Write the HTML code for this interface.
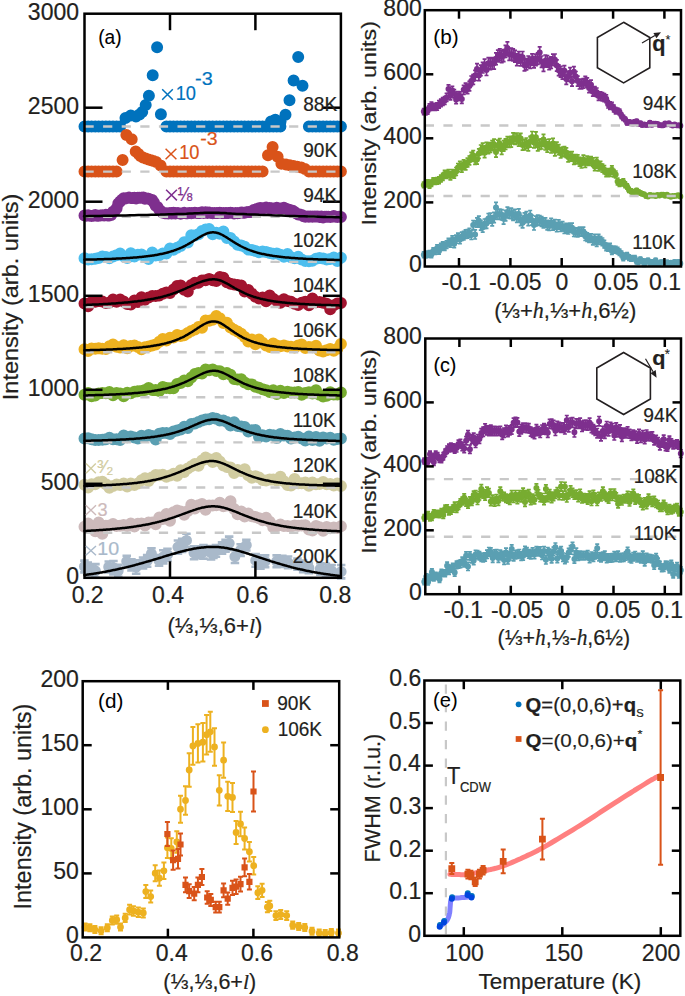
<!DOCTYPE html>
<html><head><meta charset="utf-8"><style>
html,body{margin:0;padding:0;background:#fff;}
svg{display:block;font-family:"Liberation Sans", sans-serif;}
</style></head><body>
<svg width="685" height="996" viewBox="0 0 685 996">
<rect width="685" height="996" fill="#fff"/>
<path d="M78.5 126.5a6 6 0 1 0 12 0a6 6 0 1 0 -12 0M82.1 126.5a6 6 0 1 0 12 0a6 6 0 1 0 -12 0M85.6 126.5a6 6 0 1 0 12 0a6 6 0 1 0 -12 0M89.2 126.5a6 6 0 1 0 12 0a6 6 0 1 0 -12 0M92.7 126.5a6 6 0 1 0 12 0a6 6 0 1 0 -12 0M96.3 126.5a6 6 0 1 0 12 0a6 6 0 1 0 -12 0M99.9 126.5a6 6 0 1 0 12 0a6 6 0 1 0 -12 0M103.4 126.5a6 6 0 1 0 12 0a6 6 0 1 0 -12 0M107 126.5a6 6 0 1 0 12 0a6 6 0 1 0 -12 0M110.6 126.5a6 6 0 1 0 12 0a6 6 0 1 0 -12 0M114.1 126.5a6 6 0 1 0 12 0a6 6 0 1 0 -12 0M160.4 126.5a6 6 0 1 0 12 0a6 6 0 1 0 -12 0M164 126.5a6 6 0 1 0 12 0a6 6 0 1 0 -12 0M167.5 126.5a6 6 0 1 0 12 0a6 6 0 1 0 -12 0M171.1 126.5a6 6 0 1 0 12 0a6 6 0 1 0 -12 0M174.7 126.5a6 6 0 1 0 12 0a6 6 0 1 0 -12 0M178.2 126.5a6 6 0 1 0 12 0a6 6 0 1 0 -12 0M181.8 126.5a6 6 0 1 0 12 0a6 6 0 1 0 -12 0M185.3 126.5a6 6 0 1 0 12 0a6 6 0 1 0 -12 0M188.9 126.5a6 6 0 1 0 12 0a6 6 0 1 0 -12 0M192.5 126.5a6 6 0 1 0 12 0a6 6 0 1 0 -12 0M196 126.5a6 6 0 1 0 12 0a6 6 0 1 0 -12 0M199.6 126.5a6 6 0 1 0 12 0a6 6 0 1 0 -12 0M203.1 126.5a6 6 0 1 0 12 0a6 6 0 1 0 -12 0M206.7 126.5a6 6 0 1 0 12 0a6 6 0 1 0 -12 0M210.3 126.5a6 6 0 1 0 12 0a6 6 0 1 0 -12 0M213.8 126.5a6 6 0 1 0 12 0a6 6 0 1 0 -12 0M217.4 126.5a6 6 0 1 0 12 0a6 6 0 1 0 -12 0M220.9 126.5a6 6 0 1 0 12 0a6 6 0 1 0 -12 0M224.5 126.5a6 6 0 1 0 12 0a6 6 0 1 0 -12 0M228.1 126.5a6 6 0 1 0 12 0a6 6 0 1 0 -12 0M231.6 126.5a6 6 0 1 0 12 0a6 6 0 1 0 -12 0M235.2 126.5a6 6 0 1 0 12 0a6 6 0 1 0 -12 0M238.7 126.5a6 6 0 1 0 12 0a6 6 0 1 0 -12 0M242.3 126.5a6 6 0 1 0 12 0a6 6 0 1 0 -12 0M245.9 126.5a6 6 0 1 0 12 0a6 6 0 1 0 -12 0M249.4 126.5a6 6 0 1 0 12 0a6 6 0 1 0 -12 0M253 126.5a6 6 0 1 0 12 0a6 6 0 1 0 -12 0M256.6 126.5a6 6 0 1 0 12 0a6 6 0 1 0 -12 0M260.1 126.5a6 6 0 1 0 12 0a6 6 0 1 0 -12 0M263.7 126.5a6 6 0 1 0 12 0a6 6 0 1 0 -12 0M267.2 126.5a6 6 0 1 0 12 0a6 6 0 1 0 -12 0M270.8 126.5a6 6 0 1 0 12 0a6 6 0 1 0 -12 0M274.4 126.5a6 6 0 1 0 12 0a6 6 0 1 0 -12 0M302.9 126.5a6 6 0 1 0 12 0a6 6 0 1 0 -12 0M306.4 126.5a6 6 0 1 0 12 0a6 6 0 1 0 -12 0M310 126.5a6 6 0 1 0 12 0a6 6 0 1 0 -12 0M313.5 126.5a6 6 0 1 0 12 0a6 6 0 1 0 -12 0M317.1 126.5a6 6 0 1 0 12 0a6 6 0 1 0 -12 0M320.7 126.5a6 6 0 1 0 12 0a6 6 0 1 0 -12 0M324.2 126.5a6 6 0 1 0 12 0a6 6 0 1 0 -12 0M327.8 126.5a6 6 0 1 0 12 0a6 6 0 1 0 -12 0M331.3 126.5a6 6 0 1 0 12 0a6 6 0 1 0 -12 0M334.9 126.5a6 6 0 1 0 12 0a6 6 0 1 0 -12 0M119.5 118.1a6 6 0 1 0 12 0a6 6 0 1 0 -12 0M124.8 115.5a6 6 0 1 0 12 0a6 6 0 1 0 -12 0M130 116.4a6 6 0 1 0 12 0a6 6 0 1 0 -12 0M133.5 114.5a6 6 0 1 0 12 0a6 6 0 1 0 -12 0M136.2 112a6 6 0 1 0 12 0a6 6 0 1 0 -12 0M139.7 105a6 6 0 1 0 12 0a6 6 0 1 0 -12 0M142.9 95.7a6 6 0 1 0 12 0a6 6 0 1 0 -12 0M146.7 75.2a6 6 0 1 0 12 0a6 6 0 1 0 -12 0M151.1 47.2a6 6 0 1 0 12 0a6 6 0 1 0 -12 0M154.9 114.3a6 6 0 1 0 12 0a6 6 0 1 0 -12 0M265 121.5a6 6 0 1 0 12 0a6 6 0 1 0 -12 0M269.3 119.7a6 6 0 1 0 12 0a6 6 0 1 0 -12 0M274.6 121.2a6 6 0 1 0 12 0a6 6 0 1 0 -12 0M279.5 114.8a6 6 0 1 0 12 0a6 6 0 1 0 -12 0M283.5 100.2a6 6 0 1 0 12 0a6 6 0 1 0 -12 0M287.6 80.6a6 6 0 1 0 12 0a6 6 0 1 0 -12 0M292.2 56.9a6 6 0 1 0 12 0a6 6 0 1 0 -12 0M296.5 85.7a6 6 0 1 0 12 0a6 6 0 1 0 -12 0" fill="#0072BD"/>
<path d="M78.5 171.6a6 6 0 1 0 12 0a6 6 0 1 0 -12 0M82.1 171.6a6 6 0 1 0 12 0a6 6 0 1 0 -12 0M85.6 171.6a6 6 0 1 0 12 0a6 6 0 1 0 -12 0M89.2 171.6a6 6 0 1 0 12 0a6 6 0 1 0 -12 0M92.7 171.6a6 6 0 1 0 12 0a6 6 0 1 0 -12 0M96.3 171.6a6 6 0 1 0 12 0a6 6 0 1 0 -12 0M99.9 171.6a6 6 0 1 0 12 0a6 6 0 1 0 -12 0M103.4 171.6a6 6 0 1 0 12 0a6 6 0 1 0 -12 0M107 171.6a6 6 0 1 0 12 0a6 6 0 1 0 -12 0M110.6 171.6a6 6 0 1 0 12 0a6 6 0 1 0 -12 0M160.4 171.6a6 6 0 1 0 12 0a6 6 0 1 0 -12 0M164 171.6a6 6 0 1 0 12 0a6 6 0 1 0 -12 0M167.5 171.6a6 6 0 1 0 12 0a6 6 0 1 0 -12 0M171.1 171.6a6 6 0 1 0 12 0a6 6 0 1 0 -12 0M174.7 171.6a6 6 0 1 0 12 0a6 6 0 1 0 -12 0M178.2 171.6a6 6 0 1 0 12 0a6 6 0 1 0 -12 0M181.8 171.6a6 6 0 1 0 12 0a6 6 0 1 0 -12 0M185.3 171.6a6 6 0 1 0 12 0a6 6 0 1 0 -12 0M188.9 171.6a6 6 0 1 0 12 0a6 6 0 1 0 -12 0M192.5 171.6a6 6 0 1 0 12 0a6 6 0 1 0 -12 0M196 171.6a6 6 0 1 0 12 0a6 6 0 1 0 -12 0M199.6 171.6a6 6 0 1 0 12 0a6 6 0 1 0 -12 0M203.1 171.6a6 6 0 1 0 12 0a6 6 0 1 0 -12 0M206.7 171.6a6 6 0 1 0 12 0a6 6 0 1 0 -12 0M210.3 171.6a6 6 0 1 0 12 0a6 6 0 1 0 -12 0M213.8 171.6a6 6 0 1 0 12 0a6 6 0 1 0 -12 0M217.4 171.6a6 6 0 1 0 12 0a6 6 0 1 0 -12 0M220.9 171.6a6 6 0 1 0 12 0a6 6 0 1 0 -12 0M224.5 171.6a6 6 0 1 0 12 0a6 6 0 1 0 -12 0M228.1 171.6a6 6 0 1 0 12 0a6 6 0 1 0 -12 0M231.6 171.6a6 6 0 1 0 12 0a6 6 0 1 0 -12 0M235.2 171.6a6 6 0 1 0 12 0a6 6 0 1 0 -12 0M238.7 171.6a6 6 0 1 0 12 0a6 6 0 1 0 -12 0M242.3 171.6a6 6 0 1 0 12 0a6 6 0 1 0 -12 0M245.9 171.6a6 6 0 1 0 12 0a6 6 0 1 0 -12 0M249.4 171.6a6 6 0 1 0 12 0a6 6 0 1 0 -12 0M253 171.6a6 6 0 1 0 12 0a6 6 0 1 0 -12 0M256.6 171.6a6 6 0 1 0 12 0a6 6 0 1 0 -12 0M302.9 171.6a6 6 0 1 0 12 0a6 6 0 1 0 -12 0M306.4 171.6a6 6 0 1 0 12 0a6 6 0 1 0 -12 0M310 171.6a6 6 0 1 0 12 0a6 6 0 1 0 -12 0M313.5 171.6a6 6 0 1 0 12 0a6 6 0 1 0 -12 0M317.1 171.6a6 6 0 1 0 12 0a6 6 0 1 0 -12 0M320.7 171.6a6 6 0 1 0 12 0a6 6 0 1 0 -12 0M324.2 171.6a6 6 0 1 0 12 0a6 6 0 1 0 -12 0M327.8 171.6a6 6 0 1 0 12 0a6 6 0 1 0 -12 0M331.3 171.6a6 6 0 1 0 12 0a6 6 0 1 0 -12 0M334.9 171.6a6 6 0 1 0 12 0a6 6 0 1 0 -12 0M116.6 160a6 6 0 1 0 12 0a6 6 0 1 0 -12 0M120.4 134.9a6 6 0 1 0 12 0a6 6 0 1 0 -12 0M125.7 139.3a6 6 0 1 0 12 0a6 6 0 1 0 -12 0M129.7 151.5a6 6 0 1 0 12 0a6 6 0 1 0 -12 0M132.5 154a6 6 0 1 0 12 0a6 6 0 1 0 -12 0M134.4 155.9a6 6 0 1 0 12 0a6 6 0 1 0 -12 0M137 157.5a6 6 0 1 0 12 0a6 6 0 1 0 -12 0M139.7 158.5a6 6 0 1 0 12 0a6 6 0 1 0 -12 0M142.5 159.5a6 6 0 1 0 12 0a6 6 0 1 0 -12 0M145 160.3a6 6 0 1 0 12 0a6 6 0 1 0 -12 0M147.5 161a6 6 0 1 0 12 0a6 6 0 1 0 -12 0M150.2 162a6 6 0 1 0 12 0a6 6 0 1 0 -12 0M154.6 165.5a6 6 0 1 0 12 0a6 6 0 1 0 -12 0M262 155.3a6 6 0 1 0 12 0a6 6 0 1 0 -12 0M266.6 146.9a6 6 0 1 0 12 0a6 6 0 1 0 -12 0M271.6 156.8a6 6 0 1 0 12 0a6 6 0 1 0 -12 0M275.4 163.7a6 6 0 1 0 12 0a6 6 0 1 0 -12 0M280 164.5a6 6 0 1 0 12 0a6 6 0 1 0 -12 0M283.8 165.2a6 6 0 1 0 12 0a6 6 0 1 0 -12 0M287.6 166a6 6 0 1 0 12 0a6 6 0 1 0 -12 0M291.4 166.8a6 6 0 1 0 12 0a6 6 0 1 0 -12 0M295.3 167.6a6 6 0 1 0 12 0a6 6 0 1 0 -12 0M299 169a6 6 0 1 0 12 0a6 6 0 1 0 -12 0" fill="#D95319"/>
<path d="M78.5 215.5a6 6 0 1 0 12 0a6 6 0 1 0 -12 0M82.1 215.2a6 6 0 1 0 12 0a6 6 0 1 0 -12 0M85.6 216a6 6 0 1 0 12 0a6 6 0 1 0 -12 0M89.2 215a6 6 0 1 0 12 0a6 6 0 1 0 -12 0M92.7 215.7a6 6 0 1 0 12 0a6 6 0 1 0 -12 0M96.3 215.3a6 6 0 1 0 12 0a6 6 0 1 0 -12 0M99.9 214.8a6 6 0 1 0 12 0a6 6 0 1 0 -12 0M103.4 215.5a6 6 0 1 0 12 0a6 6 0 1 0 -12 0M107 211.8a6 6 0 1 0 12 0a6 6 0 1 0 -12 0M110.6 208.3a6 6 0 1 0 12 0a6 6 0 1 0 -12 0M114.1 201.6a6 6 0 1 0 12 0a6 6 0 1 0 -12 0M117.7 198.3a6 6 0 1 0 12 0a6 6 0 1 0 -12 0M121.2 197.9a6 6 0 1 0 12 0a6 6 0 1 0 -12 0M124.8 198.1a6 6 0 1 0 12 0a6 6 0 1 0 -12 0M128.4 197.7a6 6 0 1 0 12 0a6 6 0 1 0 -12 0M131.9 197.8a6 6 0 1 0 12 0a6 6 0 1 0 -12 0M135.5 197.7a6 6 0 1 0 12 0a6 6 0 1 0 -12 0M139 198.7a6 6 0 1 0 12 0a6 6 0 1 0 -12 0M142.6 198.7a6 6 0 1 0 12 0a6 6 0 1 0 -12 0M146.2 199.9a6 6 0 1 0 12 0a6 6 0 1 0 -12 0M149.7 205.7a6 6 0 1 0 12 0a6 6 0 1 0 -12 0M153.3 209.8a6 6 0 1 0 12 0a6 6 0 1 0 -12 0M156.8 212.7a6 6 0 1 0 12 0a6 6 0 1 0 -12 0M160.4 213.2a6 6 0 1 0 12 0a6 6 0 1 0 -12 0M164 212.9a6 6 0 1 0 12 0a6 6 0 1 0 -12 0M167.5 212.8a6 6 0 1 0 12 0a6 6 0 1 0 -12 0M171.1 213.1a6 6 0 1 0 12 0a6 6 0 1 0 -12 0M174.7 213.8a6 6 0 1 0 12 0a6 6 0 1 0 -12 0M178.2 212.7a6 6 0 1 0 12 0a6 6 0 1 0 -12 0M181.8 213.3a6 6 0 1 0 12 0a6 6 0 1 0 -12 0M185.3 213.3a6 6 0 1 0 12 0a6 6 0 1 0 -12 0M188.9 212.8a6 6 0 1 0 12 0a6 6 0 1 0 -12 0M192.5 213.1a6 6 0 1 0 12 0a6 6 0 1 0 -12 0M196 212.3a6 6 0 1 0 12 0a6 6 0 1 0 -12 0M199.6 212.3a6 6 0 1 0 12 0a6 6 0 1 0 -12 0M203.1 212.5a6 6 0 1 0 12 0a6 6 0 1 0 -12 0M206.7 213.3a6 6 0 1 0 12 0a6 6 0 1 0 -12 0M210.3 212.9a6 6 0 1 0 12 0a6 6 0 1 0 -12 0M213.8 212.7a6 6 0 1 0 12 0a6 6 0 1 0 -12 0M217.4 213.1a6 6 0 1 0 12 0a6 6 0 1 0 -12 0M220.9 212.9a6 6 0 1 0 12 0a6 6 0 1 0 -12 0M224.5 212.7a6 6 0 1 0 12 0a6 6 0 1 0 -12 0M228.1 213.5a6 6 0 1 0 12 0a6 6 0 1 0 -12 0M231.6 213.3a6 6 0 1 0 12 0a6 6 0 1 0 -12 0M235.2 212.6a6 6 0 1 0 12 0a6 6 0 1 0 -12 0M238.7 212.7a6 6 0 1 0 12 0a6 6 0 1 0 -12 0M242.3 212.1a6 6 0 1 0 12 0a6 6 0 1 0 -12 0M245.9 211.9a6 6 0 1 0 12 0a6 6 0 1 0 -12 0M249.4 209.4a6 6 0 1 0 12 0a6 6 0 1 0 -12 0M253 208.2a6 6 0 1 0 12 0a6 6 0 1 0 -12 0M256.6 208.8a6 6 0 1 0 12 0a6 6 0 1 0 -12 0M260.1 207.4a6 6 0 1 0 12 0a6 6 0 1 0 -12 0M263.7 208a6 6 0 1 0 12 0a6 6 0 1 0 -12 0M267.2 208.7a6 6 0 1 0 12 0a6 6 0 1 0 -12 0M270.8 207.8a6 6 0 1 0 12 0a6 6 0 1 0 -12 0M274.4 208.4a6 6 0 1 0 12 0a6 6 0 1 0 -12 0M277.9 207.8a6 6 0 1 0 12 0a6 6 0 1 0 -12 0M281.5 209.3a6 6 0 1 0 12 0a6 6 0 1 0 -12 0M285 210.8a6 6 0 1 0 12 0a6 6 0 1 0 -12 0M288.6 212a6 6 0 1 0 12 0a6 6 0 1 0 -12 0M292.2 214.6a6 6 0 1 0 12 0a6 6 0 1 0 -12 0M295.7 215.1a6 6 0 1 0 12 0a6 6 0 1 0 -12 0M299.3 216.8a6 6 0 1 0 12 0a6 6 0 1 0 -12 0M302.9 216.7a6 6 0 1 0 12 0a6 6 0 1 0 -12 0M306.4 216.7a6 6 0 1 0 12 0a6 6 0 1 0 -12 0M310 216.5a6 6 0 1 0 12 0a6 6 0 1 0 -12 0M313.5 217.1a6 6 0 1 0 12 0a6 6 0 1 0 -12 0M317.1 217.4a6 6 0 1 0 12 0a6 6 0 1 0 -12 0M320.7 216.7a6 6 0 1 0 12 0a6 6 0 1 0 -12 0M324.2 217a6 6 0 1 0 12 0a6 6 0 1 0 -12 0M327.8 216.1a6 6 0 1 0 12 0a6 6 0 1 0 -12 0M331.3 217.1a6 6 0 1 0 12 0a6 6 0 1 0 -12 0M334.9 217a6 6 0 1 0 12 0a6 6 0 1 0 -12 0M80.3 215.8a6 6 0 1 0 12 0a6 6 0 1 0 -12 0M83.8 215.8a6 6 0 1 0 12 0a6 6 0 1 0 -12 0M87.4 215.7a6 6 0 1 0 12 0a6 6 0 1 0 -12 0M91 215.7a6 6 0 1 0 12 0a6 6 0 1 0 -12 0M94.5 215.6a6 6 0 1 0 12 0a6 6 0 1 0 -12 0M98.1 215.5a6 6 0 1 0 12 0a6 6 0 1 0 -12 0M101.6 215.5a6 6 0 1 0 12 0a6 6 0 1 0 -12 0M105.2 214.9a6 6 0 1 0 12 0a6 6 0 1 0 -12 0M108.8 211a6 6 0 1 0 12 0a6 6 0 1 0 -12 0M112.3 203.5a6 6 0 1 0 12 0a6 6 0 1 0 -12 0M115.9 199.7a6 6 0 1 0 12 0a6 6 0 1 0 -12 0M119.5 198.6a6 6 0 1 0 12 0a6 6 0 1 0 -12 0M123 197.6a6 6 0 1 0 12 0a6 6 0 1 0 -12 0M126.6 197.9a6 6 0 1 0 12 0a6 6 0 1 0 -12 0M130.1 198.5a6 6 0 1 0 12 0a6 6 0 1 0 -12 0M133.7 197.8a6 6 0 1 0 12 0a6 6 0 1 0 -12 0M137.3 197.6a6 6 0 1 0 12 0a6 6 0 1 0 -12 0M140.8 198.4a6 6 0 1 0 12 0a6 6 0 1 0 -12 0M144.4 199.5a6 6 0 1 0 12 0a6 6 0 1 0 -12 0M147.9 202.4a6 6 0 1 0 12 0a6 6 0 1 0 -12 0M151.5 206.9a6 6 0 1 0 12 0a6 6 0 1 0 -12 0M155.1 211.2a6 6 0 1 0 12 0a6 6 0 1 0 -12 0M158.6 213.2a6 6 0 1 0 12 0a6 6 0 1 0 -12 0M162.2 213.5a6 6 0 1 0 12 0a6 6 0 1 0 -12 0M165.7 213.5a6 6 0 1 0 12 0a6 6 0 1 0 -12 0M169.3 213.4a6 6 0 1 0 12 0a6 6 0 1 0 -12 0M172.9 213.3a6 6 0 1 0 12 0a6 6 0 1 0 -12 0M176.4 213.3a6 6 0 1 0 12 0a6 6 0 1 0 -12 0M180 213.2a6 6 0 1 0 12 0a6 6 0 1 0 -12 0M183.6 213.1a6 6 0 1 0 12 0a6 6 0 1 0 -12 0M187.1 213a6 6 0 1 0 12 0a6 6 0 1 0 -12 0M190.7 213a6 6 0 1 0 12 0a6 6 0 1 0 -12 0M194.2 213a6 6 0 1 0 12 0a6 6 0 1 0 -12 0M197.8 213a6 6 0 1 0 12 0a6 6 0 1 0 -12 0M201.4 213a6 6 0 1 0 12 0a6 6 0 1 0 -12 0M204.9 213a6 6 0 1 0 12 0a6 6 0 1 0 -12 0M208.5 213a6 6 0 1 0 12 0a6 6 0 1 0 -12 0M212 213a6 6 0 1 0 12 0a6 6 0 1 0 -12 0M215.6 213a6 6 0 1 0 12 0a6 6 0 1 0 -12 0M219.2 213a6 6 0 1 0 12 0a6 6 0 1 0 -12 0M222.7 213a6 6 0 1 0 12 0a6 6 0 1 0 -12 0M226.3 213a6 6 0 1 0 12 0a6 6 0 1 0 -12 0M229.8 213a6 6 0 1 0 12 0a6 6 0 1 0 -12 0M233.4 213a6 6 0 1 0 12 0a6 6 0 1 0 -12 0M237 212.8a6 6 0 1 0 12 0a6 6 0 1 0 -12 0M240.5 212.3a6 6 0 1 0 12 0a6 6 0 1 0 -12 0M244.1 212a6 6 0 1 0 12 0a6 6 0 1 0 -12 0M247.7 210a6 6 0 1 0 12 0a6 6 0 1 0 -12 0M251.2 208.9a6 6 0 1 0 12 0a6 6 0 1 0 -12 0M254.8 208.1a6 6 0 1 0 12 0a6 6 0 1 0 -12 0M258.3 208a6 6 0 1 0 12 0a6 6 0 1 0 -12 0M261.9 208.1a6 6 0 1 0 12 0a6 6 0 1 0 -12 0M265.5 208.2a6 6 0 1 0 12 0a6 6 0 1 0 -12 0M269 208.3a6 6 0 1 0 12 0a6 6 0 1 0 -12 0M272.6 208.4a6 6 0 1 0 12 0a6 6 0 1 0 -12 0M276.1 208.5a6 6 0 1 0 12 0a6 6 0 1 0 -12 0M279.7 208.5a6 6 0 1 0 12 0a6 6 0 1 0 -12 0M283.3 209.8a6 6 0 1 0 12 0a6 6 0 1 0 -12 0M286.8 210.7a6 6 0 1 0 12 0a6 6 0 1 0 -12 0M290.4 213.4a6 6 0 1 0 12 0a6 6 0 1 0 -12 0M293.9 214.4a6 6 0 1 0 12 0a6 6 0 1 0 -12 0M297.5 216.2a6 6 0 1 0 12 0a6 6 0 1 0 -12 0M301.1 216.5a6 6 0 1 0 12 0a6 6 0 1 0 -12 0M304.6 216.5a6 6 0 1 0 12 0a6 6 0 1 0 -12 0M308.2 216.5a6 6 0 1 0 12 0a6 6 0 1 0 -12 0M311.8 216.6a6 6 0 1 0 12 0a6 6 0 1 0 -12 0M315.3 216.6a6 6 0 1 0 12 0a6 6 0 1 0 -12 0M318.9 216.7a6 6 0 1 0 12 0a6 6 0 1 0 -12 0M322.4 216.7a6 6 0 1 0 12 0a6 6 0 1 0 -12 0M326 216.8a6 6 0 1 0 12 0a6 6 0 1 0 -12 0M329.6 216.8a6 6 0 1 0 12 0a6 6 0 1 0 -12 0M333.1 216.8a6 6 0 1 0 12 0a6 6 0 1 0 -12 0" fill="#7E2F8E"/>
<path d="M78.5 258.3a6 6 0 1 0 12 0a6 6 0 1 0 -12 0M82.1 259.4a6 6 0 1 0 12 0a6 6 0 1 0 -12 0M85.6 259.3a6 6 0 1 0 12 0a6 6 0 1 0 -12 0M89.2 258.8a6 6 0 1 0 12 0a6 6 0 1 0 -12 0M92.7 258a6 6 0 1 0 12 0a6 6 0 1 0 -12 0M96.3 256.5a6 6 0 1 0 12 0a6 6 0 1 0 -12 0M99.9 256.9a6 6 0 1 0 12 0a6 6 0 1 0 -12 0M103.4 258.3a6 6 0 1 0 12 0a6 6 0 1 0 -12 0M107 256.6a6 6 0 1 0 12 0a6 6 0 1 0 -12 0M110.6 255.3a6 6 0 1 0 12 0a6 6 0 1 0 -12 0M114.1 253.4a6 6 0 1 0 12 0a6 6 0 1 0 -12 0M117.7 256.2a6 6 0 1 0 12 0a6 6 0 1 0 -12 0M121.2 258a6 6 0 1 0 12 0a6 6 0 1 0 -12 0M124.8 253.3a6 6 0 1 0 12 0a6 6 0 1 0 -12 0M128.4 256.6a6 6 0 1 0 12 0a6 6 0 1 0 -12 0M131.9 254.7a6 6 0 1 0 12 0a6 6 0 1 0 -12 0M135.5 254.4a6 6 0 1 0 12 0a6 6 0 1 0 -12 0M139 256.7a6 6 0 1 0 12 0a6 6 0 1 0 -12 0M142.6 259.1a6 6 0 1 0 12 0a6 6 0 1 0 -12 0M146.2 252.4a6 6 0 1 0 12 0a6 6 0 1 0 -12 0M149.7 255.6a6 6 0 1 0 12 0a6 6 0 1 0 -12 0M153.3 255.2a6 6 0 1 0 12 0a6 6 0 1 0 -12 0M156.8 253.5a6 6 0 1 0 12 0a6 6 0 1 0 -12 0M160.4 253.6a6 6 0 1 0 12 0a6 6 0 1 0 -12 0M164 248.6a6 6 0 1 0 12 0a6 6 0 1 0 -12 0M167.5 249.7a6 6 0 1 0 12 0a6 6 0 1 0 -12 0M171.1 247.7a6 6 0 1 0 12 0a6 6 0 1 0 -12 0M174.7 246a6 6 0 1 0 12 0a6 6 0 1 0 -12 0M178.2 242.3a6 6 0 1 0 12 0a6 6 0 1 0 -12 0M181.8 242.5a6 6 0 1 0 12 0a6 6 0 1 0 -12 0M185.3 235.3a6 6 0 1 0 12 0a6 6 0 1 0 -12 0M188.9 235.4a6 6 0 1 0 12 0a6 6 0 1 0 -12 0M192.5 234.2a6 6 0 1 0 12 0a6 6 0 1 0 -12 0M196 231.1a6 6 0 1 0 12 0a6 6 0 1 0 -12 0M199.6 229.6a6 6 0 1 0 12 0a6 6 0 1 0 -12 0M203.1 229a6 6 0 1 0 12 0a6 6 0 1 0 -12 0M206.7 234.3a6 6 0 1 0 12 0a6 6 0 1 0 -12 0M210.3 232.7a6 6 0 1 0 12 0a6 6 0 1 0 -12 0M213.8 233.7a6 6 0 1 0 12 0a6 6 0 1 0 -12 0M217.4 231.4a6 6 0 1 0 12 0a6 6 0 1 0 -12 0M220.9 238a6 6 0 1 0 12 0a6 6 0 1 0 -12 0M224.5 238.1a6 6 0 1 0 12 0a6 6 0 1 0 -12 0M228.1 241.5a6 6 0 1 0 12 0a6 6 0 1 0 -12 0M231.6 244.7a6 6 0 1 0 12 0a6 6 0 1 0 -12 0M235.2 245.5a6 6 0 1 0 12 0a6 6 0 1 0 -12 0M238.7 246.8a6 6 0 1 0 12 0a6 6 0 1 0 -12 0M242.3 249.6a6 6 0 1 0 12 0a6 6 0 1 0 -12 0M245.9 249.9a6 6 0 1 0 12 0a6 6 0 1 0 -12 0M249.4 251a6 6 0 1 0 12 0a6 6 0 1 0 -12 0M253 252.2a6 6 0 1 0 12 0a6 6 0 1 0 -12 0M256.6 251.4a6 6 0 1 0 12 0a6 6 0 1 0 -12 0M260.1 251.9a6 6 0 1 0 12 0a6 6 0 1 0 -12 0M263.7 253a6 6 0 1 0 12 0a6 6 0 1 0 -12 0M267.2 253.7a6 6 0 1 0 12 0a6 6 0 1 0 -12 0M270.8 253.4a6 6 0 1 0 12 0a6 6 0 1 0 -12 0M274.4 254.7a6 6 0 1 0 12 0a6 6 0 1 0 -12 0M277.9 256.8a6 6 0 1 0 12 0a6 6 0 1 0 -12 0M281.5 254a6 6 0 1 0 12 0a6 6 0 1 0 -12 0M285 257.3a6 6 0 1 0 12 0a6 6 0 1 0 -12 0M288.6 258.2a6 6 0 1 0 12 0a6 6 0 1 0 -12 0M292.2 256.7a6 6 0 1 0 12 0a6 6 0 1 0 -12 0M295.7 259.6a6 6 0 1 0 12 0a6 6 0 1 0 -12 0M299.3 261a6 6 0 1 0 12 0a6 6 0 1 0 -12 0M302.9 261.2a6 6 0 1 0 12 0a6 6 0 1 0 -12 0M306.4 260.8a6 6 0 1 0 12 0a6 6 0 1 0 -12 0M310 258.7a6 6 0 1 0 12 0a6 6 0 1 0 -12 0M313.5 257.9a6 6 0 1 0 12 0a6 6 0 1 0 -12 0M317.1 258.6a6 6 0 1 0 12 0a6 6 0 1 0 -12 0M320.7 259.6a6 6 0 1 0 12 0a6 6 0 1 0 -12 0M324.2 259a6 6 0 1 0 12 0a6 6 0 1 0 -12 0M327.8 257.5a6 6 0 1 0 12 0a6 6 0 1 0 -12 0M331.3 261a6 6 0 1 0 12 0a6 6 0 1 0 -12 0M334.9 257.7a6 6 0 1 0 12 0a6 6 0 1 0 -12 0" fill="#4DBEEE"/>
<path d="M78.5 303.4a6 6 0 1 0 12 0a6 6 0 1 0 -12 0M82.1 306.2a6 6 0 1 0 12 0a6 6 0 1 0 -12 0M85.6 301.9a6 6 0 1 0 12 0a6 6 0 1 0 -12 0M89.2 301.8a6 6 0 1 0 12 0a6 6 0 1 0 -12 0M92.7 300.9a6 6 0 1 0 12 0a6 6 0 1 0 -12 0M96.3 301.6a6 6 0 1 0 12 0a6 6 0 1 0 -12 0M99.9 303.1a6 6 0 1 0 12 0a6 6 0 1 0 -12 0M103.4 302.4a6 6 0 1 0 12 0a6 6 0 1 0 -12 0M107 299.6a6 6 0 1 0 12 0a6 6 0 1 0 -12 0M110.6 301.8a6 6 0 1 0 12 0a6 6 0 1 0 -12 0M114.1 299.6a6 6 0 1 0 12 0a6 6 0 1 0 -12 0M117.7 301.6a6 6 0 1 0 12 0a6 6 0 1 0 -12 0M121.2 304.1a6 6 0 1 0 12 0a6 6 0 1 0 -12 0M124.8 304.4a6 6 0 1 0 12 0a6 6 0 1 0 -12 0M128.4 300.5a6 6 0 1 0 12 0a6 6 0 1 0 -12 0M131.9 301.9a6 6 0 1 0 12 0a6 6 0 1 0 -12 0M135.5 297.3a6 6 0 1 0 12 0a6 6 0 1 0 -12 0M139 299.7a6 6 0 1 0 12 0a6 6 0 1 0 -12 0M142.6 297.6a6 6 0 1 0 12 0a6 6 0 1 0 -12 0M146.2 296a6 6 0 1 0 12 0a6 6 0 1 0 -12 0M149.7 296.1a6 6 0 1 0 12 0a6 6 0 1 0 -12 0M153.3 295.4a6 6 0 1 0 12 0a6 6 0 1 0 -12 0M156.8 293.8a6 6 0 1 0 12 0a6 6 0 1 0 -12 0M160.4 292.4a6 6 0 1 0 12 0a6 6 0 1 0 -12 0M164 293.1a6 6 0 1 0 12 0a6 6 0 1 0 -12 0M167.5 289.4a6 6 0 1 0 12 0a6 6 0 1 0 -12 0M171.1 286.1a6 6 0 1 0 12 0a6 6 0 1 0 -12 0M174.7 285.4a6 6 0 1 0 12 0a6 6 0 1 0 -12 0M178.2 289.7a6 6 0 1 0 12 0a6 6 0 1 0 -12 0M181.8 291.4a6 6 0 1 0 12 0a6 6 0 1 0 -12 0M185.3 285a6 6 0 1 0 12 0a6 6 0 1 0 -12 0M188.9 282.8a6 6 0 1 0 12 0a6 6 0 1 0 -12 0M192.5 282.8a6 6 0 1 0 12 0a6 6 0 1 0 -12 0M196 280.4a6 6 0 1 0 12 0a6 6 0 1 0 -12 0M199.6 280.2a6 6 0 1 0 12 0a6 6 0 1 0 -12 0M203.1 278.9a6 6 0 1 0 12 0a6 6 0 1 0 -12 0M206.7 280.3a6 6 0 1 0 12 0a6 6 0 1 0 -12 0M210.3 280.9a6 6 0 1 0 12 0a6 6 0 1 0 -12 0M213.8 276.9a6 6 0 1 0 12 0a6 6 0 1 0 -12 0M217.4 277.7a6 6 0 1 0 12 0a6 6 0 1 0 -12 0M220.9 282.2a6 6 0 1 0 12 0a6 6 0 1 0 -12 0M224.5 283.7a6 6 0 1 0 12 0a6 6 0 1 0 -12 0M228.1 284.6a6 6 0 1 0 12 0a6 6 0 1 0 -12 0M231.6 285a6 6 0 1 0 12 0a6 6 0 1 0 -12 0M235.2 285.6a6 6 0 1 0 12 0a6 6 0 1 0 -12 0M238.7 291.5a6 6 0 1 0 12 0a6 6 0 1 0 -12 0M242.3 290a6 6 0 1 0 12 0a6 6 0 1 0 -12 0M245.9 293.7a6 6 0 1 0 12 0a6 6 0 1 0 -12 0M249.4 296.8a6 6 0 1 0 12 0a6 6 0 1 0 -12 0M253 298.5a6 6 0 1 0 12 0a6 6 0 1 0 -12 0M256.6 297.6a6 6 0 1 0 12 0a6 6 0 1 0 -12 0M260.1 301.3a6 6 0 1 0 12 0a6 6 0 1 0 -12 0M263.7 295.5a6 6 0 1 0 12 0a6 6 0 1 0 -12 0M267.2 298.7a6 6 0 1 0 12 0a6 6 0 1 0 -12 0M270.8 301.1a6 6 0 1 0 12 0a6 6 0 1 0 -12 0M274.4 302.7a6 6 0 1 0 12 0a6 6 0 1 0 -12 0M277.9 299.2a6 6 0 1 0 12 0a6 6 0 1 0 -12 0M281.5 300.9a6 6 0 1 0 12 0a6 6 0 1 0 -12 0M285 301.7a6 6 0 1 0 12 0a6 6 0 1 0 -12 0M288.6 303.7a6 6 0 1 0 12 0a6 6 0 1 0 -12 0M292.2 305.1a6 6 0 1 0 12 0a6 6 0 1 0 -12 0M295.7 302.7a6 6 0 1 0 12 0a6 6 0 1 0 -12 0M299.3 301.7a6 6 0 1 0 12 0a6 6 0 1 0 -12 0M302.9 305.2a6 6 0 1 0 12 0a6 6 0 1 0 -12 0M306.4 298.5a6 6 0 1 0 12 0a6 6 0 1 0 -12 0M310 302.2a6 6 0 1 0 12 0a6 6 0 1 0 -12 0M313.5 301.9a6 6 0 1 0 12 0a6 6 0 1 0 -12 0M317.1 302.7a6 6 0 1 0 12 0a6 6 0 1 0 -12 0M320.7 303.7a6 6 0 1 0 12 0a6 6 0 1 0 -12 0M324.2 309.2a6 6 0 1 0 12 0a6 6 0 1 0 -12 0M327.8 305.2a6 6 0 1 0 12 0a6 6 0 1 0 -12 0M331.3 303.6a6 6 0 1 0 12 0a6 6 0 1 0 -12 0M334.9 303a6 6 0 1 0 12 0a6 6 0 1 0 -12 0" fill="#A2142F"/>
<path d="M78.5 349.3a6 6 0 1 0 12 0a6 6 0 1 0 -12 0M82.1 350.9a6 6 0 1 0 12 0a6 6 0 1 0 -12 0M85.6 348.6a6 6 0 1 0 12 0a6 6 0 1 0 -12 0M89.2 348.8a6 6 0 1 0 12 0a6 6 0 1 0 -12 0M92.7 348.3a6 6 0 1 0 12 0a6 6 0 1 0 -12 0M96.3 348.8a6 6 0 1 0 12 0a6 6 0 1 0 -12 0M99.9 349a6 6 0 1 0 12 0a6 6 0 1 0 -12 0M103.4 346.3a6 6 0 1 0 12 0a6 6 0 1 0 -12 0M107 344.5a6 6 0 1 0 12 0a6 6 0 1 0 -12 0M110.6 346.8a6 6 0 1 0 12 0a6 6 0 1 0 -12 0M114.1 347.5a6 6 0 1 0 12 0a6 6 0 1 0 -12 0M117.7 345.3a6 6 0 1 0 12 0a6 6 0 1 0 -12 0M121.2 348.2a6 6 0 1 0 12 0a6 6 0 1 0 -12 0M124.8 346a6 6 0 1 0 12 0a6 6 0 1 0 -12 0M128.4 345.4a6 6 0 1 0 12 0a6 6 0 1 0 -12 0M131.9 347.1a6 6 0 1 0 12 0a6 6 0 1 0 -12 0M135.5 349.2a6 6 0 1 0 12 0a6 6 0 1 0 -12 0M139 347.3a6 6 0 1 0 12 0a6 6 0 1 0 -12 0M142.6 346.4a6 6 0 1 0 12 0a6 6 0 1 0 -12 0M146.2 345.5a6 6 0 1 0 12 0a6 6 0 1 0 -12 0M149.7 344.4a6 6 0 1 0 12 0a6 6 0 1 0 -12 0M153.3 341.8a6 6 0 1 0 12 0a6 6 0 1 0 -12 0M156.8 338.9a6 6 0 1 0 12 0a6 6 0 1 0 -12 0M160.4 340.6a6 6 0 1 0 12 0a6 6 0 1 0 -12 0M164 337.7a6 6 0 1 0 12 0a6 6 0 1 0 -12 0M167.5 337.5a6 6 0 1 0 12 0a6 6 0 1 0 -12 0M171.1 335a6 6 0 1 0 12 0a6 6 0 1 0 -12 0M174.7 335.9a6 6 0 1 0 12 0a6 6 0 1 0 -12 0M178.2 335.2a6 6 0 1 0 12 0a6 6 0 1 0 -12 0M181.8 333a6 6 0 1 0 12 0a6 6 0 1 0 -12 0M185.3 330.9a6 6 0 1 0 12 0a6 6 0 1 0 -12 0M188.9 329.5a6 6 0 1 0 12 0a6 6 0 1 0 -12 0M192.5 327.1a6 6 0 1 0 12 0a6 6 0 1 0 -12 0M196 327.8a6 6 0 1 0 12 0a6 6 0 1 0 -12 0M199.6 320.6a6 6 0 1 0 12 0a6 6 0 1 0 -12 0M203.1 320.7a6 6 0 1 0 12 0a6 6 0 1 0 -12 0M206.7 319.8a6 6 0 1 0 12 0a6 6 0 1 0 -12 0M210.3 315.9a6 6 0 1 0 12 0a6 6 0 1 0 -12 0M213.8 318.2a6 6 0 1 0 12 0a6 6 0 1 0 -12 0M217.4 322.9a6 6 0 1 0 12 0a6 6 0 1 0 -12 0M220.9 322.7a6 6 0 1 0 12 0a6 6 0 1 0 -12 0M224.5 327.4a6 6 0 1 0 12 0a6 6 0 1 0 -12 0M228.1 329.7a6 6 0 1 0 12 0a6 6 0 1 0 -12 0M231.6 331.4a6 6 0 1 0 12 0a6 6 0 1 0 -12 0M235.2 333.7a6 6 0 1 0 12 0a6 6 0 1 0 -12 0M238.7 337.1a6 6 0 1 0 12 0a6 6 0 1 0 -12 0M242.3 341.5a6 6 0 1 0 12 0a6 6 0 1 0 -12 0M245.9 339.6a6 6 0 1 0 12 0a6 6 0 1 0 -12 0M249.4 344.3a6 6 0 1 0 12 0a6 6 0 1 0 -12 0M253 339.6a6 6 0 1 0 12 0a6 6 0 1 0 -12 0M256.6 342.8a6 6 0 1 0 12 0a6 6 0 1 0 -12 0M260.1 345.6a6 6 0 1 0 12 0a6 6 0 1 0 -12 0M263.7 346.9a6 6 0 1 0 12 0a6 6 0 1 0 -12 0M267.2 343.5a6 6 0 1 0 12 0a6 6 0 1 0 -12 0M270.8 345.6a6 6 0 1 0 12 0a6 6 0 1 0 -12 0M274.4 346.2a6 6 0 1 0 12 0a6 6 0 1 0 -12 0M277.9 345.4a6 6 0 1 0 12 0a6 6 0 1 0 -12 0M281.5 346.6a6 6 0 1 0 12 0a6 6 0 1 0 -12 0M285 346.7a6 6 0 1 0 12 0a6 6 0 1 0 -12 0M288.6 347.4a6 6 0 1 0 12 0a6 6 0 1 0 -12 0M292.2 345.6a6 6 0 1 0 12 0a6 6 0 1 0 -12 0M295.7 344.6a6 6 0 1 0 12 0a6 6 0 1 0 -12 0M299.3 348a6 6 0 1 0 12 0a6 6 0 1 0 -12 0M302.9 346.9a6 6 0 1 0 12 0a6 6 0 1 0 -12 0M306.4 347.2a6 6 0 1 0 12 0a6 6 0 1 0 -12 0M310 345.7a6 6 0 1 0 12 0a6 6 0 1 0 -12 0M313.5 350.5a6 6 0 1 0 12 0a6 6 0 1 0 -12 0M317.1 351.4a6 6 0 1 0 12 0a6 6 0 1 0 -12 0M320.7 350.2a6 6 0 1 0 12 0a6 6 0 1 0 -12 0M324.2 349a6 6 0 1 0 12 0a6 6 0 1 0 -12 0M327.8 350.8a6 6 0 1 0 12 0a6 6 0 1 0 -12 0M331.3 348.7a6 6 0 1 0 12 0a6 6 0 1 0 -12 0M334.9 344.1a6 6 0 1 0 12 0a6 6 0 1 0 -12 0" fill="#EDB120"/>
<path d="M78.5 394.7a6 6 0 1 0 12 0a6 6 0 1 0 -12 0M82.1 393.1a6 6 0 1 0 12 0a6 6 0 1 0 -12 0M85.6 396.2a6 6 0 1 0 12 0a6 6 0 1 0 -12 0M89.2 395.6a6 6 0 1 0 12 0a6 6 0 1 0 -12 0M92.7 393.6a6 6 0 1 0 12 0a6 6 0 1 0 -12 0M96.3 392.9a6 6 0 1 0 12 0a6 6 0 1 0 -12 0M99.9 393.2a6 6 0 1 0 12 0a6 6 0 1 0 -12 0M103.4 392.1a6 6 0 1 0 12 0a6 6 0 1 0 -12 0M107 395.3a6 6 0 1 0 12 0a6 6 0 1 0 -12 0M110.6 392.9a6 6 0 1 0 12 0a6 6 0 1 0 -12 0M114.1 393.4a6 6 0 1 0 12 0a6 6 0 1 0 -12 0M117.7 396.2a6 6 0 1 0 12 0a6 6 0 1 0 -12 0M121.2 392.8a6 6 0 1 0 12 0a6 6 0 1 0 -12 0M124.8 393.3a6 6 0 1 0 12 0a6 6 0 1 0 -12 0M128.4 391.8a6 6 0 1 0 12 0a6 6 0 1 0 -12 0M131.9 391.2a6 6 0 1 0 12 0a6 6 0 1 0 -12 0M135.5 390.9a6 6 0 1 0 12 0a6 6 0 1 0 -12 0M139 390.1a6 6 0 1 0 12 0a6 6 0 1 0 -12 0M142.6 388.1a6 6 0 1 0 12 0a6 6 0 1 0 -12 0M146.2 390.1a6 6 0 1 0 12 0a6 6 0 1 0 -12 0M149.7 390a6 6 0 1 0 12 0a6 6 0 1 0 -12 0M153.3 391.1a6 6 0 1 0 12 0a6 6 0 1 0 -12 0M156.8 386.9a6 6 0 1 0 12 0a6 6 0 1 0 -12 0M160.4 388a6 6 0 1 0 12 0a6 6 0 1 0 -12 0M164 388.3a6 6 0 1 0 12 0a6 6 0 1 0 -12 0M167.5 388.2a6 6 0 1 0 12 0a6 6 0 1 0 -12 0M171.1 384a6 6 0 1 0 12 0a6 6 0 1 0 -12 0M174.7 383a6 6 0 1 0 12 0a6 6 0 1 0 -12 0M178.2 380.5a6 6 0 1 0 12 0a6 6 0 1 0 -12 0M181.8 381.3a6 6 0 1 0 12 0a6 6 0 1 0 -12 0M185.3 377.6a6 6 0 1 0 12 0a6 6 0 1 0 -12 0M188.9 374.1a6 6 0 1 0 12 0a6 6 0 1 0 -12 0M192.5 373.1a6 6 0 1 0 12 0a6 6 0 1 0 -12 0M196 373.5a6 6 0 1 0 12 0a6 6 0 1 0 -12 0M199.6 369.6a6 6 0 1 0 12 0a6 6 0 1 0 -12 0M203.1 370.3a6 6 0 1 0 12 0a6 6 0 1 0 -12 0M206.7 369.5a6 6 0 1 0 12 0a6 6 0 1 0 -12 0M210.3 371.1a6 6 0 1 0 12 0a6 6 0 1 0 -12 0M213.8 371.3a6 6 0 1 0 12 0a6 6 0 1 0 -12 0M217.4 374.2a6 6 0 1 0 12 0a6 6 0 1 0 -12 0M220.9 373.1a6 6 0 1 0 12 0a6 6 0 1 0 -12 0M224.5 374.8a6 6 0 1 0 12 0a6 6 0 1 0 -12 0M228.1 378.9a6 6 0 1 0 12 0a6 6 0 1 0 -12 0M231.6 379.6a6 6 0 1 0 12 0a6 6 0 1 0 -12 0M235.2 379.3a6 6 0 1 0 12 0a6 6 0 1 0 -12 0M238.7 382.6a6 6 0 1 0 12 0a6 6 0 1 0 -12 0M242.3 384.2a6 6 0 1 0 12 0a6 6 0 1 0 -12 0M245.9 384.4a6 6 0 1 0 12 0a6 6 0 1 0 -12 0M249.4 386.7a6 6 0 1 0 12 0a6 6 0 1 0 -12 0M253 387.7a6 6 0 1 0 12 0a6 6 0 1 0 -12 0M256.6 389.2a6 6 0 1 0 12 0a6 6 0 1 0 -12 0M260.1 390.3a6 6 0 1 0 12 0a6 6 0 1 0 -12 0M263.7 392a6 6 0 1 0 12 0a6 6 0 1 0 -12 0M267.2 390.2a6 6 0 1 0 12 0a6 6 0 1 0 -12 0M270.8 393.9a6 6 0 1 0 12 0a6 6 0 1 0 -12 0M274.4 390.8a6 6 0 1 0 12 0a6 6 0 1 0 -12 0M277.9 393a6 6 0 1 0 12 0a6 6 0 1 0 -12 0M281.5 391.8a6 6 0 1 0 12 0a6 6 0 1 0 -12 0M285 392.5a6 6 0 1 0 12 0a6 6 0 1 0 -12 0M288.6 392.6a6 6 0 1 0 12 0a6 6 0 1 0 -12 0M292.2 391.9a6 6 0 1 0 12 0a6 6 0 1 0 -12 0M295.7 394.8a6 6 0 1 0 12 0a6 6 0 1 0 -12 0M299.3 393a6 6 0 1 0 12 0a6 6 0 1 0 -12 0M302.9 392.3a6 6 0 1 0 12 0a6 6 0 1 0 -12 0M306.4 393.4a6 6 0 1 0 12 0a6 6 0 1 0 -12 0M310 390.3a6 6 0 1 0 12 0a6 6 0 1 0 -12 0M313.5 394.7a6 6 0 1 0 12 0a6 6 0 1 0 -12 0M317.1 396.4a6 6 0 1 0 12 0a6 6 0 1 0 -12 0M320.7 395.8a6 6 0 1 0 12 0a6 6 0 1 0 -12 0M324.2 392.2a6 6 0 1 0 12 0a6 6 0 1 0 -12 0M327.8 394.6a6 6 0 1 0 12 0a6 6 0 1 0 -12 0M331.3 394.6a6 6 0 1 0 12 0a6 6 0 1 0 -12 0M334.9 392.5a6 6 0 1 0 12 0a6 6 0 1 0 -12 0" fill="#77AC30"/>
<path d="M78.5 438.4a6 6 0 1 0 12 0a6 6 0 1 0 -12 0M82.1 438.3a6 6 0 1 0 12 0a6 6 0 1 0 -12 0M85.6 439.2a6 6 0 1 0 12 0a6 6 0 1 0 -12 0M89.2 440a6 6 0 1 0 12 0a6 6 0 1 0 -12 0M92.7 439.9a6 6 0 1 0 12 0a6 6 0 1 0 -12 0M96.3 439.8a6 6 0 1 0 12 0a6 6 0 1 0 -12 0M99.9 439.2a6 6 0 1 0 12 0a6 6 0 1 0 -12 0M103.4 437.8a6 6 0 1 0 12 0a6 6 0 1 0 -12 0M107 439.2a6 6 0 1 0 12 0a6 6 0 1 0 -12 0M110.6 439.2a6 6 0 1 0 12 0a6 6 0 1 0 -12 0M114.1 440.1a6 6 0 1 0 12 0a6 6 0 1 0 -12 0M117.7 435.4a6 6 0 1 0 12 0a6 6 0 1 0 -12 0M121.2 437.2a6 6 0 1 0 12 0a6 6 0 1 0 -12 0M124.8 436.4a6 6 0 1 0 12 0a6 6 0 1 0 -12 0M128.4 437.4a6 6 0 1 0 12 0a6 6 0 1 0 -12 0M131.9 438.4a6 6 0 1 0 12 0a6 6 0 1 0 -12 0M135.5 435.8a6 6 0 1 0 12 0a6 6 0 1 0 -12 0M139 436.7a6 6 0 1 0 12 0a6 6 0 1 0 -12 0M142.6 434.9a6 6 0 1 0 12 0a6 6 0 1 0 -12 0M146.2 436.1a6 6 0 1 0 12 0a6 6 0 1 0 -12 0M149.7 439.5a6 6 0 1 0 12 0a6 6 0 1 0 -12 0M153.3 433.8a6 6 0 1 0 12 0a6 6 0 1 0 -12 0M156.8 433a6 6 0 1 0 12 0a6 6 0 1 0 -12 0M160.4 433.1a6 6 0 1 0 12 0a6 6 0 1 0 -12 0M164 434a6 6 0 1 0 12 0a6 6 0 1 0 -12 0M167.5 431.4a6 6 0 1 0 12 0a6 6 0 1 0 -12 0M171.1 430.6a6 6 0 1 0 12 0a6 6 0 1 0 -12 0M174.7 429.5a6 6 0 1 0 12 0a6 6 0 1 0 -12 0M178.2 426.8a6 6 0 1 0 12 0a6 6 0 1 0 -12 0M181.8 427.9a6 6 0 1 0 12 0a6 6 0 1 0 -12 0M185.3 424.1a6 6 0 1 0 12 0a6 6 0 1 0 -12 0M188.9 423.6a6 6 0 1 0 12 0a6 6 0 1 0 -12 0M192.5 421.9a6 6 0 1 0 12 0a6 6 0 1 0 -12 0M196 420.6a6 6 0 1 0 12 0a6 6 0 1 0 -12 0M199.6 419.4a6 6 0 1 0 12 0a6 6 0 1 0 -12 0M203.1 419.3a6 6 0 1 0 12 0a6 6 0 1 0 -12 0M206.7 417.9a6 6 0 1 0 12 0a6 6 0 1 0 -12 0M210.3 418.7a6 6 0 1 0 12 0a6 6 0 1 0 -12 0M213.8 420.5a6 6 0 1 0 12 0a6 6 0 1 0 -12 0M217.4 420.5a6 6 0 1 0 12 0a6 6 0 1 0 -12 0M220.9 421.9a6 6 0 1 0 12 0a6 6 0 1 0 -12 0M224.5 425.4a6 6 0 1 0 12 0a6 6 0 1 0 -12 0M228.1 422.3a6 6 0 1 0 12 0a6 6 0 1 0 -12 0M231.6 426a6 6 0 1 0 12 0a6 6 0 1 0 -12 0M235.2 426.5a6 6 0 1 0 12 0a6 6 0 1 0 -12 0M238.7 427.1a6 6 0 1 0 12 0a6 6 0 1 0 -12 0M242.3 431.5a6 6 0 1 0 12 0a6 6 0 1 0 -12 0M245.9 430.2a6 6 0 1 0 12 0a6 6 0 1 0 -12 0M249.4 430.1a6 6 0 1 0 12 0a6 6 0 1 0 -12 0M253 437.1a6 6 0 1 0 12 0a6 6 0 1 0 -12 0M256.6 435.3a6 6 0 1 0 12 0a6 6 0 1 0 -12 0M260.1 436.5a6 6 0 1 0 12 0a6 6 0 1 0 -12 0M263.7 434.8a6 6 0 1 0 12 0a6 6 0 1 0 -12 0M267.2 435.3a6 6 0 1 0 12 0a6 6 0 1 0 -12 0M270.8 438a6 6 0 1 0 12 0a6 6 0 1 0 -12 0M274.4 433.9a6 6 0 1 0 12 0a6 6 0 1 0 -12 0M277.9 435.4a6 6 0 1 0 12 0a6 6 0 1 0 -12 0M281.5 435.8a6 6 0 1 0 12 0a6 6 0 1 0 -12 0M285 438.4a6 6 0 1 0 12 0a6 6 0 1 0 -12 0M288.6 437.6a6 6 0 1 0 12 0a6 6 0 1 0 -12 0M292.2 436.8a6 6 0 1 0 12 0a6 6 0 1 0 -12 0M295.7 438.6a6 6 0 1 0 12 0a6 6 0 1 0 -12 0M299.3 440.4a6 6 0 1 0 12 0a6 6 0 1 0 -12 0M302.9 436.5a6 6 0 1 0 12 0a6 6 0 1 0 -12 0M306.4 440a6 6 0 1 0 12 0a6 6 0 1 0 -12 0M310 437.1a6 6 0 1 0 12 0a6 6 0 1 0 -12 0M313.5 440.8a6 6 0 1 0 12 0a6 6 0 1 0 -12 0M317.1 437.4a6 6 0 1 0 12 0a6 6 0 1 0 -12 0M320.7 438.4a6 6 0 1 0 12 0a6 6 0 1 0 -12 0M324.2 437.7a6 6 0 1 0 12 0a6 6 0 1 0 -12 0M327.8 439.7a6 6 0 1 0 12 0a6 6 0 1 0 -12 0M331.3 439.1a6 6 0 1 0 12 0a6 6 0 1 0 -12 0M334.9 438.6a6 6 0 1 0 12 0a6 6 0 1 0 -12 0" fill="#5A9FB2"/>
<path d="M78.5 484.7a6 6 0 1 0 12 0a6 6 0 1 0 -12 0M82.1 487.6a6 6 0 1 0 12 0a6 6 0 1 0 -12 0M85.6 484.2a6 6 0 1 0 12 0a6 6 0 1 0 -12 0M89.2 484.3a6 6 0 1 0 12 0a6 6 0 1 0 -12 0M92.7 482.2a6 6 0 1 0 12 0a6 6 0 1 0 -12 0M96.3 481.8a6 6 0 1 0 12 0a6 6 0 1 0 -12 0M99.9 484.2a6 6 0 1 0 12 0a6 6 0 1 0 -12 0M103.4 487.8a6 6 0 1 0 12 0a6 6 0 1 0 -12 0M107 486a6 6 0 1 0 12 0a6 6 0 1 0 -12 0M110.6 484.5a6 6 0 1 0 12 0a6 6 0 1 0 -12 0M114.1 485a6 6 0 1 0 12 0a6 6 0 1 0 -12 0M117.7 483.4a6 6 0 1 0 12 0a6 6 0 1 0 -12 0M121.2 486.4a6 6 0 1 0 12 0a6 6 0 1 0 -12 0M124.8 483.5a6 6 0 1 0 12 0a6 6 0 1 0 -12 0M128.4 485.1a6 6 0 1 0 12 0a6 6 0 1 0 -12 0M131.9 483.6a6 6 0 1 0 12 0a6 6 0 1 0 -12 0M135.5 480.3a6 6 0 1 0 12 0a6 6 0 1 0 -12 0M139 478.3a6 6 0 1 0 12 0a6 6 0 1 0 -12 0M142.6 480.9a6 6 0 1 0 12 0a6 6 0 1 0 -12 0M146.2 477.3a6 6 0 1 0 12 0a6 6 0 1 0 -12 0M149.7 474.9a6 6 0 1 0 12 0a6 6 0 1 0 -12 0M153.3 475.2a6 6 0 1 0 12 0a6 6 0 1 0 -12 0M156.8 474.7a6 6 0 1 0 12 0a6 6 0 1 0 -12 0M160.4 476.8a6 6 0 1 0 12 0a6 6 0 1 0 -12 0M164 475.4a6 6 0 1 0 12 0a6 6 0 1 0 -12 0M167.5 473.7a6 6 0 1 0 12 0a6 6 0 1 0 -12 0M171.1 475.8a6 6 0 1 0 12 0a6 6 0 1 0 -12 0M174.7 470.2a6 6 0 1 0 12 0a6 6 0 1 0 -12 0M178.2 471.9a6 6 0 1 0 12 0a6 6 0 1 0 -12 0M181.8 468.5a6 6 0 1 0 12 0a6 6 0 1 0 -12 0M185.3 466.2a6 6 0 1 0 12 0a6 6 0 1 0 -12 0M188.9 464.1a6 6 0 1 0 12 0a6 6 0 1 0 -12 0M192.5 465.8a6 6 0 1 0 12 0a6 6 0 1 0 -12 0M196 460.4a6 6 0 1 0 12 0a6 6 0 1 0 -12 0M199.6 457.6a6 6 0 1 0 12 0a6 6 0 1 0 -12 0M203.1 459.2a6 6 0 1 0 12 0a6 6 0 1 0 -12 0M206.7 462a6 6 0 1 0 12 0a6 6 0 1 0 -12 0M210.3 457.9a6 6 0 1 0 12 0a6 6 0 1 0 -12 0M213.8 461.5a6 6 0 1 0 12 0a6 6 0 1 0 -12 0M217.4 465.5a6 6 0 1 0 12 0a6 6 0 1 0 -12 0M220.9 466.9a6 6 0 1 0 12 0a6 6 0 1 0 -12 0M224.5 467.6a6 6 0 1 0 12 0a6 6 0 1 0 -12 0M228.1 473a6 6 0 1 0 12 0a6 6 0 1 0 -12 0M231.6 469.9a6 6 0 1 0 12 0a6 6 0 1 0 -12 0M235.2 471.1a6 6 0 1 0 12 0a6 6 0 1 0 -12 0M238.7 469.3a6 6 0 1 0 12 0a6 6 0 1 0 -12 0M242.3 475.3a6 6 0 1 0 12 0a6 6 0 1 0 -12 0M245.9 477.7a6 6 0 1 0 12 0a6 6 0 1 0 -12 0M249.4 476.3a6 6 0 1 0 12 0a6 6 0 1 0 -12 0M253 477.5a6 6 0 1 0 12 0a6 6 0 1 0 -12 0M256.6 479.9a6 6 0 1 0 12 0a6 6 0 1 0 -12 0M260.1 480.6a6 6 0 1 0 12 0a6 6 0 1 0 -12 0M263.7 479.5a6 6 0 1 0 12 0a6 6 0 1 0 -12 0M267.2 479.6a6 6 0 1 0 12 0a6 6 0 1 0 -12 0M270.8 480.6a6 6 0 1 0 12 0a6 6 0 1 0 -12 0M274.4 476.7a6 6 0 1 0 12 0a6 6 0 1 0 -12 0M277.9 481.3a6 6 0 1 0 12 0a6 6 0 1 0 -12 0M281.5 485a6 6 0 1 0 12 0a6 6 0 1 0 -12 0M285 485.6a6 6 0 1 0 12 0a6 6 0 1 0 -12 0M288.6 479a6 6 0 1 0 12 0a6 6 0 1 0 -12 0M292.2 483.2a6 6 0 1 0 12 0a6 6 0 1 0 -12 0M295.7 483.2a6 6 0 1 0 12 0a6 6 0 1 0 -12 0M299.3 482.4a6 6 0 1 0 12 0a6 6 0 1 0 -12 0M302.9 485.7a6 6 0 1 0 12 0a6 6 0 1 0 -12 0M306.4 482.6a6 6 0 1 0 12 0a6 6 0 1 0 -12 0M310 484.2a6 6 0 1 0 12 0a6 6 0 1 0 -12 0M313.5 484.1a6 6 0 1 0 12 0a6 6 0 1 0 -12 0M317.1 481.9a6 6 0 1 0 12 0a6 6 0 1 0 -12 0M320.7 484.2a6 6 0 1 0 12 0a6 6 0 1 0 -12 0M324.2 483.9a6 6 0 1 0 12 0a6 6 0 1 0 -12 0M327.8 485.4a6 6 0 1 0 12 0a6 6 0 1 0 -12 0M331.3 483.5a6 6 0 1 0 12 0a6 6 0 1 0 -12 0M334.9 486.1a6 6 0 1 0 12 0a6 6 0 1 0 -12 0" fill="#D1CCA0"/>
<path d="M78.5 526.7a6 6 0 1 0 12 0a6 6 0 1 0 -12 0M82.1 523.6a6 6 0 1 0 12 0a6 6 0 1 0 -12 0M85.6 528.4a6 6 0 1 0 12 0a6 6 0 1 0 -12 0M89.2 531.3a6 6 0 1 0 12 0a6 6 0 1 0 -12 0M92.7 522.4a6 6 0 1 0 12 0a6 6 0 1 0 -12 0M96.3 533.7a6 6 0 1 0 12 0a6 6 0 1 0 -12 0M99.9 525.7a6 6 0 1 0 12 0a6 6 0 1 0 -12 0M103.4 525.4a6 6 0 1 0 12 0a6 6 0 1 0 -12 0M107 524.1a6 6 0 1 0 12 0a6 6 0 1 0 -12 0M110.6 525.9a6 6 0 1 0 12 0a6 6 0 1 0 -12 0M114.1 525.8a6 6 0 1 0 12 0a6 6 0 1 0 -12 0M117.7 525.1a6 6 0 1 0 12 0a6 6 0 1 0 -12 0M121.2 525.9a6 6 0 1 0 12 0a6 6 0 1 0 -12 0M124.8 523.4a6 6 0 1 0 12 0a6 6 0 1 0 -12 0M128.4 526.5a6 6 0 1 0 12 0a6 6 0 1 0 -12 0M131.9 523.7a6 6 0 1 0 12 0a6 6 0 1 0 -12 0M135.5 523.4a6 6 0 1 0 12 0a6 6 0 1 0 -12 0M139 525.5a6 6 0 1 0 12 0a6 6 0 1 0 -12 0M142.6 522.5a6 6 0 1 0 12 0a6 6 0 1 0 -12 0M146.2 522.6a6 6 0 1 0 12 0a6 6 0 1 0 -12 0M149.7 524.2a6 6 0 1 0 12 0a6 6 0 1 0 -12 0M153.3 517.4a6 6 0 1 0 12 0a6 6 0 1 0 -12 0M156.8 519.1a6 6 0 1 0 12 0a6 6 0 1 0 -12 0M160.4 514.1a6 6 0 1 0 12 0a6 6 0 1 0 -12 0M164 520.8a6 6 0 1 0 12 0a6 6 0 1 0 -12 0M167.5 512.3a6 6 0 1 0 12 0a6 6 0 1 0 -12 0M171.1 510.4a6 6 0 1 0 12 0a6 6 0 1 0 -12 0M174.7 511.4a6 6 0 1 0 12 0a6 6 0 1 0 -12 0M178.2 514.7a6 6 0 1 0 12 0a6 6 0 1 0 -12 0M181.8 510.9a6 6 0 1 0 12 0a6 6 0 1 0 -12 0M185.3 504.8a6 6 0 1 0 12 0a6 6 0 1 0 -12 0M188.9 508.5a6 6 0 1 0 12 0a6 6 0 1 0 -12 0M192.5 505.2a6 6 0 1 0 12 0a6 6 0 1 0 -12 0M196 504a6 6 0 1 0 12 0a6 6 0 1 0 -12 0M199.6 509.7a6 6 0 1 0 12 0a6 6 0 1 0 -12 0M203.1 505.6a6 6 0 1 0 12 0a6 6 0 1 0 -12 0M206.7 505.4a6 6 0 1 0 12 0a6 6 0 1 0 -12 0M210.3 505.3a6 6 0 1 0 12 0a6 6 0 1 0 -12 0M213.8 502.7a6 6 0 1 0 12 0a6 6 0 1 0 -12 0M217.4 506.2a6 6 0 1 0 12 0a6 6 0 1 0 -12 0M220.9 505.4a6 6 0 1 0 12 0a6 6 0 1 0 -12 0M224.5 501.2a6 6 0 1 0 12 0a6 6 0 1 0 -12 0M228.1 509a6 6 0 1 0 12 0a6 6 0 1 0 -12 0M231.6 514.3a6 6 0 1 0 12 0a6 6 0 1 0 -12 0M235.2 511.5a6 6 0 1 0 12 0a6 6 0 1 0 -12 0M238.7 516.4a6 6 0 1 0 12 0a6 6 0 1 0 -12 0M242.3 513.5a6 6 0 1 0 12 0a6 6 0 1 0 -12 0M245.9 516.2a6 6 0 1 0 12 0a6 6 0 1 0 -12 0M249.4 516.9a6 6 0 1 0 12 0a6 6 0 1 0 -12 0M253 518.2a6 6 0 1 0 12 0a6 6 0 1 0 -12 0M256.6 520.2a6 6 0 1 0 12 0a6 6 0 1 0 -12 0M260.1 517.8a6 6 0 1 0 12 0a6 6 0 1 0 -12 0M263.7 521.8a6 6 0 1 0 12 0a6 6 0 1 0 -12 0M267.2 527.3a6 6 0 1 0 12 0a6 6 0 1 0 -12 0M270.8 526.2a6 6 0 1 0 12 0a6 6 0 1 0 -12 0M274.4 524.5a6 6 0 1 0 12 0a6 6 0 1 0 -12 0M277.9 526a6 6 0 1 0 12 0a6 6 0 1 0 -12 0M281.5 526.1a6 6 0 1 0 12 0a6 6 0 1 0 -12 0M285 526.5a6 6 0 1 0 12 0a6 6 0 1 0 -12 0M288.6 525.6a6 6 0 1 0 12 0a6 6 0 1 0 -12 0M292.2 525.8a6 6 0 1 0 12 0a6 6 0 1 0 -12 0M295.7 525.6a6 6 0 1 0 12 0a6 6 0 1 0 -12 0M299.3 525.2a6 6 0 1 0 12 0a6 6 0 1 0 -12 0M302.9 529.4a6 6 0 1 0 12 0a6 6 0 1 0 -12 0M306.4 530.5a6 6 0 1 0 12 0a6 6 0 1 0 -12 0M310 526.1a6 6 0 1 0 12 0a6 6 0 1 0 -12 0M313.5 527.2a6 6 0 1 0 12 0a6 6 0 1 0 -12 0M317.1 530.7a6 6 0 1 0 12 0a6 6 0 1 0 -12 0M320.7 526.9a6 6 0 1 0 12 0a6 6 0 1 0 -12 0M324.2 528.2a6 6 0 1 0 12 0a6 6 0 1 0 -12 0M327.8 527.4a6 6 0 1 0 12 0a6 6 0 1 0 -12 0M331.3 528a6 6 0 1 0 12 0a6 6 0 1 0 -12 0M334.9 526.2a6 6 0 1 0 12 0a6 6 0 1 0 -12 0" fill="#CDBABB"/>
<path d="M84.5 560.6V572.4M80.2 560.6h8.5M80.2 572.4h8.5M87.8 562.6V575.2M83.5 562.6h8.5M83.5 575.2h8.5M95.4 564.1V577.5M91.2 564.1h8.5M91.2 577.5h8.5M108.7 561.5V572.5M104.5 561.5h8.5M104.5 572.5h8.5M118.2 564.9V576.7M114 564.9h8.5M114 576.7h8.5M126.7 555.7V566.9M122.5 555.7h8.5M122.5 566.9h8.5M136.2 560.2V573.8M131.9 560.2h8.5M131.9 573.8h8.5M143 557.5V568.5M138.8 557.5h8.5M138.8 568.5h8.5M151.4 548.3V559.1M147.2 548.3h8.5M147.2 559.1h8.5M159 555V565.8M154.8 555h8.5M154.8 565.8h8.5M167.5 548.8V560.6M163.2 548.8h8.5M163.2 560.6h8.5M177.9 540.5V553.7M173.7 540.5h8.5M173.7 553.7h8.5M186.5 533.8V547M182.2 533.8h8.5M182.2 547h8.5M194 546.4V559.2M189.8 546.4h8.5M189.8 559.2h8.5M203.5 545V558.6M199.2 545h8.5M199.2 558.6h8.5M211.1 546.1V559.5M206.8 546.1h8.5M206.8 559.5h8.5M215.9 545.1V556.7M211.7 545.1h8.5M211.7 556.7h8.5M222 542.4V553.6M217.8 542.4h8.5M217.8 553.6h8.5M229.2 536.6V550M224.9 536.6h8.5M224.9 550h8.5M234.9 550.2V563M230.7 550.2h8.5M230.7 563h8.5M246.3 539.9V550.5M242.1 539.9h8.5M242.1 550.5h8.5M255.7 554.1V566.7M251.4 554.1h8.5M251.4 566.7h8.5M265.2 555.4V567.2M260.9 555.4h8.5M260.9 567.2h8.5M276.6 555.4V567.2M272.4 555.4h8.5M272.4 567.2h8.5M288 556.5V568.1M283.8 556.5h8.5M283.8 568.1h8.5M297.5 558.6V569.8M293.2 558.6h8.5M293.2 569.8h8.5M308.9 562.7V573.3M304.6 562.7h8.5M304.6 573.3h8.5M320.3 563.2V574.6M316.1 563.2h8.5M316.1 574.6h8.5M331.6 565V576.6M327.4 565h8.5M327.4 576.6h8.5M341.1 565V578.4M336.9 565h8.5M336.9 578.4h8.5M91.6 564.3V575.3M87.3 564.3h8.5M87.3 575.3h8.5M113.5 561V574.5M109.2 561h8.5M109.2 574.5h8.5M131.4 559.3V570.5M127.2 559.3h8.5M127.2 570.5h8.5M147.2 555.1V566.7M142.9 555.1h8.5M142.9 566.7h8.5M163.2 550.3V563.4M159 550.3h8.5M159 563.4h8.5M182.2 538.9V552M177.9 538.9h8.5M177.9 552h8.5M198.8 546.4V558.3M194.5 546.4h8.5M194.5 558.3h8.5M213.5 547.2V557.9M209.2 547.2h8.5M209.2 557.9h8.5M225.6 539.7V551.7M221.3 539.7h8.5M221.3 551.7h8.5M240.6 544.2V555.9M236.4 544.2h8.5M236.4 555.9h8.5M260.4 555.3V568.6M256.2 555.3h8.5M256.2 568.6h8.5M282.3 555.9V567M278.1 555.9h8.5M278.1 567h8.5M303.2 560.5V572.2M298.9 560.5h8.5M298.9 572.2h8.5M326 563.9V577.2M321.7 563.9h8.5M321.7 577.2h8.5" stroke="#A9B9CA" stroke-width="2.6" fill="none"/>
<path d="M79 566.5a5.5 5.5 0 1 0 11.0 0a5.5 5.5 0 1 0 -11.0 0M82.3 568.9a5.5 5.5 0 1 0 11.0 0a5.5 5.5 0 1 0 -11.0 0M89.9 570.8a5.5 5.5 0 1 0 11.0 0a5.5 5.5 0 1 0 -11.0 0M103.2 567a5.5 5.5 0 1 0 11.0 0a5.5 5.5 0 1 0 -11.0 0M112.7 570.8a5.5 5.5 0 1 0 11.0 0a5.5 5.5 0 1 0 -11.0 0M121.2 561.3a5.5 5.5 0 1 0 11.0 0a5.5 5.5 0 1 0 -11.0 0M130.7 567a5.5 5.5 0 1 0 11.0 0a5.5 5.5 0 1 0 -11.0 0M137.5 563a5.5 5.5 0 1 0 11.0 0a5.5 5.5 0 1 0 -11.0 0M145.9 553.7a5.5 5.5 0 1 0 11.0 0a5.5 5.5 0 1 0 -11.0 0M153.5 560.4a5.5 5.5 0 1 0 11.0 0a5.5 5.5 0 1 0 -11.0 0M162 554.7a5.5 5.5 0 1 0 11.0 0a5.5 5.5 0 1 0 -11.0 0M172.4 547.1a5.5 5.5 0 1 0 11.0 0a5.5 5.5 0 1 0 -11.0 0M181 540.4a5.5 5.5 0 1 0 11.0 0a5.5 5.5 0 1 0 -11.0 0M188.5 552.8a5.5 5.5 0 1 0 11.0 0a5.5 5.5 0 1 0 -11.0 0M198 551.8a5.5 5.5 0 1 0 11.0 0a5.5 5.5 0 1 0 -11.0 0M205.6 552.8a5.5 5.5 0 1 0 11.0 0a5.5 5.5 0 1 0 -11.0 0M210.4 550.9a5.5 5.5 0 1 0 11.0 0a5.5 5.5 0 1 0 -11.0 0M216.5 548a5.5 5.5 0 1 0 11.0 0a5.5 5.5 0 1 0 -11.0 0M223.7 543.3a5.5 5.5 0 1 0 11.0 0a5.5 5.5 0 1 0 -11.0 0M229.4 556.6a5.5 5.5 0 1 0 11.0 0a5.5 5.5 0 1 0 -11.0 0M240.8 545.2a5.5 5.5 0 1 0 11.0 0a5.5 5.5 0 1 0 -11.0 0M250.2 560.4a5.5 5.5 0 1 0 11.0 0a5.5 5.5 0 1 0 -11.0 0M259.7 561.3a5.5 5.5 0 1 0 11.0 0a5.5 5.5 0 1 0 -11.0 0M271.1 561.3a5.5 5.5 0 1 0 11.0 0a5.5 5.5 0 1 0 -11.0 0M282.5 562.3a5.5 5.5 0 1 0 11.0 0a5.5 5.5 0 1 0 -11.0 0M292 564.2a5.5 5.5 0 1 0 11.0 0a5.5 5.5 0 1 0 -11.0 0M303.4 568a5.5 5.5 0 1 0 11.0 0a5.5 5.5 0 1 0 -11.0 0M314.8 568.9a5.5 5.5 0 1 0 11.0 0a5.5 5.5 0 1 0 -11.0 0M326.1 570.8a5.5 5.5 0 1 0 11.0 0a5.5 5.5 0 1 0 -11.0 0M335.6 571.7a5.5 5.5 0 1 0 11.0 0a5.5 5.5 0 1 0 -11.0 0M86.1 569.8a5.5 5.5 0 1 0 11.0 0a5.5 5.5 0 1 0 -11.0 0M108 567.7a5.5 5.5 0 1 0 11.0 0a5.5 5.5 0 1 0 -11.0 0M125.9 564.9a5.5 5.5 0 1 0 11.0 0a5.5 5.5 0 1 0 -11.0 0M141.7 560.9a5.5 5.5 0 1 0 11.0 0a5.5 5.5 0 1 0 -11.0 0M157.8 556.8a5.5 5.5 0 1 0 11.0 0a5.5 5.5 0 1 0 -11.0 0M176.7 545.5a5.5 5.5 0 1 0 11.0 0a5.5 5.5 0 1 0 -11.0 0M193.2 552.4a5.5 5.5 0 1 0 11.0 0a5.5 5.5 0 1 0 -11.0 0M208 552.6a5.5 5.5 0 1 0 11.0 0a5.5 5.5 0 1 0 -11.0 0M220.1 545.7a5.5 5.5 0 1 0 11.0 0a5.5 5.5 0 1 0 -11.0 0M235.1 550.1a5.5 5.5 0 1 0 11.0 0a5.5 5.5 0 1 0 -11.0 0M254.9 562a5.5 5.5 0 1 0 11.0 0a5.5 5.5 0 1 0 -11.0 0M276.8 561.5a5.5 5.5 0 1 0 11.0 0a5.5 5.5 0 1 0 -11.0 0M297.7 566.4a5.5 5.5 0 1 0 11.0 0a5.5 5.5 0 1 0 -11.0 0M320.5 570.5a5.5 5.5 0 1 0 11.0 0a5.5 5.5 0 1 0 -11.0 0" fill="#A9B9CA"/>
<line x1="84.5" y1="126.5" x2="340.9" y2="126.5" stroke="#c8c8c8" stroke-width="2.4" stroke-dasharray="9.2 9.4"/>
<line x1="84.5" y1="171.6" x2="340.9" y2="171.6" stroke="#c8c8c8" stroke-width="2.4" stroke-dasharray="9.2 9.4"/>
<line x1="84.5" y1="216.8" x2="340.9" y2="216.8" stroke="#c8c8c8" stroke-width="2.4" stroke-dasharray="9.2 9.4"/>
<line x1="84.5" y1="261.9" x2="340.9" y2="261.9" stroke="#c8c8c8" stroke-width="2.4" stroke-dasharray="9.2 9.4"/>
<line x1="84.5" y1="307" x2="340.9" y2="307" stroke="#c8c8c8" stroke-width="2.4" stroke-dasharray="9.2 9.4"/>
<line x1="84.5" y1="352.2" x2="340.9" y2="352.2" stroke="#c8c8c8" stroke-width="2.4" stroke-dasharray="9.2 9.4"/>
<line x1="84.5" y1="397.3" x2="340.9" y2="397.3" stroke="#c8c8c8" stroke-width="2.4" stroke-dasharray="9.2 9.4"/>
<line x1="84.5" y1="442.4" x2="340.9" y2="442.4" stroke="#c8c8c8" stroke-width="2.4" stroke-dasharray="9.2 9.4"/>
<line x1="84.5" y1="487.5" x2="340.9" y2="487.5" stroke="#c8c8c8" stroke-width="2.4" stroke-dasharray="9.2 9.4"/>
<line x1="84.5" y1="532.7" x2="340.9" y2="532.7" stroke="#c8c8c8" stroke-width="2.4" stroke-dasharray="9.2 9.4"/>
<path d="M84 216.2L86.2 216.2L89 216.1L92.2 216L95.8 216L99.7 215.9L103.9 215.8L108.2 215.7L112.7 215.7L117.1 215.6L121.6 215.5L125.9 215.4L130 215.3L134.1 215.2L138.3 215.1L142.6 215L147 214.9L151.5 214.8L155.9 214.7L160.2 214.6L164.5 214.4L168.7 214.3L172.7 214.2L176.5 214.1L180 214L183.3 213.9L186.4 213.8L189.4 213.6L192.1 213.5L194.8 213.3L197.4 213.2L199.9 213.1L202.3 212.9L204.7 212.8L207.1 212.8L209.5 212.7L212 212.7L214.4 212.7L216.6 212.8L218.8 212.8L220.8 212.9L222.8 213L224.9 213.1L227 213.3L229.2 213.4L231.5 213.6L234.1 213.7L236.9 213.9L240 214L243.4 214.1L247 214.3L250.9 214.4L255 214.6L259.2 214.8L263.6 214.9L268 215.1L272.4 215.3L276.9 215.4L281.4 215.6L285.7 215.8L290 215.9L294.4 216L299 216.2L303.9 216.3L308.8 216.5L313.8 216.6L318.6 216.8L323.3 216.9L327.7 217L331.8 217.1L335.4 217.2L338.5 217.3L341 217.4" stroke="#000" stroke-width="2.5" fill="none" stroke-linejoin="round" stroke-linecap="round"/>
<path d="M84.5 259.7L85.5 259.6L86.5 259.6L87.5 259.6L88.5 259.6L89.5 259.6L90.5 259.5L91.5 259.5L92.5 259.5L93.5 259.5L94.5 259.4L95.5 259.4L96.5 259.4L97.5 259.3L98.5 259.3L99.5 259.3L100.5 259.3L101.5 259.2L102.5 259.2L103.5 259.2L104.5 259.1L105.5 259.1L106.5 259.1L107.5 259L108.5 259L109.5 258.9L110.5 258.9L111.5 258.9L112.5 258.8L113.5 258.8L114.5 258.7L115.5 258.7L116.5 258.6L117.5 258.6L118.5 258.5L119.5 258.5L120.5 258.4L121.5 258.4L122.5 258.3L123.5 258.3L124.5 258.2L125.5 258.2L126.5 258.1L127.5 258L128.5 258L129.5 257.9L130.5 257.8L131.5 257.8L132.5 257.7L133.5 257.6L134.5 257.5L135.5 257.4L136.5 257.4L137.5 257.3L138.5 257.2L139.5 257.1L140.5 257L141.5 256.9L142.5 256.8L143.5 256.7L144.5 256.6L145.5 256.5L146.5 256.3L147.5 256.2L148.5 256.1L149.5 256L150.5 255.8L151.5 255.7L152.5 255.5L153.5 255.4L154.5 255.2L155.5 255L156.5 254.9L157.5 254.7L158.5 254.5L159.5 254.3L160.5 254.1L161.5 253.9L162.5 253.7L163.5 253.5L164.5 253.2L165.5 253L166.5 252.8L167.5 252.5L168.5 252.2L169.5 251.9L170.5 251.6L171.5 251.3L172.5 251L173.5 250.7L174.5 250.3L175.5 250L176.5 249.6L177.5 249.2L178.5 248.8L179.5 248.4L180.5 248L181.5 247.5L182.5 247.1L183.5 246.6L184.5 246.1L185.5 245.6L186.5 245L187.5 244.5L188.5 243.9L189.5 243.4L190.5 242.8L191.5 242.2L192.5 241.6L193.5 241L194.5 240.3L195.5 239.7L196.5 239.1L197.5 238.5L198.5 237.8L199.5 237.2L200.5 236.6L201.5 236.1L202.5 235.5L203.5 235L204.5 234.5L205.5 234.1L206.5 233.6L207.5 233.3L208.5 233L209.5 232.7L210.5 232.5L211.5 232.4L212.5 232.3L213.5 232.3L214.5 232.4L215.5 232.5L216.5 232.7L217.5 233L218.5 233.3L219.5 233.6L220.5 234.1L221.5 234.5L222.5 235L223.5 235.6L224.5 236.2L225.5 236.8L226.5 237.4L227.5 238L228.5 238.7L229.5 239.3L230.5 240L231.5 240.6L232.5 241.3L233.5 241.9L234.5 242.5L235.5 243.1L236.5 243.7L237.5 244.3L238.5 244.9L239.5 245.4L240.5 246L241.5 246.5L242.5 247L243.5 247.5L244.5 248L245.5 248.4L246.5 248.8L247.5 249.3L248.5 249.7L249.5 250.1L250.5 250.4L251.5 250.8L252.5 251.1L253.5 251.5L254.5 251.8L255.5 252.1L256.5 252.4L257.5 252.7L258.5 252.9L259.5 253.2L260.5 253.4L261.5 253.7L262.5 253.9L263.5 254.1L264.5 254.3L265.5 254.5L266.5 254.7L267.5 254.9L268.5 255.1L269.5 255.3L270.5 255.5L271.5 255.6L272.5 255.8L273.5 255.9L274.5 256.1L275.5 256.2L276.5 256.3L277.5 256.5L278.5 256.6L279.5 256.7L280.5 256.8L281.5 257L282.5 257.1L283.5 257.2L284.5 257.3L285.5 257.4L286.5 257.5L287.5 257.6L288.5 257.6L289.5 257.7L290.5 257.8L291.5 257.9L292.5 258L293.5 258L294.5 258.1L295.5 258.2L296.5 258.3L297.5 258.3L298.5 258.4L299.5 258.5L300.5 258.5L301.5 258.6L302.5 258.6L303.5 258.7L304.5 258.7L305.5 258.8L306.5 258.9L307.5 258.9L308.5 259L309.5 259L310.5 259L311.5 259.1L312.5 259.1L313.5 259.2L314.5 259.2L315.5 259.3L316.5 259.3L317.5 259.3L318.5 259.4L319.5 259.4L320.5 259.5L321.5 259.5L322.5 259.5L323.5 259.6L324.5 259.6L325.5 259.6L326.5 259.6L327.5 259.7L328.5 259.7L329.5 259.7L330.5 259.8L331.5 259.8L332.5 259.8L333.5 259.8L334.5 259.9L335.5 259.9L336.5 259.9L337.5 259.9L338.5 260L339.5 260L340.5 260" stroke="#000" stroke-width="2.5" fill="none" stroke-linejoin="round" stroke-linecap="round"/>
<path d="M84.5 304.9L85.5 304.9L86.5 304.9L87.5 304.8L88.5 304.8L89.5 304.8L90.5 304.7L91.5 304.7L92.5 304.6L93.5 304.6L94.5 304.5L95.5 304.5L96.5 304.5L97.5 304.4L98.5 304.4L99.5 304.3L100.5 304.3L101.5 304.2L102.5 304.2L103.5 304.1L104.5 304L105.5 304L106.5 303.9L107.5 303.9L108.5 303.8L109.5 303.8L110.5 303.7L111.5 303.6L112.5 303.6L113.5 303.5L114.5 303.4L115.5 303.4L116.5 303.3L117.5 303.2L118.5 303.1L119.5 303.1L120.5 303L121.5 302.9L122.5 302.8L123.5 302.7L124.5 302.6L125.5 302.5L126.5 302.5L127.5 302.4L128.5 302.3L129.5 302.2L130.5 302.1L131.5 302L132.5 301.8L133.5 301.7L134.5 301.6L135.5 301.5L136.5 301.4L137.5 301.3L138.5 301.1L139.5 301L140.5 300.9L141.5 300.7L142.5 300.6L143.5 300.4L144.5 300.3L145.5 300.1L146.5 300L147.5 299.8L148.5 299.6L149.5 299.5L150.5 299.3L151.5 299.1L152.5 298.9L153.5 298.7L154.5 298.5L155.5 298.3L156.5 298.1L157.5 297.9L158.5 297.6L159.5 297.4L160.5 297.2L161.5 296.9L162.5 296.7L163.5 296.4L164.5 296.1L165.5 295.9L166.5 295.6L167.5 295.3L168.5 295L169.5 294.7L170.5 294.4L171.5 294L172.5 293.7L173.5 293.3L174.5 293L175.5 292.6L176.5 292.3L177.5 291.9L178.5 291.5L179.5 291.1L180.5 290.7L181.5 290.3L182.5 289.9L183.5 289.5L184.5 289L185.5 288.6L186.5 288.1L187.5 287.7L188.5 287.2L189.5 286.8L190.5 286.3L191.5 285.9L192.5 285.4L193.5 285L194.5 284.5L195.5 284.1L196.5 283.7L197.5 283.2L198.5 282.8L199.5 282.4L200.5 282.1L201.5 281.7L202.5 281.3L203.5 281L204.5 280.7L205.5 280.4L206.5 280.2L207.5 280L208.5 279.8L209.5 279.6L210.5 279.5L211.5 279.4L212.5 279.3L213.5 279.3L214.5 279.3L215.5 279.4L216.5 279.5L217.5 279.7L218.5 279.9L219.5 280.2L220.5 280.5L221.5 280.9L222.5 281.3L223.5 281.8L224.5 282.3L225.5 282.8L226.5 283.3L227.5 283.9L228.5 284.4L229.5 285L230.5 285.6L231.5 286.2L232.5 286.8L233.5 287.4L234.5 288L235.5 288.5L236.5 289.1L237.5 289.6L238.5 290.2L239.5 290.7L240.5 291.2L241.5 291.7L242.5 292.2L243.5 292.7L244.5 293.2L245.5 293.6L246.5 294L247.5 294.5L248.5 294.9L249.5 295.2L250.5 295.6L251.5 296L252.5 296.3L253.5 296.7L254.5 297L255.5 297.3L256.5 297.6L257.5 297.9L258.5 298.1L259.5 298.4L260.5 298.7L261.5 298.9L262.5 299.1L263.5 299.4L264.5 299.6L265.5 299.8L266.5 300L267.5 300.2L268.5 300.4L269.5 300.6L270.5 300.7L271.5 300.9L272.5 301.1L273.5 301.2L274.5 301.4L275.5 301.5L276.5 301.7L277.5 301.8L278.5 301.9L279.5 302L280.5 302.2L281.5 302.3L282.5 302.4L283.5 302.5L284.5 302.6L285.5 302.7L286.5 302.8L287.5 302.9L288.5 303L289.5 303.1L290.5 303.2L291.5 303.3L292.5 303.3L293.5 303.4L294.5 303.5L295.5 303.6L296.5 303.6L297.5 303.7L298.5 303.8L299.5 303.8L300.5 303.9L301.5 304L302.5 304L303.5 304.1L304.5 304.1L305.5 304.2L306.5 304.2L307.5 304.3L308.5 304.3L309.5 304.4L310.5 304.4L311.5 304.5L312.5 304.5L313.5 304.6L314.5 304.6L315.5 304.7L316.5 304.7L317.5 304.7L318.5 304.8L319.5 304.8L320.5 304.8L321.5 304.9L322.5 304.9L323.5 304.9L324.5 305L325.5 305L326.5 305L327.5 305.1L328.5 305.1L329.5 305.1L330.5 305.1L331.5 305.2L332.5 305.2L333.5 305.2L334.5 305.3L335.5 305.3L336.5 305.3L337.5 305.3L338.5 305.3L339.5 305.4L340.5 305.4" stroke="#000" stroke-width="2.5" fill="none" stroke-linejoin="round" stroke-linecap="round"/>
<path d="M84.5 350.3L85.5 350.3L86.5 350.2L87.5 350.2L88.5 350.2L89.5 350.2L90.5 350.1L91.5 350.1L92.5 350.1L93.5 350.1L94.5 350L95.5 350L96.5 350L97.5 349.9L98.5 349.9L99.5 349.9L100.5 349.8L101.5 349.8L102.5 349.8L103.5 349.7L104.5 349.7L105.5 349.7L106.5 349.6L107.5 349.6L108.5 349.5L109.5 349.5L110.5 349.5L111.5 349.4L112.5 349.4L113.5 349.3L114.5 349.3L115.5 349.2L116.5 349.2L117.5 349.1L118.5 349.1L119.5 349L120.5 349L121.5 348.9L122.5 348.9L123.5 348.8L124.5 348.7L125.5 348.7L126.5 348.6L127.5 348.5L128.5 348.5L129.5 348.4L130.5 348.3L131.5 348.3L132.5 348.2L133.5 348.1L134.5 348L135.5 347.9L136.5 347.8L137.5 347.8L138.5 347.7L139.5 347.6L140.5 347.5L141.5 347.4L142.5 347.3L143.5 347.1L144.5 347L145.5 346.9L146.5 346.8L147.5 346.7L148.5 346.5L149.5 346.4L150.5 346.3L151.5 346.1L152.5 346L153.5 345.8L154.5 345.6L155.5 345.5L156.5 345.3L157.5 345.1L158.5 344.9L159.5 344.7L160.5 344.5L161.5 344.3L162.5 344.1L163.5 343.9L164.5 343.6L165.5 343.4L166.5 343.1L167.5 342.8L168.5 342.6L169.5 342.3L170.5 342L171.5 341.7L172.5 341.3L173.5 341L174.5 340.6L175.5 340.3L176.5 339.9L177.5 339.5L178.5 339.1L179.5 338.7L180.5 338.2L181.5 337.7L182.5 337.3L183.5 336.8L184.5 336.3L185.5 335.7L186.5 335.2L187.5 334.6L188.5 334L189.5 333.4L190.5 332.8L191.5 332.2L192.5 331.6L193.5 330.9L194.5 330.3L195.5 329.6L196.5 329L197.5 328.3L198.5 327.6L199.5 327L200.5 326.3L201.5 325.7L202.5 325.1L203.5 324.5L204.5 324L205.5 323.5L206.5 323L207.5 322.6L208.5 322.3L209.5 322L210.5 321.7L211.5 321.6L212.5 321.4L213.5 321.4L214.5 321.4L215.5 321.6L216.5 321.7L217.5 322L218.5 322.3L219.5 322.7L220.5 323.2L221.5 323.7L222.5 324.3L223.5 324.9L224.5 325.5L225.5 326.2L226.5 326.9L227.5 327.6L228.5 328.3L229.5 329L230.5 329.7L231.5 330.4L232.5 331.1L233.5 331.8L234.5 332.5L235.5 333.1L236.5 333.8L237.5 334.4L238.5 335L239.5 335.6L240.5 336.2L241.5 336.7L242.5 337.3L243.5 337.8L244.5 338.3L245.5 338.7L246.5 339.2L247.5 339.6L248.5 340L249.5 340.4L250.5 340.8L251.5 341.2L252.5 341.5L253.5 341.9L254.5 342.2L255.5 342.5L256.5 342.8L257.5 343.1L258.5 343.4L259.5 343.6L260.5 343.9L261.5 344.1L262.5 344.3L263.5 344.6L264.5 344.8L265.5 345L266.5 345.2L267.5 345.4L268.5 345.5L269.5 345.7L270.5 345.9L271.5 346L272.5 346.2L273.5 346.3L274.5 346.5L275.5 346.6L276.5 346.7L277.5 346.9L278.5 347L279.5 347.1L280.5 347.2L281.5 347.3L282.5 347.4L283.5 347.5L284.5 347.6L285.5 347.7L286.5 347.8L287.5 347.9L288.5 348L289.5 348.1L290.5 348.1L291.5 348.2L292.5 348.3L293.5 348.4L294.5 348.4L295.5 348.5L296.5 348.6L297.5 348.6L298.5 348.7L299.5 348.8L300.5 348.8L301.5 348.9L302.5 348.9L303.5 349L304.5 349L305.5 349.1L306.5 349.1L307.5 349.2L308.5 349.2L309.5 349.3L310.5 349.3L311.5 349.3L312.5 349.4L313.5 349.4L314.5 349.5L315.5 349.5L316.5 349.5L317.5 349.6L318.5 349.6L319.5 349.6L320.5 349.7L321.5 349.7L322.5 349.7L323.5 349.8L324.5 349.8L325.5 349.8L326.5 349.8L327.5 349.9L328.5 349.9L329.5 349.9L330.5 349.9L331.5 350L332.5 350L333.5 350L334.5 350L335.5 350.1L336.5 350.1L337.5 350.1L338.5 350.1L339.5 350.1L340.5 350.2" stroke="#000" stroke-width="2.5" fill="none" stroke-linejoin="round" stroke-linecap="round"/>
<path d="M84.5 395.4L85.5 395.4L86.5 395.4L87.5 395.4L88.5 395.3L89.5 395.3L90.5 395.3L91.5 395.3L92.5 395.2L93.5 395.2L94.5 395.2L95.5 395.1L96.5 395.1L97.5 395.1L98.5 395.1L99.5 395L100.5 395L101.5 395L102.5 394.9L103.5 394.9L104.5 394.8L105.5 394.8L106.5 394.8L107.5 394.7L108.5 394.7L109.5 394.6L110.5 394.6L111.5 394.6L112.5 394.5L113.5 394.5L114.5 394.4L115.5 394.4L116.5 394.3L117.5 394.3L118.5 394.2L119.5 394.2L120.5 394.1L121.5 394.1L122.5 394L123.5 393.9L124.5 393.9L125.5 393.8L126.5 393.7L127.5 393.7L128.5 393.6L129.5 393.5L130.5 393.5L131.5 393.4L132.5 393.3L133.5 393.2L134.5 393.1L135.5 393.1L136.5 393L137.5 392.9L138.5 392.8L139.5 392.7L140.5 392.6L141.5 392.5L142.5 392.4L143.5 392.3L144.5 392.2L145.5 392L146.5 391.9L147.5 391.8L148.5 391.7L149.5 391.5L150.5 391.4L151.5 391.3L152.5 391.1L153.5 391L154.5 390.8L155.5 390.6L156.5 390.5L157.5 390.3L158.5 390.1L159.5 389.9L160.5 389.7L161.5 389.5L162.5 389.3L163.5 389.1L164.5 388.9L165.5 388.7L166.5 388.4L167.5 388.2L168.5 387.9L169.5 387.6L170.5 387.4L171.5 387.1L172.5 386.8L173.5 386.5L174.5 386.2L175.5 385.8L176.5 385.5L177.5 385.1L178.5 384.8L179.5 384.4L180.5 384L181.5 383.6L182.5 383.2L183.5 382.8L184.5 382.4L185.5 381.9L186.5 381.5L187.5 381L188.5 380.5L189.5 380L190.5 379.5L191.5 379L192.5 378.5L193.5 378L194.5 377.5L195.5 377L196.5 376.5L197.5 376L198.5 375.5L199.5 375L200.5 374.5L201.5 374L202.5 373.6L203.5 373.1L204.5 372.7L205.5 372.4L206.5 372L207.5 371.7L208.5 371.4L209.5 371.2L210.5 371L211.5 370.9L212.5 370.8L213.5 370.8L214.5 370.8L215.5 370.8L216.5 370.9L217.5 371.1L218.5 371.3L219.5 371.6L220.5 371.9L221.5 372.2L222.5 372.6L223.5 373L224.5 373.5L225.5 374L226.5 374.5L227.5 375L228.5 375.5L229.5 376.1L230.5 376.6L231.5 377.2L232.5 377.7L233.5 378.3L234.5 378.8L235.5 379.4L236.5 379.9L237.5 380.4L238.5 380.9L239.5 381.4L240.5 381.9L241.5 382.4L242.5 382.9L243.5 383.3L244.5 383.8L245.5 384.2L246.5 384.6L247.5 385L248.5 385.4L249.5 385.7L250.5 386.1L251.5 386.4L252.5 386.8L253.5 387.1L254.5 387.4L255.5 387.7L256.5 388L257.5 388.2L258.5 388.5L259.5 388.7L260.5 389L261.5 389.2L262.5 389.4L263.5 389.7L264.5 389.9L265.5 390.1L266.5 390.3L267.5 390.4L268.5 390.6L269.5 390.8L270.5 391L271.5 391.1L272.5 391.3L273.5 391.4L274.5 391.6L275.5 391.7L276.5 391.8L277.5 392L278.5 392.1L279.5 392.2L280.5 392.3L281.5 392.4L282.5 392.5L283.5 392.6L284.5 392.7L285.5 392.8L286.5 392.9L287.5 393L288.5 393.1L289.5 393.2L290.5 393.3L291.5 393.4L292.5 393.4L293.5 393.5L294.5 393.6L295.5 393.7L296.5 393.7L297.5 393.8L298.5 393.9L299.5 393.9L300.5 394L301.5 394L302.5 394.1L303.5 394.2L304.5 394.2L305.5 394.3L306.5 394.3L307.5 394.4L308.5 394.4L309.5 394.5L310.5 394.5L311.5 394.5L312.5 394.6L313.5 394.6L314.5 394.7L315.5 394.7L316.5 394.7L317.5 394.8L318.5 394.8L319.5 394.9L320.5 394.9L321.5 394.9L322.5 395L323.5 395L324.5 395L325.5 395.1L326.5 395.1L327.5 395.1L328.5 395.1L329.5 395.2L330.5 395.2L331.5 395.2L332.5 395.2L333.5 395.3L334.5 395.3L335.5 395.3L336.5 395.3L337.5 395.4L338.5 395.4L339.5 395.4L340.5 395.4" stroke="#000" stroke-width="2.5" fill="none" stroke-linejoin="round" stroke-linecap="round"/>
<path d="M84.5 440.8L85.5 440.8L86.5 440.8L87.5 440.7L88.5 440.7L89.5 440.7L90.5 440.7L91.5 440.6L92.5 440.6L93.5 440.6L94.5 440.6L95.5 440.5L96.5 440.5L97.5 440.5L98.5 440.5L99.5 440.4L100.5 440.4L101.5 440.4L102.5 440.3L103.5 440.3L104.5 440.3L105.5 440.2L106.5 440.2L107.5 440.2L108.5 440.1L109.5 440.1L110.5 440.1L111.5 440L112.5 440L113.5 440L114.5 439.9L115.5 439.9L116.5 439.8L117.5 439.8L118.5 439.7L119.5 439.7L120.5 439.6L121.5 439.6L122.5 439.5L123.5 439.5L124.5 439.4L125.5 439.4L126.5 439.3L127.5 439.3L128.5 439.2L129.5 439.1L130.5 439.1L131.5 439L132.5 438.9L133.5 438.9L134.5 438.8L135.5 438.7L136.5 438.6L137.5 438.6L138.5 438.5L139.5 438.4L140.5 438.3L141.5 438.2L142.5 438.1L143.5 438L144.5 437.9L145.5 437.8L146.5 437.7L147.5 437.6L148.5 437.5L149.5 437.4L150.5 437.3L151.5 437.1L152.5 437L153.5 436.9L154.5 436.7L155.5 436.6L156.5 436.4L157.5 436.3L158.5 436.1L159.5 436L160.5 435.8L161.5 435.6L162.5 435.4L163.5 435.3L164.5 435.1L165.5 434.9L166.5 434.6L167.5 434.4L168.5 434.2L169.5 434L170.5 433.7L171.5 433.5L172.5 433.2L173.5 432.9L174.5 432.7L175.5 432.4L176.5 432.1L177.5 431.8L178.5 431.5L179.5 431.1L180.5 430.8L181.5 430.5L182.5 430.1L183.5 429.7L184.5 429.4L185.5 429L186.5 428.6L187.5 428.2L188.5 427.8L189.5 427.3L190.5 426.9L191.5 426.5L192.5 426L193.5 425.6L194.5 425.2L195.5 424.7L196.5 424.3L197.5 423.9L198.5 423.4L199.5 423L200.5 422.6L201.5 422.2L202.5 421.8L203.5 421.5L204.5 421.1L205.5 420.8L206.5 420.5L207.5 420.3L208.5 420L209.5 419.9L210.5 419.7L211.5 419.6L212.5 419.5L213.5 419.5L214.5 419.5L215.5 419.5L216.5 419.6L217.5 419.8L218.5 420L219.5 420.2L220.5 420.4L221.5 420.7L222.5 421L223.5 421.4L224.5 421.8L225.5 422.2L226.5 422.6L227.5 423L228.5 423.5L229.5 423.9L230.5 424.4L231.5 424.8L232.5 425.3L233.5 425.8L234.5 426.2L235.5 426.7L236.5 427.1L237.5 427.6L238.5 428L239.5 428.4L240.5 428.9L241.5 429.3L242.5 429.7L243.5 430.1L244.5 430.4L245.5 430.8L246.5 431.2L247.5 431.5L248.5 431.8L249.5 432.2L250.5 432.5L251.5 432.8L252.5 433.1L253.5 433.3L254.5 433.6L255.5 433.9L256.5 434.1L257.5 434.4L258.5 434.6L259.5 434.8L260.5 435L261.5 435.2L262.5 435.4L263.5 435.6L264.5 435.8L265.5 436L266.5 436.2L267.5 436.3L268.5 436.5L269.5 436.7L270.5 436.8L271.5 437L272.5 437.1L273.5 437.2L274.5 437.4L275.5 437.5L276.5 437.6L277.5 437.7L278.5 437.8L279.5 437.9L280.5 438L281.5 438.2L282.5 438.2L283.5 438.3L284.5 438.4L285.5 438.5L286.5 438.6L287.5 438.7L288.5 438.8L289.5 438.9L290.5 438.9L291.5 439L292.5 439.1L293.5 439.1L294.5 439.2L295.5 439.3L296.5 439.3L297.5 439.4L298.5 439.5L299.5 439.5L300.5 439.6L301.5 439.6L302.5 439.7L303.5 439.7L304.5 439.8L305.5 439.8L306.5 439.9L307.5 439.9L308.5 440L309.5 440L310.5 440.1L311.5 440.1L312.5 440.1L313.5 440.2L314.5 440.2L315.5 440.3L316.5 440.3L317.5 440.3L318.5 440.4L319.5 440.4L320.5 440.4L321.5 440.5L322.5 440.5L323.5 440.5L324.5 440.6L325.5 440.6L326.5 440.6L327.5 440.6L328.5 440.7L329.5 440.7L330.5 440.7L331.5 440.7L332.5 440.8L333.5 440.8L334.5 440.8L335.5 440.8L336.5 440.9L337.5 440.9L338.5 440.9L339.5 440.9L340.5 441" stroke="#000" stroke-width="2.5" fill="none" stroke-linejoin="round" stroke-linecap="round"/>
<path d="M84.5 486L85.5 485.9L86.5 485.9L87.5 485.9L88.5 485.8L89.5 485.8L90.5 485.8L91.5 485.7L92.5 485.7L93.5 485.7L94.5 485.6L95.5 485.6L96.5 485.6L97.5 485.5L98.5 485.5L99.5 485.4L100.5 485.4L101.5 485.4L102.5 485.3L103.5 485.3L104.5 485.2L105.5 485.2L106.5 485.1L107.5 485.1L108.5 485L109.5 485L110.5 484.9L111.5 484.9L112.5 484.8L113.5 484.8L114.5 484.7L115.5 484.7L116.5 484.6L117.5 484.5L118.5 484.5L119.5 484.4L120.5 484.3L121.5 484.3L122.5 484.2L123.5 484.1L124.5 484L125.5 484L126.5 483.9L127.5 483.8L128.5 483.7L129.5 483.6L130.5 483.5L131.5 483.4L132.5 483.3L133.5 483.2L134.5 483.1L135.5 483L136.5 482.9L137.5 482.7L138.5 482.6L139.5 482.5L140.5 482.3L141.5 482.2L142.5 482.1L143.5 481.9L144.5 481.8L145.5 481.6L146.5 481.4L147.5 481.3L148.5 481.1L149.5 480.9L150.5 480.7L151.5 480.5L152.5 480.3L153.5 480.1L154.5 479.9L155.5 479.7L156.5 479.5L157.5 479.2L158.5 479L159.5 478.7L160.5 478.5L161.5 478.2L162.5 477.9L163.5 477.6L164.5 477.3L165.5 477L166.5 476.7L167.5 476.4L168.5 476.1L169.5 475.8L170.5 475.4L171.5 475.1L172.5 474.7L173.5 474.3L174.5 474L175.5 473.6L176.5 473.2L177.5 472.8L178.5 472.4L179.5 472L180.5 471.6L181.5 471.1L182.5 470.7L183.5 470.3L184.5 469.8L185.5 469.4L186.5 468.9L187.5 468.5L188.5 468L189.5 467.6L190.5 467.1L191.5 466.7L192.5 466.2L193.5 465.8L194.5 465.4L195.5 465L196.5 464.5L197.5 464.2L198.5 463.8L199.5 463.4L200.5 463.1L201.5 462.8L202.5 462.5L203.5 462.2L204.5 461.9L205.5 461.7L206.5 461.5L207.5 461.4L208.5 461.2L209.5 461.1L210.5 461.1L211.5 461L212.5 461.1L213.5 461.1L214.5 461.2L215.5 461.3L216.5 461.5L217.5 461.7L218.5 462L219.5 462.2L220.5 462.6L221.5 462.9L222.5 463.3L223.5 463.7L224.5 464.1L225.5 464.5L226.5 465L227.5 465.4L228.5 465.9L229.5 466.4L230.5 466.9L231.5 467.4L232.5 467.9L233.5 468.4L234.5 468.9L235.5 469.4L236.5 469.9L237.5 470.3L238.5 470.8L239.5 471.3L240.5 471.8L241.5 472.2L242.5 472.7L243.5 473.1L244.5 473.5L245.5 474L246.5 474.4L247.5 474.8L248.5 475.2L249.5 475.5L250.5 475.9L251.5 476.3L252.5 476.6L253.5 477L254.5 477.3L255.5 477.6L256.5 477.9L257.5 478.2L258.5 478.5L259.5 478.8L260.5 479L261.5 479.3L262.5 479.5L263.5 479.8L264.5 480L265.5 480.2L266.5 480.4L267.5 480.6L268.5 480.8L269.5 481L270.5 481.2L271.5 481.4L272.5 481.6L273.5 481.7L274.5 481.9L275.5 482L276.5 482.2L277.5 482.3L278.5 482.5L279.5 482.6L280.5 482.7L281.5 482.8L282.5 482.9L283.5 483.1L284.5 483.2L285.5 483.3L286.5 483.4L287.5 483.5L288.5 483.5L289.5 483.6L290.5 483.7L291.5 483.8L292.5 483.9L293.5 484L294.5 484L295.5 484.1L296.5 484.2L297.5 484.2L298.5 484.3L299.5 484.4L300.5 484.4L301.5 484.5L302.5 484.5L303.5 484.6L304.5 484.6L305.5 484.7L306.5 484.7L307.5 484.8L308.5 484.8L309.5 484.9L310.5 484.9L311.5 484.9L312.5 485L313.5 485L314.5 485.1L315.5 485.1L316.5 485.1L317.5 485.2L318.5 485.2L319.5 485.2L320.5 485.3L321.5 485.3L322.5 485.3L323.5 485.4L324.5 485.4L325.5 485.4L326.5 485.4L327.5 485.5L328.5 485.5L329.5 485.5L330.5 485.5L331.5 485.6L332.5 485.6L333.5 485.6L334.5 485.6L335.5 485.7L336.5 485.7L337.5 485.7L338.5 485.7L339.5 485.7L340.5 485.7" stroke="#000" stroke-width="2.5" fill="none" stroke-linejoin="round" stroke-linecap="round"/>
<path d="M84.5 531L85.5 530.9L86.5 530.9L87.5 530.8L88.5 530.8L89.5 530.7L90.5 530.7L91.5 530.6L92.5 530.6L93.5 530.5L94.5 530.4L95.5 530.4L96.5 530.3L97.5 530.2L98.5 530.2L99.5 530.1L100.5 530L101.5 530L102.5 529.9L103.5 529.8L104.5 529.8L105.5 529.7L106.5 529.6L107.5 529.5L108.5 529.5L109.5 529.4L110.5 529.3L111.5 529.2L112.5 529.1L113.5 529L114.5 528.9L115.5 528.8L116.5 528.7L117.5 528.6L118.5 528.5L119.5 528.4L120.5 528.3L121.5 528.2L122.5 528.1L123.5 528L124.5 527.9L125.5 527.8L126.5 527.7L127.5 527.5L128.5 527.4L129.5 527.3L130.5 527.2L131.5 527L132.5 526.9L133.5 526.7L134.5 526.6L135.5 526.4L136.5 526.3L137.5 526.1L138.5 526L139.5 525.8L140.5 525.7L141.5 525.5L142.5 525.3L143.5 525.1L144.5 525L145.5 524.8L146.5 524.6L147.5 524.4L148.5 524.2L149.5 524L150.5 523.8L151.5 523.5L152.5 523.3L153.5 523.1L154.5 522.9L155.5 522.6L156.5 522.4L157.5 522.1L158.5 521.9L159.5 521.6L160.5 521.4L161.5 521.1L162.5 520.8L163.5 520.5L164.5 520.3L165.5 520L166.5 519.7L167.5 519.4L168.5 519L169.5 518.7L170.5 518.4L171.5 518.1L172.5 517.8L173.5 517.4L174.5 517.1L175.5 516.7L176.5 516.4L177.5 516L178.5 515.7L179.5 515.3L180.5 514.9L181.5 514.6L182.5 514.2L183.5 513.8L184.5 513.5L185.5 513.1L186.5 512.7L187.5 512.4L188.5 512L189.5 511.6L190.5 511.3L191.5 510.9L192.5 510.6L193.5 510.2L194.5 509.9L195.5 509.6L196.5 509.2L197.5 508.9L198.5 508.6L199.5 508.4L200.5 508.1L201.5 507.8L202.5 507.6L203.5 507.4L204.5 507.2L205.5 507L206.5 506.8L207.5 506.7L208.5 506.6L209.5 506.5L210.5 506.4L211.5 506.3L212.5 506.3L213.5 506.3L214.5 506.3L215.5 506.4L216.5 506.4L217.5 506.5L218.5 506.7L219.5 506.8L220.5 507L221.5 507.2L222.5 507.4L223.5 507.6L224.5 507.9L225.5 508.2L226.5 508.5L227.5 508.8L228.5 509.1L229.5 509.5L230.5 509.8L231.5 510.2L232.5 510.6L233.5 511L234.5 511.3L235.5 511.7L236.5 512.1L237.5 512.5L238.5 512.9L239.5 513.3L240.5 513.8L241.5 514.2L242.5 514.6L243.5 515L244.5 515.4L245.5 515.8L246.5 516.1L247.5 516.5L248.5 516.9L249.5 517.3L250.5 517.6L251.5 518L252.5 518.4L253.5 518.7L254.5 519.1L255.5 519.4L256.5 519.7L257.5 520.1L258.5 520.4L259.5 520.7L260.5 521L261.5 521.3L262.5 521.6L263.5 521.8L264.5 522.1L265.5 522.4L266.5 522.7L267.5 522.9L268.5 523.2L269.5 523.4L270.5 523.6L271.5 523.9L272.5 524.1L273.5 524.3L274.5 524.5L275.5 524.7L276.5 524.9L277.5 525.1L278.5 525.3L279.5 525.5L280.5 525.7L281.5 525.9L282.5 526.1L283.5 526.2L284.5 526.4L285.5 526.5L286.5 526.7L287.5 526.9L288.5 527L289.5 527.2L290.5 527.3L291.5 527.4L292.5 527.6L293.5 527.7L294.5 527.8L295.5 527.9L296.5 528.1L297.5 528.2L298.5 528.3L299.5 528.4L300.5 528.5L301.5 528.6L302.5 528.7L303.5 528.8L304.5 528.9L305.5 529L306.5 529.1L307.5 529.2L308.5 529.3L309.5 529.4L310.5 529.5L311.5 529.6L312.5 529.6L313.5 529.7L314.5 529.8L315.5 529.9L316.5 530L317.5 530L318.5 530.1L319.5 530.2L320.5 530.2L321.5 530.3L322.5 530.4L323.5 530.4L324.5 530.5L325.5 530.6L326.5 530.6L327.5 530.7L328.5 530.7L329.5 530.8L330.5 530.8L331.5 530.9L332.5 531L333.5 531L334.5 531.1L335.5 531.1L336.5 531.1L337.5 531.2L338.5 531.2L339.5 531.3L340.5 531.3" stroke="#000" stroke-width="2.5" fill="none" stroke-linejoin="round" stroke-linecap="round"/>
<path d="M84.5 575L85.5 574.9L86.5 574.8L87.5 574.6L88.5 574.5L89.5 574.3L90.5 574.2L91.5 574L92.5 573.9L93.5 573.7L94.5 573.6L95.5 573.4L96.5 573.2L97.5 573.1L98.5 572.9L99.5 572.7L100.5 572.6L101.5 572.4L102.5 572.2L103.5 572L104.5 571.9L105.5 571.7L106.5 571.5L107.5 571.3L108.5 571.1L109.5 570.9L110.5 570.7L111.5 570.5L112.5 570.3L113.5 570.1L114.5 569.9L115.5 569.7L116.5 569.5L117.5 569.3L118.5 569L119.5 568.8L120.5 568.6L121.5 568.4L122.5 568.1L123.5 567.9L124.5 567.7L125.5 567.4L126.5 567.2L127.5 566.9L128.5 566.7L129.5 566.4L130.5 566.2L131.5 565.9L132.5 565.7L133.5 565.4L134.5 565.2L135.5 564.9L136.5 564.6L137.5 564.4L138.5 564.1L139.5 563.8L140.5 563.5L141.5 563.3L142.5 563L143.5 562.7L144.5 562.4L145.5 562.1L146.5 561.8L147.5 561.6L148.5 561.3L149.5 561L150.5 560.7L151.5 560.4L152.5 560.1L153.5 559.8L154.5 559.5L155.5 559.2L156.5 558.9L157.5 558.6L158.5 558.3L159.5 558L160.5 557.7L161.5 557.4L162.5 557.1L163.5 556.7L164.5 556.4L165.5 556.1L166.5 555.8L167.5 555.5L168.5 555.2L169.5 554.9L170.5 554.6L171.5 554.3L172.5 554L173.5 553.8L174.5 553.5L175.5 553.2L176.5 552.9L177.5 552.6L178.5 552.3L179.5 552.1L180.5 551.8L181.5 551.5L182.5 551.3L183.5 551L184.5 550.8L185.5 550.5L186.5 550.3L187.5 550.1L188.5 549.8L189.5 549.6L190.5 549.4L191.5 549.2L192.5 549L193.5 548.8L194.5 548.6L195.5 548.4L196.5 548.3L197.5 548.1L198.5 548L199.5 547.8L200.5 547.7L201.5 547.6L202.5 547.5L203.5 547.4L204.5 547.3L205.5 547.2L206.5 547.1L207.5 547L208.5 547L209.5 547L210.5 546.9L211.5 546.9L212.5 546.9L213.5 546.9L214.5 546.9L215.5 546.9L216.5 547L217.5 547L218.5 547.1L219.5 547.2L220.5 547.3L221.5 547.4L222.5 547.5L223.5 547.6L224.5 547.8L225.5 547.9L226.5 548.1L227.5 548.3L228.5 548.5L229.5 548.7L230.5 548.9L231.5 549.1L232.5 549.3L233.5 549.5L234.5 549.8L235.5 550L236.5 550.3L237.5 550.6L238.5 550.8L239.5 551.1L240.5 551.4L241.5 551.7L242.5 552L243.5 552.3L244.5 552.6L245.5 552.9L246.5 553.2L247.5 553.5L248.5 553.8L249.5 554.2L250.5 554.5L251.5 554.8L252.5 555.1L253.5 555.5L254.5 555.8L255.5 556.1L256.5 556.5L257.5 556.8L258.5 557.1L259.5 557.5L260.5 557.8L261.5 558.1L262.5 558.4L263.5 558.8L264.5 559.1L265.5 559.4L266.5 559.8L267.5 560.1L268.5 560.4L269.5 560.7L270.5 561.1L271.5 561.4L272.5 561.7L273.5 562L274.5 562.3L275.5 562.6L276.5 562.9L277.5 563.2L278.5 563.5L279.5 563.8L280.5 564.1L281.5 564.4L282.5 564.7L283.5 565L284.5 565.3L285.5 565.6L286.5 565.8L287.5 566.1L288.5 566.4L289.5 566.6L290.5 566.9L291.5 567.2L292.5 567.4L293.5 567.7L294.5 567.9L295.5 568.2L296.5 568.4L297.5 568.7L298.5 568.9L299.5 569.1L300.5 569.4L301.5 569.6L302.5 569.8L303.5 570L304.5 570.2L305.5 570.5L306.5 570.7L307.5 570.9L308.5 571.1L309.5 571.3L310.5 571.5L311.5 571.7L312.5 571.9L313.5 572L314.5 572.2L315.5 572.4L316.5 572.6L317.5 572.8L318.5 572.9L319.5 573.1L320.5 573.3L321.5 573.4L322.5 573.6L323.5 573.7L324.5 573.9L325.5 574L326.5 574.2L327.5 574.3L328.5 574.5L329.5 574.6L330.5 574.8L331.5 574.9L332.5 575L333.5 575.2L334.5 575.3L335.5 575.4L336.5 575.5L337.5 575.7L338.5 575.8L339.5 575.9L340.5 576" stroke="#000" stroke-width="2.5" fill="none" stroke-linejoin="round" stroke-linecap="round"/>
<line x1="84.5" y1="483.8" x2="102.5" y2="483.8" stroke="#000" stroke-width="2.5"/>
<line x1="322.9" y1="483.8" x2="340.9" y2="483.8" stroke="#000" stroke-width="2.5"/>
<line x1="84.5" y1="389.8" x2="102.5" y2="389.8" stroke="#000" stroke-width="2.5"/>
<line x1="322.9" y1="389.8" x2="340.9" y2="389.8" stroke="#000" stroke-width="2.5"/>
<line x1="84.5" y1="295.8" x2="102.5" y2="295.8" stroke="#000" stroke-width="2.5"/>
<line x1="322.9" y1="295.8" x2="340.9" y2="295.8" stroke="#000" stroke-width="2.5"/>
<line x1="84.5" y1="201.7" x2="102.5" y2="201.7" stroke="#000" stroke-width="2.5"/>
<line x1="322.9" y1="201.7" x2="340.9" y2="201.7" stroke="#000" stroke-width="2.5"/>
<line x1="84.5" y1="107.7" x2="102.5" y2="107.7" stroke="#000" stroke-width="2.5"/>
<line x1="322.9" y1="107.7" x2="340.9" y2="107.7" stroke="#000" stroke-width="2.5"/>
<line x1="170" y1="13.7" x2="170" y2="30.2" stroke="#000" stroke-width="2.5"/>
<line x1="170" y1="577.8" x2="170" y2="561.3" stroke="#000" stroke-width="2.5"/>
<line x1="255.4" y1="13.7" x2="255.4" y2="30.2" stroke="#000" stroke-width="2.5"/>
<line x1="255.4" y1="577.8" x2="255.4" y2="561.3" stroke="#000" stroke-width="2.5"/>
<rect x="84.5" y="13.7" width="256.4" height="564.1" fill="none" stroke="#000" stroke-width="2.5"/>
<text transform="translate(66.29 583.82) scale(0.9887 1)" font-size="23.30" fill="#231f20" stroke="#231f20" stroke-width="0.20">0</text>
<text transform="translate(40.66 489.81) scale(0.9887 1)" font-size="23.30" fill="#231f20" stroke="#231f20" stroke-width="0.20">500</text>
<text transform="translate(27.84 395.79) scale(0.9887 1)" font-size="23.30" fill="#231f20" stroke="#231f20" stroke-width="0.20">1000</text>
<text transform="translate(27.84 301.77) scale(0.9887 1)" font-size="23.30" fill="#231f20" stroke="#231f20" stroke-width="0.20">1500</text>
<text transform="translate(27.84 207.76) scale(0.9887 1)" font-size="23.30" fill="#231f20" stroke="#231f20" stroke-width="0.20">2000</text>
<text transform="translate(27.84 113.74) scale(0.9887 1)" font-size="23.30" fill="#231f20" stroke="#231f20" stroke-width="0.20">2500</text>
<text transform="translate(27.84 19.72) scale(0.9887 1)" font-size="23.30" fill="#231f20" stroke="#231f20" stroke-width="0.20">3000</text>
<text transform="translate(71.66 602.67) scale(0.9887 1)" font-size="23.30" fill="#231f20" stroke="#231f20" stroke-width="0.20">0.2</text>
<text transform="translate(152.07 602.67) scale(0.9887 1)" font-size="23.30" fill="#231f20" stroke="#231f20" stroke-width="0.20">0.4</text>
<text transform="translate(236.54 602.67) scale(0.9887 1)" font-size="23.30" fill="#231f20" stroke="#231f20" stroke-width="0.20">0.6</text>
<text transform="translate(319.24 602.67) scale(0.9887 1)" font-size="23.30" fill="#231f20" stroke="#231f20" stroke-width="0.20">0.8</text>
<text transform="translate(17.85 400.17) rotate(-90) scale(1.0489 1)" font-size="22.42" fill="#231f20" stroke="#231f20" stroke-width="0.2"><tspan font-family='"Liberation Sans"'>Intensity (arb. units)</tspan></text>
<text transform="translate(167.53 632.80) scale(1.0370 1)" font-size="21.25" fill="#231f20" stroke="#231f20" stroke-width="0.2"><tspan font-family='"Liberation Sans"'>(⅓,⅓,6+</tspan><tspan font-family='"Liberation Serif"' font-style="italic">l</tspan><tspan font-family='"Liberation Sans"'>)</tspan></text>
<text transform="translate(98.14 43.61) scale(0.9524 1)" font-size="20.13" fill="#000" stroke="#000" stroke-width="0.1"><tspan font-family='"Liberation Sans"'>(a)</tspan></text>
<text transform="translate(303.26 111.42) scale(0.9448 1)" font-size="20.20" fill="#231f20" stroke="#231f20" stroke-width="0.21">88K</text>
<text transform="translate(303.26 156.55) scale(0.9448 1)" font-size="20.20" fill="#231f20" stroke="#231f20" stroke-width="0.21">90K</text>
<text transform="translate(303.26 201.68) scale(0.9448 1)" font-size="20.20" fill="#231f20" stroke="#231f20" stroke-width="0.21">94K</text>
<text transform="translate(292.65 246.81) scale(0.9448 1)" font-size="20.20" fill="#231f20" stroke="#231f20" stroke-width="0.21">102K</text>
<text transform="translate(292.65 291.93) scale(0.9448 1)" font-size="20.20" fill="#231f20" stroke="#231f20" stroke-width="0.21">104K</text>
<text transform="translate(292.65 337.06) scale(0.9448 1)" font-size="20.20" fill="#231f20" stroke="#231f20" stroke-width="0.21">106K</text>
<text transform="translate(292.65 382.19) scale(0.9448 1)" font-size="20.20" fill="#231f20" stroke="#231f20" stroke-width="0.21">108K</text>
<text transform="translate(292.65 427.32) scale(0.9448 1)" font-size="20.20" fill="#231f20" stroke="#231f20" stroke-width="0.21">110K</text>
<text transform="translate(292.65 472.45) scale(0.9448 1)" font-size="20.20" fill="#231f20" stroke="#231f20" stroke-width="0.21">120K</text>
<text transform="translate(292.65 517.57) scale(0.9448 1)" font-size="20.20" fill="#231f20" stroke="#231f20" stroke-width="0.21">140K</text>
<text transform="translate(292.65 562.70) scale(0.9448 1)" font-size="20.20" fill="#231f20" stroke="#231f20" stroke-width="0.21">200K</text>
<path d="M162.2 89.3l10.6 10.4M172.8 89.3l-10.6 10.4" stroke="#0072BD" stroke-width="1.5" fill="none"/>
<text transform="translate(175.71 99.60) scale(0.9101 1)" font-size="20.06" fill="#0072BD" stroke="#0072BD" stroke-width="0.2"><tspan font-family='"Liberation Sans"'>10</tspan></text>
<text transform="translate(195.12 84.71) scale(1.0337 1)" font-size="19.21" fill="#0072BD" stroke="#0072BD" stroke-width="0.2"><tspan font-family='"Liberation Sans"'>-3</tspan></text>
<path d="M165.6 148.8l10.8 10.4M176.4 148.8l-10.8 10.4" stroke="#D95319" stroke-width="1.5" fill="none"/>
<text transform="translate(179.21 159.40) scale(0.8852 1)" font-size="20.62" fill="#D95319" stroke="#D95319" stroke-width="0.2"><tspan font-family='"Liberation Sans"'>10</tspan></text>
<text transform="translate(200.23 144.62) scale(1.0529 1)" font-size="18.50" fill="#D95319" stroke="#D95319" stroke-width="0.2"><tspan font-family='"Liberation Sans"'>-3</tspan></text>
<path d="M166.1 189.8l10.8 10.6M176.9 189.8l-10.8 10.6" stroke="#7E2F8E" stroke-width="1.5" fill="none"/>
<text transform="translate(177.41 200.52) scale(0.8611 1)" font-size="20.52" fill="#7E2F8E" stroke="#7E2F8E" stroke-width="0.2"><tspan font-family='"Liberation Sans"'>⅛</tspan></text>
<path d="M86 463.5l9.8 9.8M95.8 463.5l-9.8 9.8" stroke="#D1CCA0" stroke-width="1.4" fill="none"/>
<text transform="translate(97.16 472.56) scale(1.0253 1)" font-size="17.96" fill="#D1CCA0" stroke="#D1CCA0" stroke-width="0.2"><tspan font-family='"Liberation Sans"'>³⁄₂</tspan></text>
<path d="M85.8 505.2l10.2 9.9M96 505.2l-10.2 9.9" stroke="#CDBABB" stroke-width="1.4" fill="none"/>
<text transform="translate(97.41 515.51) scale(0.9443 1)" font-size="19.21" fill="#CDBABB" stroke="#CDBABB" stroke-width="0.2"><tspan font-family='"Liberation Sans"'>3</tspan></text>
<path d="M85.8 546l10.2 9.3M96 546l-10.2 9.3" stroke="#A9B9CA" stroke-width="1.4" fill="none"/>
<text transform="translate(97.20 555.21) scale(1.0234 1)" font-size="19.21" fill="#A9B9CA" stroke="#A9B9CA" stroke-width="0.2"><tspan font-family='"Liberation Sans"'>10</tspan></text>
<path d="M423.8 108.6V114.6M421.8 108.6h4.0M421.8 114.6h4.0M425.7 108.7V115M423.7 108.7h4.0M423.7 115h4.0M427.6 107.6V114.2M425.6 107.6h4.0M425.6 114.2h4.0M429.5 103.8V110.7M427.5 103.8h4.0M427.5 110.7h4.0M431.4 102V108.9M429.4 102h4.0M429.4 108.9h4.0M433.3 103.5V110.5M431.3 103.5h4.0M431.3 110.5h4.0M435.2 103.3V110.4M433.2 103.3h4.0M433.2 110.4h4.0M437.1 102.8V110.1M435.1 102.8h4.0M435.1 110.1h4.0M439 100.7V108.1M437 100.7h4.0M437 108.1h4.0M440.9 99.1V106.7M438.9 99.1h4.0M438.9 106.7h4.0M442.8 97.6V105.3M440.8 97.6h4.0M440.8 105.3h4.0M444.7 96.6V104.4M442.7 96.6h4.0M442.7 104.4h4.0M446.6 93.4V101.4M444.6 93.4h4.0M444.6 101.4h4.0M448.5 84.9V93.2M446.5 84.9h4.0M446.5 93.2h4.0M450.4 91.4V99.9M448.4 91.4h4.0M448.4 99.9h4.0M452.3 86.3V94.8M450.3 86.3h4.0M450.3 94.8h4.0M454.2 89.7V97.9M452.2 89.7h4.0M452.2 97.9h4.0M456.1 95.6V103.7M454.1 95.6h4.0M454.1 103.7h4.0M458 91.6V99.7M456 91.6h4.0M456 99.7h4.0M459.9 91.9V100.3M457.9 91.9h4.0M457.9 100.3h4.0M461.8 94.6V103.3M459.8 94.6h4.0M459.8 103.3h4.0M463.7 85.4V94.3M461.7 85.4h4.0M461.7 94.3h4.0M465.6 83.1V92.2M463.6 83.1h4.0M463.6 92.2h4.0M467.5 84.4V93.6M465.5 84.4h4.0M465.5 93.6h4.0M469.4 81.4V90.8M467.4 81.4h4.0M467.4 90.8h4.0M471.3 76V85.7M469.3 76h4.0M469.3 85.7h4.0M473.2 74.5V84.4M471.2 74.5h4.0M471.2 84.4h4.0M475.1 70.3V80.5M473.1 70.3h4.0M473.1 80.5h4.0M477 63.7V74M475 63.7h4.0M475 74h4.0M478.9 70.3V80.7M476.9 70.3h4.0M476.9 80.7h4.0M480.8 65.1V75.6M478.8 65.1h4.0M478.8 75.6h4.0M482.7 62.3V73M480.7 62.3h4.0M480.7 73h4.0M484.6 59.1V70.1M482.6 59.1h4.0M482.6 70.1h4.0M486.5 64.4V75.5M484.5 64.4h4.0M484.5 75.5h4.0M488.4 57.6V68.9M486.4 57.6h4.0M486.4 68.9h4.0M490.3 58.3V69.6M488.3 58.3h4.0M488.3 69.6h4.0M492.2 57.7V69.1M490.2 57.7h4.0M490.2 69.1h4.0M494.1 57.6V69.1M492.1 57.6h4.0M492.1 69.1h4.0M496 52.9V64.6M494 52.9h4.0M494 64.6h4.0M497.9 50.2V61.9M495.9 50.2h4.0M495.9 61.9h4.0M499.8 48.9V60.7M497.8 48.9h4.0M497.8 60.7h4.0M501.7 50.8V62.7M499.7 50.8h4.0M499.7 62.7h4.0M503.6 49.7V61.6M501.6 49.7h4.0M501.6 61.6h4.0M505.5 45.3V57.3M503.5 45.3h4.0M503.5 57.3h4.0M507.4 41.9V54M505.4 41.9h4.0M505.4 54h4.0M509.3 48.2V60.4M507.3 48.2h4.0M507.3 60.4h4.0M511.2 48.2V60.3M509.2 48.2h4.0M509.2 60.3h4.0M513.1 48.9V60.8M511.1 48.9h4.0M511.1 60.8h4.0M515 50.4V62.1M513 50.4h4.0M513 62.1h4.0M516.9 53.9V65.6M514.9 53.9h4.0M514.9 65.6h4.0M518.8 51.6V63.2M516.8 51.6h4.0M516.8 63.2h4.0M520.7 54.3V65.8M518.7 54.3h4.0M518.7 65.8h4.0M522.6 51.5V62.8M520.6 51.5h4.0M520.6 62.8h4.0M524.5 59.6V70.8M522.5 59.6h4.0M522.5 70.8h4.0M526.4 58.6V69.9M524.4 58.6h4.0M524.4 69.9h4.0M528.3 56V67.3M526.3 56h4.0M526.3 67.3h4.0M530.2 57V68.4M528.2 57h4.0M528.2 68.4h4.0M532.1 53.9V65.4M530.1 53.9h4.0M530.1 65.4h4.0M534 56.4V67.9M532 56.4h4.0M532 67.9h4.0M535.9 54.2V65.7M533.9 54.2h4.0M533.9 65.7h4.0M537.8 52.9V64.4M535.8 52.9h4.0M535.8 64.4h4.0M539.7 46.9V58.3M537.7 46.9h4.0M537.7 58.3h4.0M541.6 56V67.4M539.6 56h4.0M539.6 67.4h4.0M543.5 59.9V71.3M541.5 59.9h4.0M541.5 71.3h4.0M545.4 55V66.4M543.4 55h4.0M543.4 66.4h4.0M547.3 55.7V67.1M545.3 55.7h4.0M545.3 67.1h4.0M549.2 58.2V69.6M547.2 58.2h4.0M547.2 69.6h4.0M551.1 56.9V68.3M549.1 56.9h4.0M549.1 68.3h4.0M553 54.2V65.6M551 54.2h4.0M551 65.6h4.0M554.9 54V65.5M552.9 54h4.0M552.9 65.5h4.0M556.8 59.9V71.2M554.8 59.9h4.0M554.8 71.2h4.0M558.7 64.9V75.6M556.7 64.9h4.0M556.7 75.6h4.0M560.6 66.4V77.1M558.6 66.4h4.0M558.6 77.1h4.0M562.5 68.6V79.1M560.5 68.6h4.0M560.5 79.1h4.0M564.4 65.6V76.1M562.4 65.6h4.0M562.4 76.1h4.0M566.3 74V84.3M564.3 74h4.0M564.3 84.3h4.0M568.2 71.3V81.5M566.2 71.3h4.0M566.2 81.5h4.0M570.1 67.6V77.7M568.1 67.6h4.0M568.1 77.7h4.0M572 76.2V86.2M570 76.2h4.0M570 86.2h4.0M573.9 66.7V76.7M571.9 66.7h4.0M571.9 76.7h4.0M575.8 71.5V81.4M573.8 71.5h4.0M573.8 81.4h4.0M577.7 76.2V86.1M575.7 76.2h4.0M575.7 86.1h4.0M579.6 79.3V89M577.6 79.3h4.0M577.6 89h4.0M581.5 79.2V88.9M579.5 79.2h4.0M579.5 88.9h4.0M583.4 78.7V88.2M581.4 78.7h4.0M581.4 88.2h4.0M585.3 76.3V85.8M583.3 76.3h4.0M583.3 85.8h4.0M587.2 77.8V87.3M585.2 77.8h4.0M585.2 87.3h4.0M589.1 83.2V92.6M587.1 83.2h4.0M587.1 92.6h4.0M591 80.1V89.3M589 80.1h4.0M589 89.3h4.0M592.9 87.2V96.2M590.9 87.2h4.0M590.9 96.2h4.0M594.8 86.6V95.3M592.8 86.6h4.0M592.8 95.3h4.0M596.7 88V96.6M594.7 88h4.0M594.7 96.6h4.0M598.6 91.8V100.4M596.6 91.8h4.0M596.6 100.4h4.0M600.5 91.9V100.4M598.5 91.9h4.0M598.5 100.4h4.0M602.4 92.6V100.8M600.4 92.6h4.0M600.4 100.8h4.0M604.3 93.7V101.7M602.3 93.7h4.0M602.3 101.7h4.0M606.2 94.9V102.6M604.2 94.9h4.0M604.2 102.6h4.0M608.1 100.5V108M606.1 100.5h4.0M606.1 108h4.0M610 101.9V109.4M608 101.9h4.0M608 109.4h4.0M611.9 102.3V109.5M609.9 102.3h4.0M609.9 109.5h4.0M613.8 105.2V111.8M611.8 105.2h4.0M611.8 111.8h4.0M615.7 107.6V113.8M613.7 107.6h4.0M613.7 113.8h4.0M617.6 108V114M615.6 108h4.0M615.6 114h4.0M619.5 109.1V115M617.5 109.1h4.0M617.5 115h4.0M621.4 112.8V118.4M619.4 112.8h4.0M619.4 118.4h4.0M623.3 115.4V120.5M621.3 115.4h4.0M621.3 120.5h4.0M625.2 117.1V121.7M623.2 117.1h4.0M623.2 121.7h4.0M627.1 120.7V124.9M625.1 120.7h4.0M625.1 124.9h4.0M629 120V124.1M627 120h4.0M627 124.1h4.0M630.9 120.5V124.6M628.9 120.5h4.0M628.9 124.6h4.0M632.8 121.4V125.3M630.8 121.4h4.0M630.8 125.3h4.0M634.7 119.9V123.8M632.7 119.9h4.0M632.7 123.8h4.0M636.6 119.5V123.2M634.6 119.5h4.0M634.6 123.2h4.0M638.5 122.3V125.9M636.5 122.3h4.0M636.5 125.9h4.0M640.4 121.6V125M638.4 121.6h4.0M638.4 125h4.0M642.3 123.5V126.7M640.3 123.5h4.0M640.3 126.7h4.0M644.2 122.9V126.1M642.2 122.9h4.0M642.2 126.1h4.0M646.1 123.4V126.6M644.1 123.4h4.0M644.1 126.6h4.0M648 123.2V126.4M646 123.2h4.0M646 126.4h4.0M649.9 121.1V124.2M647.9 121.1h4.0M647.9 124.2h4.0M651.8 123.2V126.4M649.8 123.2h4.0M649.8 126.4h4.0M653.7 122.2V125.4M651.7 122.2h4.0M651.7 125.4h4.0M655.6 122.2V125.3M653.6 122.2h4.0M653.6 125.3h4.0M657.5 122.5V125.6M655.5 122.5h4.0M655.5 125.6h4.0M659.4 123.5V126.6M657.4 123.5h4.0M657.4 126.6h4.0M661.3 123.7V126.7M659.3 123.7h4.0M659.3 126.7h4.0M663.2 123.8V126.8M661.2 123.8h4.0M661.2 126.8h4.0M665.1 122V124.9M663.1 122h4.0M663.1 124.9h4.0M667 122.9V125.8M665 122.9h4.0M665 125.8h4.0M668.9 121.8V124.6M666.9 121.8h4.0M666.9 124.6h4.0M670.8 123.4V126.2M668.8 123.4h4.0M668.8 126.2h4.0M672.7 124V126.7M670.7 124h4.0M670.7 126.7h4.0M674.6 123.2V125.8M672.6 123.2h4.0M672.6 125.8h4.0M676.5 123.9V126.5M674.5 123.9h4.0M674.5 126.5h4.0M678.4 124V126.6M676.4 124h4.0M676.4 126.6h4.0M680.3 124.6V127.1M678.3 124.6h4.0M678.3 127.1h4.0" stroke="#7E2F8E" stroke-width="1.7" fill="none"/>
<path d="M420.8 111.6a3.0 3.0 0 1 0 6.0 0a3.0 3.0 0 1 0 -6.0 0M422.7 111.9a3.0 3.0 0 1 0 6.0 0a3.0 3.0 0 1 0 -6.0 0M424.6 110.9a3.0 3.0 0 1 0 6.0 0a3.0 3.0 0 1 0 -6.0 0M426.5 107.3a3.0 3.0 0 1 0 6.0 0a3.0 3.0 0 1 0 -6.0 0M428.4 105.4a3.0 3.0 0 1 0 6.0 0a3.0 3.0 0 1 0 -6.0 0M430.3 107a3.0 3.0 0 1 0 6.0 0a3.0 3.0 0 1 0 -6.0 0M432.2 106.9a3.0 3.0 0 1 0 6.0 0a3.0 3.0 0 1 0 -6.0 0M434.1 106.4a3.0 3.0 0 1 0 6.0 0a3.0 3.0 0 1 0 -6.0 0M436 104.4a3.0 3.0 0 1 0 6.0 0a3.0 3.0 0 1 0 -6.0 0M437.9 102.9a3.0 3.0 0 1 0 6.0 0a3.0 3.0 0 1 0 -6.0 0M439.8 101.5a3.0 3.0 0 1 0 6.0 0a3.0 3.0 0 1 0 -6.0 0M441.7 100.5a3.0 3.0 0 1 0 6.0 0a3.0 3.0 0 1 0 -6.0 0M443.6 97.4a3.0 3.0 0 1 0 6.0 0a3.0 3.0 0 1 0 -6.0 0M445.5 89.1a3.0 3.0 0 1 0 6.0 0a3.0 3.0 0 1 0 -6.0 0M447.4 95.7a3.0 3.0 0 1 0 6.0 0a3.0 3.0 0 1 0 -6.0 0M449.3 90.6a3.0 3.0 0 1 0 6.0 0a3.0 3.0 0 1 0 -6.0 0M451.2 93.8a3.0 3.0 0 1 0 6.0 0a3.0 3.0 0 1 0 -6.0 0M453.1 99.6a3.0 3.0 0 1 0 6.0 0a3.0 3.0 0 1 0 -6.0 0M455 95.7a3.0 3.0 0 1 0 6.0 0a3.0 3.0 0 1 0 -6.0 0M456.9 96.1a3.0 3.0 0 1 0 6.0 0a3.0 3.0 0 1 0 -6.0 0M458.8 98.9a3.0 3.0 0 1 0 6.0 0a3.0 3.0 0 1 0 -6.0 0M460.7 89.8a3.0 3.0 0 1 0 6.0 0a3.0 3.0 0 1 0 -6.0 0M462.6 87.6a3.0 3.0 0 1 0 6.0 0a3.0 3.0 0 1 0 -6.0 0M464.5 89a3.0 3.0 0 1 0 6.0 0a3.0 3.0 0 1 0 -6.0 0M466.4 86.1a3.0 3.0 0 1 0 6.0 0a3.0 3.0 0 1 0 -6.0 0M468.3 80.9a3.0 3.0 0 1 0 6.0 0a3.0 3.0 0 1 0 -6.0 0M470.2 79.5a3.0 3.0 0 1 0 6.0 0a3.0 3.0 0 1 0 -6.0 0M472.1 75.4a3.0 3.0 0 1 0 6.0 0a3.0 3.0 0 1 0 -6.0 0M474 68.9a3.0 3.0 0 1 0 6.0 0a3.0 3.0 0 1 0 -6.0 0M475.9 75.5a3.0 3.0 0 1 0 6.0 0a3.0 3.0 0 1 0 -6.0 0M477.8 70.3a3.0 3.0 0 1 0 6.0 0a3.0 3.0 0 1 0 -6.0 0M479.7 67.6a3.0 3.0 0 1 0 6.0 0a3.0 3.0 0 1 0 -6.0 0M481.6 64.6a3.0 3.0 0 1 0 6.0 0a3.0 3.0 0 1 0 -6.0 0M483.5 70a3.0 3.0 0 1 0 6.0 0a3.0 3.0 0 1 0 -6.0 0M485.4 63.2a3.0 3.0 0 1 0 6.0 0a3.0 3.0 0 1 0 -6.0 0M487.3 63.9a3.0 3.0 0 1 0 6.0 0a3.0 3.0 0 1 0 -6.0 0M489.2 63.4a3.0 3.0 0 1 0 6.0 0a3.0 3.0 0 1 0 -6.0 0M491.1 63.3a3.0 3.0 0 1 0 6.0 0a3.0 3.0 0 1 0 -6.0 0M493 58.7a3.0 3.0 0 1 0 6.0 0a3.0 3.0 0 1 0 -6.0 0M494.9 56a3.0 3.0 0 1 0 6.0 0a3.0 3.0 0 1 0 -6.0 0M496.8 54.8a3.0 3.0 0 1 0 6.0 0a3.0 3.0 0 1 0 -6.0 0M498.7 56.8a3.0 3.0 0 1 0 6.0 0a3.0 3.0 0 1 0 -6.0 0M500.6 55.7a3.0 3.0 0 1 0 6.0 0a3.0 3.0 0 1 0 -6.0 0M502.5 51.3a3.0 3.0 0 1 0 6.0 0a3.0 3.0 0 1 0 -6.0 0M504.4 47.9a3.0 3.0 0 1 0 6.0 0a3.0 3.0 0 1 0 -6.0 0M506.3 54.3a3.0 3.0 0 1 0 6.0 0a3.0 3.0 0 1 0 -6.0 0M508.2 54.3a3.0 3.0 0 1 0 6.0 0a3.0 3.0 0 1 0 -6.0 0M510.1 54.9a3.0 3.0 0 1 0 6.0 0a3.0 3.0 0 1 0 -6.0 0M512 56.3a3.0 3.0 0 1 0 6.0 0a3.0 3.0 0 1 0 -6.0 0M513.9 59.8a3.0 3.0 0 1 0 6.0 0a3.0 3.0 0 1 0 -6.0 0M515.8 57.4a3.0 3.0 0 1 0 6.0 0a3.0 3.0 0 1 0 -6.0 0M517.7 60a3.0 3.0 0 1 0 6.0 0a3.0 3.0 0 1 0 -6.0 0M519.6 57.2a3.0 3.0 0 1 0 6.0 0a3.0 3.0 0 1 0 -6.0 0M521.5 65.2a3.0 3.0 0 1 0 6.0 0a3.0 3.0 0 1 0 -6.0 0M523.4 64.3a3.0 3.0 0 1 0 6.0 0a3.0 3.0 0 1 0 -6.0 0M525.3 61.6a3.0 3.0 0 1 0 6.0 0a3.0 3.0 0 1 0 -6.0 0M527.2 62.7a3.0 3.0 0 1 0 6.0 0a3.0 3.0 0 1 0 -6.0 0M529.1 59.6a3.0 3.0 0 1 0 6.0 0a3.0 3.0 0 1 0 -6.0 0M531 62.2a3.0 3.0 0 1 0 6.0 0a3.0 3.0 0 1 0 -6.0 0M532.9 59.9a3.0 3.0 0 1 0 6.0 0a3.0 3.0 0 1 0 -6.0 0M534.8 58.7a3.0 3.0 0 1 0 6.0 0a3.0 3.0 0 1 0 -6.0 0M536.7 52.6a3.0 3.0 0 1 0 6.0 0a3.0 3.0 0 1 0 -6.0 0M538.6 61.7a3.0 3.0 0 1 0 6.0 0a3.0 3.0 0 1 0 -6.0 0M540.5 65.6a3.0 3.0 0 1 0 6.0 0a3.0 3.0 0 1 0 -6.0 0M542.4 60.7a3.0 3.0 0 1 0 6.0 0a3.0 3.0 0 1 0 -6.0 0M544.3 61.4a3.0 3.0 0 1 0 6.0 0a3.0 3.0 0 1 0 -6.0 0M546.2 63.9a3.0 3.0 0 1 0 6.0 0a3.0 3.0 0 1 0 -6.0 0M548.1 62.6a3.0 3.0 0 1 0 6.0 0a3.0 3.0 0 1 0 -6.0 0M550 59.9a3.0 3.0 0 1 0 6.0 0a3.0 3.0 0 1 0 -6.0 0M551.9 59.8a3.0 3.0 0 1 0 6.0 0a3.0 3.0 0 1 0 -6.0 0M553.8 65.6a3.0 3.0 0 1 0 6.0 0a3.0 3.0 0 1 0 -6.0 0M555.7 70.2a3.0 3.0 0 1 0 6.0 0a3.0 3.0 0 1 0 -6.0 0M557.6 71.8a3.0 3.0 0 1 0 6.0 0a3.0 3.0 0 1 0 -6.0 0M559.5 73.8a3.0 3.0 0 1 0 6.0 0a3.0 3.0 0 1 0 -6.0 0M561.4 70.8a3.0 3.0 0 1 0 6.0 0a3.0 3.0 0 1 0 -6.0 0M563.3 79.1a3.0 3.0 0 1 0 6.0 0a3.0 3.0 0 1 0 -6.0 0M565.2 76.4a3.0 3.0 0 1 0 6.0 0a3.0 3.0 0 1 0 -6.0 0M567.1 72.7a3.0 3.0 0 1 0 6.0 0a3.0 3.0 0 1 0 -6.0 0M569 81.2a3.0 3.0 0 1 0 6.0 0a3.0 3.0 0 1 0 -6.0 0M570.9 71.7a3.0 3.0 0 1 0 6.0 0a3.0 3.0 0 1 0 -6.0 0M572.8 76.4a3.0 3.0 0 1 0 6.0 0a3.0 3.0 0 1 0 -6.0 0M574.7 81.1a3.0 3.0 0 1 0 6.0 0a3.0 3.0 0 1 0 -6.0 0M576.6 84.1a3.0 3.0 0 1 0 6.0 0a3.0 3.0 0 1 0 -6.0 0M578.5 84.1a3.0 3.0 0 1 0 6.0 0a3.0 3.0 0 1 0 -6.0 0M580.4 83.5a3.0 3.0 0 1 0 6.0 0a3.0 3.0 0 1 0 -6.0 0M582.3 81.1a3.0 3.0 0 1 0 6.0 0a3.0 3.0 0 1 0 -6.0 0M584.2 82.5a3.0 3.0 0 1 0 6.0 0a3.0 3.0 0 1 0 -6.0 0M586.1 87.9a3.0 3.0 0 1 0 6.0 0a3.0 3.0 0 1 0 -6.0 0M588 84.7a3.0 3.0 0 1 0 6.0 0a3.0 3.0 0 1 0 -6.0 0M589.9 91.7a3.0 3.0 0 1 0 6.0 0a3.0 3.0 0 1 0 -6.0 0M591.8 90.9a3.0 3.0 0 1 0 6.0 0a3.0 3.0 0 1 0 -6.0 0M593.7 92.3a3.0 3.0 0 1 0 6.0 0a3.0 3.0 0 1 0 -6.0 0M595.6 96.1a3.0 3.0 0 1 0 6.0 0a3.0 3.0 0 1 0 -6.0 0M597.5 96.2a3.0 3.0 0 1 0 6.0 0a3.0 3.0 0 1 0 -6.0 0M599.4 96.7a3.0 3.0 0 1 0 6.0 0a3.0 3.0 0 1 0 -6.0 0M601.3 97.7a3.0 3.0 0 1 0 6.0 0a3.0 3.0 0 1 0 -6.0 0M603.2 98.7a3.0 3.0 0 1 0 6.0 0a3.0 3.0 0 1 0 -6.0 0M605.1 104.2a3.0 3.0 0 1 0 6.0 0a3.0 3.0 0 1 0 -6.0 0M607 105.7a3.0 3.0 0 1 0 6.0 0a3.0 3.0 0 1 0 -6.0 0M608.9 105.9a3.0 3.0 0 1 0 6.0 0a3.0 3.0 0 1 0 -6.0 0M610.8 108.5a3.0 3.0 0 1 0 6.0 0a3.0 3.0 0 1 0 -6.0 0M612.7 110.7a3.0 3.0 0 1 0 6.0 0a3.0 3.0 0 1 0 -6.0 0M614.6 111a3.0 3.0 0 1 0 6.0 0a3.0 3.0 0 1 0 -6.0 0M616.5 112a3.0 3.0 0 1 0 6.0 0a3.0 3.0 0 1 0 -6.0 0M618.4 115.6a3.0 3.0 0 1 0 6.0 0a3.0 3.0 0 1 0 -6.0 0M620.3 118a3.0 3.0 0 1 0 6.0 0a3.0 3.0 0 1 0 -6.0 0M622.2 119.4a3.0 3.0 0 1 0 6.0 0a3.0 3.0 0 1 0 -6.0 0M624.1 122.8a3.0 3.0 0 1 0 6.0 0a3.0 3.0 0 1 0 -6.0 0M626 122.1a3.0 3.0 0 1 0 6.0 0a3.0 3.0 0 1 0 -6.0 0M627.9 122.5a3.0 3.0 0 1 0 6.0 0a3.0 3.0 0 1 0 -6.0 0M629.8 123.4a3.0 3.0 0 1 0 6.0 0a3.0 3.0 0 1 0 -6.0 0M631.7 121.9a3.0 3.0 0 1 0 6.0 0a3.0 3.0 0 1 0 -6.0 0M633.6 121.3a3.0 3.0 0 1 0 6.0 0a3.0 3.0 0 1 0 -6.0 0M635.5 124.1a3.0 3.0 0 1 0 6.0 0a3.0 3.0 0 1 0 -6.0 0M637.4 123.3a3.0 3.0 0 1 0 6.0 0a3.0 3.0 0 1 0 -6.0 0M639.3 125.1a3.0 3.0 0 1 0 6.0 0a3.0 3.0 0 1 0 -6.0 0M641.2 124.5a3.0 3.0 0 1 0 6.0 0a3.0 3.0 0 1 0 -6.0 0M643.1 125a3.0 3.0 0 1 0 6.0 0a3.0 3.0 0 1 0 -6.0 0M645 124.8a3.0 3.0 0 1 0 6.0 0a3.0 3.0 0 1 0 -6.0 0M646.9 122.7a3.0 3.0 0 1 0 6.0 0a3.0 3.0 0 1 0 -6.0 0M648.8 124.8a3.0 3.0 0 1 0 6.0 0a3.0 3.0 0 1 0 -6.0 0M650.7 123.8a3.0 3.0 0 1 0 6.0 0a3.0 3.0 0 1 0 -6.0 0M652.6 123.8a3.0 3.0 0 1 0 6.0 0a3.0 3.0 0 1 0 -6.0 0M654.5 124.1a3.0 3.0 0 1 0 6.0 0a3.0 3.0 0 1 0 -6.0 0M656.4 125a3.0 3.0 0 1 0 6.0 0a3.0 3.0 0 1 0 -6.0 0M658.3 125.2a3.0 3.0 0 1 0 6.0 0a3.0 3.0 0 1 0 -6.0 0M660.2 125.3a3.0 3.0 0 1 0 6.0 0a3.0 3.0 0 1 0 -6.0 0M662.1 123.5a3.0 3.0 0 1 0 6.0 0a3.0 3.0 0 1 0 -6.0 0M664 124.3a3.0 3.0 0 1 0 6.0 0a3.0 3.0 0 1 0 -6.0 0M665.9 123.2a3.0 3.0 0 1 0 6.0 0a3.0 3.0 0 1 0 -6.0 0M667.8 124.8a3.0 3.0 0 1 0 6.0 0a3.0 3.0 0 1 0 -6.0 0M669.7 125.4a3.0 3.0 0 1 0 6.0 0a3.0 3.0 0 1 0 -6.0 0M671.6 124.5a3.0 3.0 0 1 0 6.0 0a3.0 3.0 0 1 0 -6.0 0M673.5 125.2a3.0 3.0 0 1 0 6.0 0a3.0 3.0 0 1 0 -6.0 0M675.4 125.3a3.0 3.0 0 1 0 6.0 0a3.0 3.0 0 1 0 -6.0 0M677.3 125.8a3.0 3.0 0 1 0 6.0 0a3.0 3.0 0 1 0 -6.0 0" fill="#7E2F8E"/>
<path d="M423.8 182.1V187.7M421.8 182.1h4.0M421.8 187.7h4.0M425.7 181V186.8M423.7 181h4.0M423.7 186.8h4.0M427.6 179.9V185.9M425.6 179.9h4.0M425.6 185.9h4.0M429.5 182V188.2M427.5 182h4.0M427.5 188.2h4.0M431.4 180.2V186.5M429.4 180.2h4.0M429.4 186.5h4.0M433.3 177.8V184.2M431.3 177.8h4.0M431.3 184.2h4.0M435.2 178V184.5M433.2 178h4.0M433.2 184.5h4.0M437.1 177.6V184.1M435.1 177.6h4.0M435.1 184.1h4.0M439 176.9V183.6M437 176.9h4.0M437 183.6h4.0M440.9 175.1V181.9M438.9 175.1h4.0M438.9 181.9h4.0M442.8 173.4V180.4M440.8 173.4h4.0M440.8 180.4h4.0M444.7 170.4V177.5M442.7 170.4h4.0M442.7 177.5h4.0M446.6 170.9V178.3M444.6 170.9h4.0M444.6 178.3h4.0M448.5 169.5V177M446.5 169.5h4.0M446.5 177h4.0M450.4 172.3V179.9M448.4 172.3h4.0M448.4 179.9h4.0M452.3 169.6V177.2M450.3 169.6h4.0M450.3 177.2h4.0M454.2 170.4V178.1M452.2 170.4h4.0M452.2 178.1h4.0M456.1 167.5V175.3M454.1 167.5h4.0M454.1 175.3h4.0M458 163.5V171.6M456 163.5h4.0M456 171.6h4.0M459.9 161.4V169.5M457.9 161.4h4.0M457.9 169.5h4.0M461.8 163.9V172.1M459.8 163.9h4.0M459.8 172.1h4.0M463.7 159.9V168.2M461.7 159.9h4.0M461.7 168.2h4.0M465.6 161.4V169.8M463.6 161.4h4.0M463.6 169.8h4.0M467.5 158.2V166.9M465.5 158.2h4.0M465.5 166.9h4.0M469.4 156V164.9M467.4 156h4.0M467.4 164.9h4.0M471.3 152.4V161.5M469.3 152.4h4.0M469.3 161.5h4.0M473.2 150.6V159.8M471.2 150.6h4.0M471.2 159.8h4.0M475.1 155.1V164.3M473.1 155.1h4.0M473.1 164.3h4.0M477 154.8V164.1M475 154.8h4.0M475 164.1h4.0M478.9 148.9V158.4M476.9 148.9h4.0M476.9 158.4h4.0M480.8 145V154.7M478.8 145h4.0M478.8 154.7h4.0M482.7 143.1V152.9M480.7 143.1h4.0M480.7 152.9h4.0M484.6 147.8V157.7M482.6 147.8h4.0M482.6 157.7h4.0M486.5 142.4V152.3M484.5 142.4h4.0M484.5 152.3h4.0M488.4 143.6V153.6M486.4 143.6h4.0M486.4 153.6h4.0M490.3 142.5V152.5M488.3 142.5h4.0M488.3 152.5h4.0M492.2 140.5V150.7M490.2 140.5h4.0M490.2 150.7h4.0M494.1 139.1V149.3M492.1 139.1h4.0M492.1 149.3h4.0M496 146.9V157.2M494 146.9h4.0M494 157.2h4.0M497.9 140.2V150.5M495.9 140.2h4.0M495.9 150.5h4.0M499.8 138.5V148.9M497.8 138.5h4.0M497.8 148.9h4.0M501.7 144V154.4M499.7 144h4.0M499.7 154.4h4.0M503.6 140.7V151.2M501.6 140.7h4.0M501.6 151.2h4.0M505.5 138.9V149.4M503.5 138.9h4.0M503.5 149.4h4.0M507.4 136.6V147.2M505.4 136.6h4.0M505.4 147.2h4.0M509.3 136.9V147.5M507.3 136.9h4.0M507.3 147.5h4.0M511.2 136.4V147.1M509.2 136.4h4.0M509.2 147.1h4.0M513.1 132.9V143.7M511.1 132.9h4.0M511.1 143.7h4.0M515 133.4V144.3M513 133.4h4.0M513 144.3h4.0M516.9 133V144M514.9 133h4.0M514.9 144h4.0M518.8 135.2V146.1M516.8 135.2h4.0M516.8 146.1h4.0M520.7 133.3V144M518.7 133.3h4.0M518.7 144h4.0M522.6 139.7V150.1M520.6 139.7h4.0M520.6 150.1h4.0M524.5 139.5V149.9M522.5 139.5h4.0M522.5 149.9h4.0M526.4 138V148.5M524.4 138h4.0M524.4 148.5h4.0M528.3 140.3V150.9M526.3 140.3h4.0M526.3 150.9h4.0M530.2 136.4V147.1M528.2 136.4h4.0M528.2 147.1h4.0M532.1 131.5V142.3M530.1 131.5h4.0M530.1 142.3h4.0M534 137V147.8M532 137h4.0M532 147.8h4.0M535.9 131.8V142.5M533.9 131.8h4.0M533.9 142.5h4.0M537.8 140.3V150.8M535.8 140.3h4.0M535.8 150.8h4.0M539.7 139.1V149.5M537.7 139.1h4.0M537.7 149.5h4.0M541.6 138.8V149M539.6 138.8h4.0M539.6 149h4.0M543.5 134.4V144.7M541.5 134.4h4.0M541.5 144.7h4.0M545.4 139.8V150M543.4 139.8h4.0M543.4 150h4.0M547.3 141.9V152.1M545.3 141.9h4.0M545.3 152.1h4.0M549.2 139.1V149.3M547.2 139.1h4.0M547.2 149.3h4.0M551.1 142.8V153M549.1 142.8h4.0M549.1 153h4.0M553 138.3V148.5M551 138.3h4.0M551 148.5h4.0M554.9 145.6V155.8M552.9 145.6h4.0M552.9 155.8h4.0M556.8 142.2V152.3M554.8 142.2h4.0M554.8 152.3h4.0M558.7 144.6V154.6M556.7 144.6h4.0M556.7 154.6h4.0M560.6 148.2V158M558.6 148.2h4.0M558.6 158h4.0M562.5 147V156.7M560.5 147h4.0M560.5 156.7h4.0M564.4 146.7V156.2M562.4 146.7h4.0M562.4 156.2h4.0M566.3 147.9V157.3M564.3 147.9h4.0M564.3 157.3h4.0M568.2 152.3V161.8M566.2 152.3h4.0M566.2 161.8h4.0M570.1 151.7V161.1M568.1 151.7h4.0M568.1 161.1h4.0M572 151.6V160.9M570 151.6h4.0M570 160.9h4.0M573.9 155.1V164.3M571.9 155.1h4.0M571.9 164.3h4.0M575.8 154.6V163.6M573.8 154.6h4.0M573.8 163.6h4.0M577.7 154.8V163.8M575.7 154.8h4.0M575.7 163.8h4.0M579.6 157.3V166.2M577.6 157.3h4.0M577.6 166.2h4.0M581.5 159.2V168M579.5 159.2h4.0M579.5 168h4.0M583.4 155.2V164M581.4 155.2h4.0M581.4 164h4.0M585.3 158.6V167.4M583.3 158.6h4.0M583.3 167.4h4.0M587.2 156.2V164.9M585.2 156.2h4.0M585.2 164.9h4.0M589.1 156.8V165.5M587.1 156.8h4.0M587.1 165.5h4.0M591 156.7V165.4M589 156.7h4.0M589 165.4h4.0M592.9 157.9V166.5M590.9 157.9h4.0M590.9 166.5h4.0M594.8 162.2V170.7M592.8 162.2h4.0M592.8 170.7h4.0M596.7 157.6V166M594.7 157.6h4.0M594.7 166h4.0M598.6 162.3V170.8M596.6 162.3h4.0M596.6 170.8h4.0M600.5 161.3V169.7M598.5 161.3h4.0M598.5 169.7h4.0M602.4 164V172.2M600.4 164h4.0M600.4 172.2h4.0M604.3 165.6V173.7M602.3 165.6h4.0M602.3 173.7h4.0M606.2 168.7V176.6M604.2 168.7h4.0M604.2 176.6h4.0M608.1 168.8V176.7M606.1 168.8h4.0M606.1 176.7h4.0M610 168.5V176.3M608 168.5h4.0M608 176.3h4.0M611.9 165.8V173.5M609.9 165.8h4.0M609.9 173.5h4.0M613.8 169.5V176.8M611.8 169.5h4.0M611.8 176.8h4.0M615.7 171V178M613.7 171h4.0M613.7 178h4.0M617.6 178.2V184.8M615.6 178.2h4.0M615.6 184.8h4.0M619.5 180.1V186.4M617.5 180.1h4.0M617.5 186.4h4.0M621.4 179.8V186M619.4 179.8h4.0M619.4 186h4.0M623.3 178.9V185M621.3 178.9h4.0M621.3 185h4.0M625.2 181.9V187.7M623.2 181.9h4.0M623.2 187.7h4.0M627.1 183.9V189.2M625.1 183.9h4.0M625.1 189.2h4.0M629 187.4V192.3M627 187.4h4.0M627 192.3h4.0M630.9 188.9V193.4M628.9 188.9h4.0M628.9 193.4h4.0M632.8 190.5V194.9M630.8 190.5h4.0M630.8 194.9h4.0M634.7 189.7V194M632.7 189.7h4.0M632.7 194h4.0M636.6 188.5V192.7M634.6 188.5h4.0M634.6 192.7h4.0M638.5 190.1V194.2M636.5 190.1h4.0M636.5 194.2h4.0M640.4 191.1V195.1M638.4 191.1h4.0M638.4 195.1h4.0M642.3 191.9V195.7M640.3 191.9h4.0M640.3 195.7h4.0M644.2 192.6V196.2M642.2 192.6h4.0M642.2 196.2h4.0M646.1 194.3V197.6M644.1 194.3h4.0M644.1 197.6h4.0M648 195.1V198.1M646 195.1h4.0M646 198.1h4.0M649.9 193.6V196.5M647.9 193.6h4.0M647.9 196.5h4.0M651.8 194.1V196.9M649.8 194.1h4.0M649.8 196.9h4.0M653.7 194V196.9M651.7 194h4.0M651.7 196.9h4.0M655.6 194.7V197.5M653.6 194.7h4.0M653.6 197.5h4.0M657.5 193.7V196.5M655.5 193.7h4.0M655.5 196.5h4.0M659.4 194.1V196.8M657.4 194.1h4.0M657.4 196.8h4.0M661.3 193.5V196.2M659.3 193.5h4.0M659.3 196.2h4.0M663.2 193.4V196M661.2 193.4h4.0M661.2 196h4.0M665.1 194.4V197M663.1 194.4h4.0M663.1 197h4.0M667 193.6V196.1M665 193.6h4.0M665 196.1h4.0M668.9 194.8V197.3M666.9 194.8h4.0M666.9 197.3h4.0M670.8 195.5V197.9M668.8 195.5h4.0M668.8 197.9h4.0M672.7 194.8V197.1M670.7 194.8h4.0M670.7 197.1h4.0M674.6 195.1V197.2M672.6 195.1h4.0M672.6 197.2h4.0M676.5 194.9V196.7M674.5 194.9h4.0M674.5 196.7h4.0M678.4 194.4V196.2M676.4 194.4h4.0M676.4 196.2h4.0M680.3 195.5V197.3M678.3 195.5h4.0M678.3 197.3h4.0" stroke="#77AC30" stroke-width="1.7" fill="none"/>
<path d="M420.8 184.9a3.0 3.0 0 1 0 6.0 0a3.0 3.0 0 1 0 -6.0 0M422.7 183.9a3.0 3.0 0 1 0 6.0 0a3.0 3.0 0 1 0 -6.0 0M424.6 182.9a3.0 3.0 0 1 0 6.0 0a3.0 3.0 0 1 0 -6.0 0M426.5 185.1a3.0 3.0 0 1 0 6.0 0a3.0 3.0 0 1 0 -6.0 0M428.4 183.3a3.0 3.0 0 1 0 6.0 0a3.0 3.0 0 1 0 -6.0 0M430.3 181a3.0 3.0 0 1 0 6.0 0a3.0 3.0 0 1 0 -6.0 0M432.2 181.2a3.0 3.0 0 1 0 6.0 0a3.0 3.0 0 1 0 -6.0 0M434.1 180.9a3.0 3.0 0 1 0 6.0 0a3.0 3.0 0 1 0 -6.0 0M436 180.2a3.0 3.0 0 1 0 6.0 0a3.0 3.0 0 1 0 -6.0 0M437.9 178.5a3.0 3.0 0 1 0 6.0 0a3.0 3.0 0 1 0 -6.0 0M439.8 176.9a3.0 3.0 0 1 0 6.0 0a3.0 3.0 0 1 0 -6.0 0M441.7 173.9a3.0 3.0 0 1 0 6.0 0a3.0 3.0 0 1 0 -6.0 0M443.6 174.6a3.0 3.0 0 1 0 6.0 0a3.0 3.0 0 1 0 -6.0 0M445.5 173.3a3.0 3.0 0 1 0 6.0 0a3.0 3.0 0 1 0 -6.0 0M447.4 176.1a3.0 3.0 0 1 0 6.0 0a3.0 3.0 0 1 0 -6.0 0M449.3 173.4a3.0 3.0 0 1 0 6.0 0a3.0 3.0 0 1 0 -6.0 0M451.2 174.3a3.0 3.0 0 1 0 6.0 0a3.0 3.0 0 1 0 -6.0 0M453.1 171.4a3.0 3.0 0 1 0 6.0 0a3.0 3.0 0 1 0 -6.0 0M455 167.6a3.0 3.0 0 1 0 6.0 0a3.0 3.0 0 1 0 -6.0 0M456.9 165.5a3.0 3.0 0 1 0 6.0 0a3.0 3.0 0 1 0 -6.0 0M458.8 168a3.0 3.0 0 1 0 6.0 0a3.0 3.0 0 1 0 -6.0 0M460.7 164.1a3.0 3.0 0 1 0 6.0 0a3.0 3.0 0 1 0 -6.0 0M462.6 165.6a3.0 3.0 0 1 0 6.0 0a3.0 3.0 0 1 0 -6.0 0M464.5 162.6a3.0 3.0 0 1 0 6.0 0a3.0 3.0 0 1 0 -6.0 0M466.4 160.5a3.0 3.0 0 1 0 6.0 0a3.0 3.0 0 1 0 -6.0 0M468.3 156.9a3.0 3.0 0 1 0 6.0 0a3.0 3.0 0 1 0 -6.0 0M470.2 155.2a3.0 3.0 0 1 0 6.0 0a3.0 3.0 0 1 0 -6.0 0M472.1 159.7a3.0 3.0 0 1 0 6.0 0a3.0 3.0 0 1 0 -6.0 0M474 159.5a3.0 3.0 0 1 0 6.0 0a3.0 3.0 0 1 0 -6.0 0M475.9 153.6a3.0 3.0 0 1 0 6.0 0a3.0 3.0 0 1 0 -6.0 0M477.8 149.9a3.0 3.0 0 1 0 6.0 0a3.0 3.0 0 1 0 -6.0 0M479.7 148a3.0 3.0 0 1 0 6.0 0a3.0 3.0 0 1 0 -6.0 0M481.6 152.8a3.0 3.0 0 1 0 6.0 0a3.0 3.0 0 1 0 -6.0 0M483.5 147.3a3.0 3.0 0 1 0 6.0 0a3.0 3.0 0 1 0 -6.0 0M485.4 148.6a3.0 3.0 0 1 0 6.0 0a3.0 3.0 0 1 0 -6.0 0M487.3 147.5a3.0 3.0 0 1 0 6.0 0a3.0 3.0 0 1 0 -6.0 0M489.2 145.6a3.0 3.0 0 1 0 6.0 0a3.0 3.0 0 1 0 -6.0 0M491.1 144.2a3.0 3.0 0 1 0 6.0 0a3.0 3.0 0 1 0 -6.0 0M493 152a3.0 3.0 0 1 0 6.0 0a3.0 3.0 0 1 0 -6.0 0M494.9 145.4a3.0 3.0 0 1 0 6.0 0a3.0 3.0 0 1 0 -6.0 0M496.8 143.7a3.0 3.0 0 1 0 6.0 0a3.0 3.0 0 1 0 -6.0 0M498.7 149.2a3.0 3.0 0 1 0 6.0 0a3.0 3.0 0 1 0 -6.0 0M500.6 146a3.0 3.0 0 1 0 6.0 0a3.0 3.0 0 1 0 -6.0 0M502.5 144.2a3.0 3.0 0 1 0 6.0 0a3.0 3.0 0 1 0 -6.0 0M504.4 141.9a3.0 3.0 0 1 0 6.0 0a3.0 3.0 0 1 0 -6.0 0M506.3 142.2a3.0 3.0 0 1 0 6.0 0a3.0 3.0 0 1 0 -6.0 0M508.2 141.7a3.0 3.0 0 1 0 6.0 0a3.0 3.0 0 1 0 -6.0 0M510.1 138.3a3.0 3.0 0 1 0 6.0 0a3.0 3.0 0 1 0 -6.0 0M512 138.9a3.0 3.0 0 1 0 6.0 0a3.0 3.0 0 1 0 -6.0 0M513.9 138.5a3.0 3.0 0 1 0 6.0 0a3.0 3.0 0 1 0 -6.0 0M515.8 140.6a3.0 3.0 0 1 0 6.0 0a3.0 3.0 0 1 0 -6.0 0M517.7 138.6a3.0 3.0 0 1 0 6.0 0a3.0 3.0 0 1 0 -6.0 0M519.6 144.9a3.0 3.0 0 1 0 6.0 0a3.0 3.0 0 1 0 -6.0 0M521.5 144.7a3.0 3.0 0 1 0 6.0 0a3.0 3.0 0 1 0 -6.0 0M523.4 143.3a3.0 3.0 0 1 0 6.0 0a3.0 3.0 0 1 0 -6.0 0M525.3 145.6a3.0 3.0 0 1 0 6.0 0a3.0 3.0 0 1 0 -6.0 0M527.2 141.8a3.0 3.0 0 1 0 6.0 0a3.0 3.0 0 1 0 -6.0 0M529.1 136.9a3.0 3.0 0 1 0 6.0 0a3.0 3.0 0 1 0 -6.0 0M531 142.4a3.0 3.0 0 1 0 6.0 0a3.0 3.0 0 1 0 -6.0 0M532.9 137.2a3.0 3.0 0 1 0 6.0 0a3.0 3.0 0 1 0 -6.0 0M534.8 145.5a3.0 3.0 0 1 0 6.0 0a3.0 3.0 0 1 0 -6.0 0M536.7 144.3a3.0 3.0 0 1 0 6.0 0a3.0 3.0 0 1 0 -6.0 0M538.6 143.9a3.0 3.0 0 1 0 6.0 0a3.0 3.0 0 1 0 -6.0 0M540.5 139.6a3.0 3.0 0 1 0 6.0 0a3.0 3.0 0 1 0 -6.0 0M542.4 144.9a3.0 3.0 0 1 0 6.0 0a3.0 3.0 0 1 0 -6.0 0M544.3 147a3.0 3.0 0 1 0 6.0 0a3.0 3.0 0 1 0 -6.0 0M546.2 144.2a3.0 3.0 0 1 0 6.0 0a3.0 3.0 0 1 0 -6.0 0M548.1 147.9a3.0 3.0 0 1 0 6.0 0a3.0 3.0 0 1 0 -6.0 0M550 143.4a3.0 3.0 0 1 0 6.0 0a3.0 3.0 0 1 0 -6.0 0M551.9 150.7a3.0 3.0 0 1 0 6.0 0a3.0 3.0 0 1 0 -6.0 0M553.8 147.2a3.0 3.0 0 1 0 6.0 0a3.0 3.0 0 1 0 -6.0 0M555.7 149.6a3.0 3.0 0 1 0 6.0 0a3.0 3.0 0 1 0 -6.0 0M557.6 153.1a3.0 3.0 0 1 0 6.0 0a3.0 3.0 0 1 0 -6.0 0M559.5 151.8a3.0 3.0 0 1 0 6.0 0a3.0 3.0 0 1 0 -6.0 0M561.4 151.5a3.0 3.0 0 1 0 6.0 0a3.0 3.0 0 1 0 -6.0 0M563.3 152.6a3.0 3.0 0 1 0 6.0 0a3.0 3.0 0 1 0 -6.0 0M565.2 157.1a3.0 3.0 0 1 0 6.0 0a3.0 3.0 0 1 0 -6.0 0M567.1 156.4a3.0 3.0 0 1 0 6.0 0a3.0 3.0 0 1 0 -6.0 0M569 156.3a3.0 3.0 0 1 0 6.0 0a3.0 3.0 0 1 0 -6.0 0M570.9 159.7a3.0 3.0 0 1 0 6.0 0a3.0 3.0 0 1 0 -6.0 0M572.8 159.1a3.0 3.0 0 1 0 6.0 0a3.0 3.0 0 1 0 -6.0 0M574.7 159.3a3.0 3.0 0 1 0 6.0 0a3.0 3.0 0 1 0 -6.0 0M576.6 161.8a3.0 3.0 0 1 0 6.0 0a3.0 3.0 0 1 0 -6.0 0M578.5 163.6a3.0 3.0 0 1 0 6.0 0a3.0 3.0 0 1 0 -6.0 0M580.4 159.6a3.0 3.0 0 1 0 6.0 0a3.0 3.0 0 1 0 -6.0 0M582.3 163a3.0 3.0 0 1 0 6.0 0a3.0 3.0 0 1 0 -6.0 0M584.2 160.6a3.0 3.0 0 1 0 6.0 0a3.0 3.0 0 1 0 -6.0 0M586.1 161.1a3.0 3.0 0 1 0 6.0 0a3.0 3.0 0 1 0 -6.0 0M588 161.1a3.0 3.0 0 1 0 6.0 0a3.0 3.0 0 1 0 -6.0 0M589.9 162.2a3.0 3.0 0 1 0 6.0 0a3.0 3.0 0 1 0 -6.0 0M591.8 166.4a3.0 3.0 0 1 0 6.0 0a3.0 3.0 0 1 0 -6.0 0M593.7 161.8a3.0 3.0 0 1 0 6.0 0a3.0 3.0 0 1 0 -6.0 0M595.6 166.5a3.0 3.0 0 1 0 6.0 0a3.0 3.0 0 1 0 -6.0 0M597.5 165.5a3.0 3.0 0 1 0 6.0 0a3.0 3.0 0 1 0 -6.0 0M599.4 168.1a3.0 3.0 0 1 0 6.0 0a3.0 3.0 0 1 0 -6.0 0M601.3 169.7a3.0 3.0 0 1 0 6.0 0a3.0 3.0 0 1 0 -6.0 0M603.2 172.7a3.0 3.0 0 1 0 6.0 0a3.0 3.0 0 1 0 -6.0 0M605.1 172.8a3.0 3.0 0 1 0 6.0 0a3.0 3.0 0 1 0 -6.0 0M607 172.4a3.0 3.0 0 1 0 6.0 0a3.0 3.0 0 1 0 -6.0 0M608.9 169.7a3.0 3.0 0 1 0 6.0 0a3.0 3.0 0 1 0 -6.0 0M610.8 173.1a3.0 3.0 0 1 0 6.0 0a3.0 3.0 0 1 0 -6.0 0M612.7 174.5a3.0 3.0 0 1 0 6.0 0a3.0 3.0 0 1 0 -6.0 0M614.6 181.5a3.0 3.0 0 1 0 6.0 0a3.0 3.0 0 1 0 -6.0 0M616.5 183.3a3.0 3.0 0 1 0 6.0 0a3.0 3.0 0 1 0 -6.0 0M618.4 182.9a3.0 3.0 0 1 0 6.0 0a3.0 3.0 0 1 0 -6.0 0M620.3 181.9a3.0 3.0 0 1 0 6.0 0a3.0 3.0 0 1 0 -6.0 0M622.2 184.8a3.0 3.0 0 1 0 6.0 0a3.0 3.0 0 1 0 -6.0 0M624.1 186.6a3.0 3.0 0 1 0 6.0 0a3.0 3.0 0 1 0 -6.0 0M626 189.9a3.0 3.0 0 1 0 6.0 0a3.0 3.0 0 1 0 -6.0 0M627.9 191.1a3.0 3.0 0 1 0 6.0 0a3.0 3.0 0 1 0 -6.0 0M629.8 192.7a3.0 3.0 0 1 0 6.0 0a3.0 3.0 0 1 0 -6.0 0M631.7 191.9a3.0 3.0 0 1 0 6.0 0a3.0 3.0 0 1 0 -6.0 0M633.6 190.6a3.0 3.0 0 1 0 6.0 0a3.0 3.0 0 1 0 -6.0 0M635.5 192.1a3.0 3.0 0 1 0 6.0 0a3.0 3.0 0 1 0 -6.0 0M637.4 193.1a3.0 3.0 0 1 0 6.0 0a3.0 3.0 0 1 0 -6.0 0M639.3 193.8a3.0 3.0 0 1 0 6.0 0a3.0 3.0 0 1 0 -6.0 0M641.2 194.4a3.0 3.0 0 1 0 6.0 0a3.0 3.0 0 1 0 -6.0 0M643.1 195.9a3.0 3.0 0 1 0 6.0 0a3.0 3.0 0 1 0 -6.0 0M645 196.6a3.0 3.0 0 1 0 6.0 0a3.0 3.0 0 1 0 -6.0 0M646.9 195.1a3.0 3.0 0 1 0 6.0 0a3.0 3.0 0 1 0 -6.0 0M648.8 195.5a3.0 3.0 0 1 0 6.0 0a3.0 3.0 0 1 0 -6.0 0M650.7 195.4a3.0 3.0 0 1 0 6.0 0a3.0 3.0 0 1 0 -6.0 0M652.6 196.1a3.0 3.0 0 1 0 6.0 0a3.0 3.0 0 1 0 -6.0 0M654.5 195.1a3.0 3.0 0 1 0 6.0 0a3.0 3.0 0 1 0 -6.0 0M656.4 195.4a3.0 3.0 0 1 0 6.0 0a3.0 3.0 0 1 0 -6.0 0M658.3 194.8a3.0 3.0 0 1 0 6.0 0a3.0 3.0 0 1 0 -6.0 0M660.2 194.7a3.0 3.0 0 1 0 6.0 0a3.0 3.0 0 1 0 -6.0 0M662.1 195.7a3.0 3.0 0 1 0 6.0 0a3.0 3.0 0 1 0 -6.0 0M664 194.8a3.0 3.0 0 1 0 6.0 0a3.0 3.0 0 1 0 -6.0 0M665.9 196.1a3.0 3.0 0 1 0 6.0 0a3.0 3.0 0 1 0 -6.0 0M667.8 196.7a3.0 3.0 0 1 0 6.0 0a3.0 3.0 0 1 0 -6.0 0M669.7 195.9a3.0 3.0 0 1 0 6.0 0a3.0 3.0 0 1 0 -6.0 0M671.6 196.1a3.0 3.0 0 1 0 6.0 0a3.0 3.0 0 1 0 -6.0 0M673.5 195.8a3.0 3.0 0 1 0 6.0 0a3.0 3.0 0 1 0 -6.0 0M675.4 195.3a3.0 3.0 0 1 0 6.0 0a3.0 3.0 0 1 0 -6.0 0M677.3 196.4a3.0 3.0 0 1 0 6.0 0a3.0 3.0 0 1 0 -6.0 0" fill="#77AC30"/>
<path d="M423.8 251.9V257.7M421.8 251.9h4.0M421.8 257.7h4.0M425.7 252.1V258M423.7 252.1h4.0M423.7 258h4.0M427.6 251.2V257.4M425.6 251.2h4.0M425.6 257.4h4.0M429.5 250.6V257M427.5 250.6h4.0M427.5 257h4.0M431.4 251.1V257.6M429.4 251.1h4.0M429.4 257.6h4.0M433.3 247.8V254.4M431.3 247.8h4.0M431.3 254.4h4.0M435.2 247.9V254.5M433.2 247.9h4.0M433.2 254.5h4.0M437.1 244.9V251.5M435.1 244.9h4.0M435.1 251.5h4.0M439 247.5V254.2M437 247.5h4.0M437 254.2h4.0M440.9 243.4V250.3M438.9 243.4h4.0M438.9 250.3h4.0M442.8 241.8V248.9M440.8 241.8h4.0M440.8 248.9h4.0M444.7 243.1V250.4M442.7 243.1h4.0M442.7 250.4h4.0M446.6 240.9V248.4M444.6 240.9h4.0M444.6 248.4h4.0M448.5 238.3V245.9M446.5 238.3h4.0M446.5 245.9h4.0M450.4 239.5V247.2M448.4 239.5h4.0M448.4 247.2h4.0M452.3 235.9V243.6M450.3 235.9h4.0M450.3 243.6h4.0M454.2 240V247.7M452.2 240h4.0M452.2 247.7h4.0M456.1 235.2V243.1M454.1 235.2h4.0M454.1 243.1h4.0M458 233.2V241.2M456 233.2h4.0M456 241.2h4.0M459.9 235.4V243.6M457.9 235.4h4.0M457.9 243.6h4.0M461.8 232.2V240.5M459.8 232.2h4.0M459.8 240.5h4.0M463.7 231.4V239.9M461.7 231.4h4.0M461.7 239.9h4.0M465.6 229.9V238.4M463.6 229.9h4.0M463.6 238.4h4.0M467.5 229.7V238.2M465.5 229.7h4.0M465.5 238.2h4.0M469.4 228.4V237.1M467.4 228.4h4.0M467.4 237.1h4.0M471.3 230.7V239.5M469.3 230.7h4.0M469.3 239.5h4.0M473.2 220.5V229.5M471.2 220.5h4.0M471.2 229.5h4.0M475.1 229.9V239M473.1 229.9h4.0M473.1 239h4.0M477 217.9V227.2M475 217.9h4.0M475 227.2h4.0M478.9 216.1V225.5M476.9 216.1h4.0M476.9 225.5h4.0M480.8 220.7V230.2M478.8 220.7h4.0M478.8 230.2h4.0M482.7 222.6V232.1M480.7 222.6h4.0M480.7 232.1h4.0M484.6 219V228.6M482.6 219h4.0M482.6 228.6h4.0M486.5 218.5V228.3M484.5 218.5h4.0M484.5 228.3h4.0M488.4 213.5V223.4M486.4 213.5h4.0M486.4 223.4h4.0M490.3 213.2V223.2M488.3 213.2h4.0M488.3 223.2h4.0M492.2 215.7V225.9M490.2 215.7h4.0M490.2 225.9h4.0M494.1 212.4V222.6M492.1 212.4h4.0M492.1 222.6h4.0M496 202.4V212.7M494 202.4h4.0M494 212.7h4.0M497.9 209.2V219.5M495.9 209.2h4.0M495.9 219.5h4.0M499.8 209V219.4M497.8 209h4.0M497.8 219.4h4.0M501.7 209.6V220M499.7 209.6h4.0M499.7 220h4.0M503.6 213.6V224.1M501.6 213.6h4.0M501.6 224.1h4.0M505.5 210.4V220.9M503.5 210.4h4.0M503.5 220.9h4.0M507.4 207.1V217.6M505.4 207.1h4.0M505.4 217.6h4.0M509.3 208V218.5M507.3 208h4.0M507.3 218.5h4.0M511.2 208.2V218.7M509.2 208.2h4.0M509.2 218.7h4.0M513.1 210V220.3M511.1 210h4.0M511.1 220.3h4.0M515 209.3V219.6M513 209.3h4.0M513 219.6h4.0M516.9 212.1V222.4M514.9 212.1h4.0M514.9 222.4h4.0M518.8 208.9V219.1M516.8 208.9h4.0M516.8 219.1h4.0M520.7 215.4V225.6M518.7 215.4h4.0M518.7 225.6h4.0M522.6 217.7V227.9M520.6 217.7h4.0M520.6 227.9h4.0M524.5 212.8V222.9M522.5 212.8h4.0M522.5 222.9h4.0M526.4 211.6V221.7M524.4 211.6h4.0M524.4 221.7h4.0M528.3 215.5V225.6M526.3 215.5h4.0M526.3 225.6h4.0M530.2 210.5V220.5M528.2 210.5h4.0M528.2 220.5h4.0M532.1 215.3V225.2M530.1 215.3h4.0M530.1 225.2h4.0M534 220.1V230M532 220.1h4.0M532 230h4.0M535.9 216.1V225.9M533.9 216.1h4.0M533.9 225.9h4.0M537.8 215.1V225M535.8 215.1h4.0M535.8 225h4.0M539.7 215.5V225.4M537.7 215.5h4.0M537.7 225.4h4.0M541.6 216.7V226.5M539.6 216.7h4.0M539.6 226.5h4.0M543.5 218.3V228M541.5 218.3h4.0M541.5 228h4.0M545.4 217.8V227.4M543.4 217.8h4.0M543.4 227.4h4.0M547.3 220.4V229.9M545.3 220.4h4.0M545.3 229.9h4.0M549.2 220.9V230.4M547.2 220.9h4.0M547.2 230.4h4.0M551.1 218.3V227.8M549.1 218.3h4.0M549.1 227.8h4.0M553 220.6V230.1M551 220.6h4.0M551 230.1h4.0M554.9 219.7V229.1M552.9 219.7h4.0M552.9 229.1h4.0M556.8 222.3V231.7M554.8 222.3h4.0M554.8 231.7h4.0M558.7 219.8V229.1M556.7 219.8h4.0M556.7 229.1h4.0M560.6 222.2V231.5M558.6 222.2h4.0M558.6 231.5h4.0M562.5 221.6V230.8M560.5 221.6h4.0M560.5 230.8h4.0M564.4 224.4V233.5M562.4 224.4h4.0M562.4 233.5h4.0M566.3 223.4V232.5M564.3 223.4h4.0M564.3 232.5h4.0M568.2 224.8V234M566.2 224.8h4.0M566.2 234h4.0M570.1 223.1V232.2M568.1 223.1h4.0M568.1 232.2h4.0M572 223.2V232.3M570 223.2h4.0M570 232.3h4.0M573.9 227.5V236.5M571.9 227.5h4.0M571.9 236.5h4.0M575.8 227.8V236.7M573.8 227.8h4.0M573.8 236.7h4.0M577.7 228.2V237M575.7 228.2h4.0M575.7 237h4.0M579.6 227.2V236M577.6 227.2h4.0M577.6 236h4.0M581.5 227.4V236.1M579.5 227.4h4.0M579.5 236.1h4.0M583.4 227.1V235.9M581.4 227.1h4.0M581.4 235.9h4.0M585.3 231.9V240.5M583.3 231.9h4.0M583.3 240.5h4.0M587.2 232.8V241.4M585.2 232.8h4.0M585.2 241.4h4.0M589.1 234.1V242.5M587.1 234.1h4.0M587.1 242.5h4.0M591 233.9V242.1M589 233.9h4.0M589 242.1h4.0M592.9 236.7V244.8M590.9 236.7h4.0M590.9 244.8h4.0M594.8 234.4V242.4M592.8 234.4h4.0M592.8 242.4h4.0M596.7 238.5V246.4M594.7 238.5h4.0M594.7 246.4h4.0M598.6 234.3V242.2M596.6 234.3h4.0M596.6 242.2h4.0M600.5 236.6V244.4M598.5 236.6h4.0M598.5 244.4h4.0M602.4 238V245.7M600.4 238h4.0M600.4 245.7h4.0M604.3 240.4V247.9M602.3 240.4h4.0M602.3 247.9h4.0M606.2 243.2V250.6M604.2 243.2h4.0M604.2 250.6h4.0M608.1 244V251.1M606.1 244h4.0M606.1 251.1h4.0M610 243.4V250.4M608 243.4h4.0M608 250.4h4.0M611.9 247.4V254.3M609.9 247.4h4.0M609.9 254.3h4.0M613.8 246.1V253M611.8 246.1h4.0M611.8 253h4.0M615.7 246.4V253.2M613.7 246.4h4.0M613.7 253.2h4.0M617.6 247.3V253.8M615.6 247.3h4.0M615.6 253.8h4.0M619.5 249.2V255.4M617.5 249.2h4.0M617.5 255.4h4.0M621.4 251V256.9M619.4 251h4.0M619.4 256.9h4.0M623.3 254.9V260.6M621.3 254.9h4.0M621.3 260.6h4.0M625.2 253.1V258.8M623.2 253.1h4.0M623.2 258.8h4.0M627.1 252.7V258.3M625.1 252.7h4.0M625.1 258.3h4.0M629 254.8V260.4M627 254.8h4.0M627 260.4h4.0M630.9 255.7V261.1M628.9 255.7h4.0M628.9 261.1h4.0M632.8 255.5V260.8M630.8 255.5h4.0M630.8 260.8h4.0M634.7 255.6V260.7M632.7 255.6h4.0M632.7 260.7h4.0M636.6 258.9V263.8M634.6 258.9h4.0M634.6 263.8h4.0M638.5 259.7V264.3M636.5 259.7h4.0M636.5 264.3h4.0M640.4 257.2V261.7M638.4 257.2h4.0M638.4 261.7h4.0M642.3 258.8V263.2M640.3 258.8h4.0M640.3 263.2h4.0M644.2 262V266.3M642.2 262h4.0M642.2 266.3h4.0M646.1 259.1V263.5M644.1 259.1h4.0M644.1 263.5h4.0M648 258.3V262.7M646 258.3h4.0M646 262.7h4.0M649.9 260.7V265M647.9 260.7h4.0M647.9 265h4.0M651.8 259.8V264.1M649.8 259.8h4.0M649.8 264.1h4.0M653.7 261V265.2M651.7 261h4.0M651.7 265.2h4.0M655.6 258.4V262.7M653.6 258.4h4.0M653.6 262.7h4.0M657.5 261.7V265.9M655.5 261.7h4.0M655.5 265.9h4.0M659.4 261V265.2M657.4 261h4.0M657.4 265.2h4.0M661.3 260.2V264.3M659.3 260.2h4.0M659.3 264.3h4.0M663.2 260.2V264.3M661.2 260.2h4.0M661.2 264.3h4.0M665.1 261.6V265.6M663.1 261.6h4.0M663.1 265.6h4.0M667 260.4V264.4M665 260.4h4.0M665 264.4h4.0M668.9 261.9V265.9M666.9 261.9h4.0M666.9 265.9h4.0M670.8 260.8V264.8M668.8 260.8h4.0M668.8 264.8h4.0M672.7 261.8V265.7M670.7 261.8h4.0M670.7 265.7h4.0M674.6 260.1V264M672.6 260.1h4.0M672.6 264h4.0M676.5 261.1V264.9M674.5 261.1h4.0M674.5 264.9h4.0M678.4 260.2V264M676.4 260.2h4.0M676.4 264h4.0M680.3 261.5V265.3M678.3 261.5h4.0M678.3 265.3h4.0" stroke="#5A9FB2" stroke-width="1.7" fill="none"/>
<path d="M420.8 254.8a3.0 3.0 0 1 0 6.0 0a3.0 3.0 0 1 0 -6.0 0M422.7 255a3.0 3.0 0 1 0 6.0 0a3.0 3.0 0 1 0 -6.0 0M424.6 254.3a3.0 3.0 0 1 0 6.0 0a3.0 3.0 0 1 0 -6.0 0M426.5 253.8a3.0 3.0 0 1 0 6.0 0a3.0 3.0 0 1 0 -6.0 0M428.4 254.4a3.0 3.0 0 1 0 6.0 0a3.0 3.0 0 1 0 -6.0 0M430.3 251.1a3.0 3.0 0 1 0 6.0 0a3.0 3.0 0 1 0 -6.0 0M432.2 251.2a3.0 3.0 0 1 0 6.0 0a3.0 3.0 0 1 0 -6.0 0M434.1 248.2a3.0 3.0 0 1 0 6.0 0a3.0 3.0 0 1 0 -6.0 0M436 250.9a3.0 3.0 0 1 0 6.0 0a3.0 3.0 0 1 0 -6.0 0M437.9 246.8a3.0 3.0 0 1 0 6.0 0a3.0 3.0 0 1 0 -6.0 0M439.8 245.3a3.0 3.0 0 1 0 6.0 0a3.0 3.0 0 1 0 -6.0 0M441.7 246.7a3.0 3.0 0 1 0 6.0 0a3.0 3.0 0 1 0 -6.0 0M443.6 244.6a3.0 3.0 0 1 0 6.0 0a3.0 3.0 0 1 0 -6.0 0M445.5 242.1a3.0 3.0 0 1 0 6.0 0a3.0 3.0 0 1 0 -6.0 0M447.4 243.3a3.0 3.0 0 1 0 6.0 0a3.0 3.0 0 1 0 -6.0 0M449.3 239.7a3.0 3.0 0 1 0 6.0 0a3.0 3.0 0 1 0 -6.0 0M451.2 243.8a3.0 3.0 0 1 0 6.0 0a3.0 3.0 0 1 0 -6.0 0M453.1 239.1a3.0 3.0 0 1 0 6.0 0a3.0 3.0 0 1 0 -6.0 0M455 237.2a3.0 3.0 0 1 0 6.0 0a3.0 3.0 0 1 0 -6.0 0M456.9 239.5a3.0 3.0 0 1 0 6.0 0a3.0 3.0 0 1 0 -6.0 0M458.8 236.3a3.0 3.0 0 1 0 6.0 0a3.0 3.0 0 1 0 -6.0 0M460.7 235.6a3.0 3.0 0 1 0 6.0 0a3.0 3.0 0 1 0 -6.0 0M462.6 234.1a3.0 3.0 0 1 0 6.0 0a3.0 3.0 0 1 0 -6.0 0M464.5 234a3.0 3.0 0 1 0 6.0 0a3.0 3.0 0 1 0 -6.0 0M466.4 232.7a3.0 3.0 0 1 0 6.0 0a3.0 3.0 0 1 0 -6.0 0M468.3 235.1a3.0 3.0 0 1 0 6.0 0a3.0 3.0 0 1 0 -6.0 0M470.2 225a3.0 3.0 0 1 0 6.0 0a3.0 3.0 0 1 0 -6.0 0M472.1 234.5a3.0 3.0 0 1 0 6.0 0a3.0 3.0 0 1 0 -6.0 0M474 222.5a3.0 3.0 0 1 0 6.0 0a3.0 3.0 0 1 0 -6.0 0M475.9 220.8a3.0 3.0 0 1 0 6.0 0a3.0 3.0 0 1 0 -6.0 0M477.8 225.4a3.0 3.0 0 1 0 6.0 0a3.0 3.0 0 1 0 -6.0 0M479.7 227.3a3.0 3.0 0 1 0 6.0 0a3.0 3.0 0 1 0 -6.0 0M481.6 223.8a3.0 3.0 0 1 0 6.0 0a3.0 3.0 0 1 0 -6.0 0M483.5 223.4a3.0 3.0 0 1 0 6.0 0a3.0 3.0 0 1 0 -6.0 0M485.4 218.4a3.0 3.0 0 1 0 6.0 0a3.0 3.0 0 1 0 -6.0 0M487.3 218.2a3.0 3.0 0 1 0 6.0 0a3.0 3.0 0 1 0 -6.0 0M489.2 220.8a3.0 3.0 0 1 0 6.0 0a3.0 3.0 0 1 0 -6.0 0M491.1 217.5a3.0 3.0 0 1 0 6.0 0a3.0 3.0 0 1 0 -6.0 0M493 207.5a3.0 3.0 0 1 0 6.0 0a3.0 3.0 0 1 0 -6.0 0M494.9 214.3a3.0 3.0 0 1 0 6.0 0a3.0 3.0 0 1 0 -6.0 0M496.8 214.2a3.0 3.0 0 1 0 6.0 0a3.0 3.0 0 1 0 -6.0 0M498.7 214.8a3.0 3.0 0 1 0 6.0 0a3.0 3.0 0 1 0 -6.0 0M500.6 218.8a3.0 3.0 0 1 0 6.0 0a3.0 3.0 0 1 0 -6.0 0M502.5 215.7a3.0 3.0 0 1 0 6.0 0a3.0 3.0 0 1 0 -6.0 0M504.4 212.3a3.0 3.0 0 1 0 6.0 0a3.0 3.0 0 1 0 -6.0 0M506.3 213.3a3.0 3.0 0 1 0 6.0 0a3.0 3.0 0 1 0 -6.0 0M508.2 213.4a3.0 3.0 0 1 0 6.0 0a3.0 3.0 0 1 0 -6.0 0M510.1 215.1a3.0 3.0 0 1 0 6.0 0a3.0 3.0 0 1 0 -6.0 0M512 214.5a3.0 3.0 0 1 0 6.0 0a3.0 3.0 0 1 0 -6.0 0M513.9 217.2a3.0 3.0 0 1 0 6.0 0a3.0 3.0 0 1 0 -6.0 0M515.8 214a3.0 3.0 0 1 0 6.0 0a3.0 3.0 0 1 0 -6.0 0M517.7 220.5a3.0 3.0 0 1 0 6.0 0a3.0 3.0 0 1 0 -6.0 0M519.6 222.8a3.0 3.0 0 1 0 6.0 0a3.0 3.0 0 1 0 -6.0 0M521.5 217.8a3.0 3.0 0 1 0 6.0 0a3.0 3.0 0 1 0 -6.0 0M523.4 216.7a3.0 3.0 0 1 0 6.0 0a3.0 3.0 0 1 0 -6.0 0M525.3 220.6a3.0 3.0 0 1 0 6.0 0a3.0 3.0 0 1 0 -6.0 0M527.2 215.5a3.0 3.0 0 1 0 6.0 0a3.0 3.0 0 1 0 -6.0 0M529.1 220.2a3.0 3.0 0 1 0 6.0 0a3.0 3.0 0 1 0 -6.0 0M531 225.1a3.0 3.0 0 1 0 6.0 0a3.0 3.0 0 1 0 -6.0 0M532.9 221a3.0 3.0 0 1 0 6.0 0a3.0 3.0 0 1 0 -6.0 0M534.8 220a3.0 3.0 0 1 0 6.0 0a3.0 3.0 0 1 0 -6.0 0M536.7 220.4a3.0 3.0 0 1 0 6.0 0a3.0 3.0 0 1 0 -6.0 0M538.6 221.6a3.0 3.0 0 1 0 6.0 0a3.0 3.0 0 1 0 -6.0 0M540.5 223.2a3.0 3.0 0 1 0 6.0 0a3.0 3.0 0 1 0 -6.0 0M542.4 222.6a3.0 3.0 0 1 0 6.0 0a3.0 3.0 0 1 0 -6.0 0M544.3 225.2a3.0 3.0 0 1 0 6.0 0a3.0 3.0 0 1 0 -6.0 0M546.2 225.6a3.0 3.0 0 1 0 6.0 0a3.0 3.0 0 1 0 -6.0 0M548.1 223a3.0 3.0 0 1 0 6.0 0a3.0 3.0 0 1 0 -6.0 0M550 225.3a3.0 3.0 0 1 0 6.0 0a3.0 3.0 0 1 0 -6.0 0M551.9 224.4a3.0 3.0 0 1 0 6.0 0a3.0 3.0 0 1 0 -6.0 0M553.8 227a3.0 3.0 0 1 0 6.0 0a3.0 3.0 0 1 0 -6.0 0M555.7 224.4a3.0 3.0 0 1 0 6.0 0a3.0 3.0 0 1 0 -6.0 0M557.6 226.8a3.0 3.0 0 1 0 6.0 0a3.0 3.0 0 1 0 -6.0 0M559.5 226.2a3.0 3.0 0 1 0 6.0 0a3.0 3.0 0 1 0 -6.0 0M561.4 229a3.0 3.0 0 1 0 6.0 0a3.0 3.0 0 1 0 -6.0 0M563.3 227.9a3.0 3.0 0 1 0 6.0 0a3.0 3.0 0 1 0 -6.0 0M565.2 229.4a3.0 3.0 0 1 0 6.0 0a3.0 3.0 0 1 0 -6.0 0M567.1 227.6a3.0 3.0 0 1 0 6.0 0a3.0 3.0 0 1 0 -6.0 0M569 227.8a3.0 3.0 0 1 0 6.0 0a3.0 3.0 0 1 0 -6.0 0M570.9 232a3.0 3.0 0 1 0 6.0 0a3.0 3.0 0 1 0 -6.0 0M572.8 232.3a3.0 3.0 0 1 0 6.0 0a3.0 3.0 0 1 0 -6.0 0M574.7 232.6a3.0 3.0 0 1 0 6.0 0a3.0 3.0 0 1 0 -6.0 0M576.6 231.6a3.0 3.0 0 1 0 6.0 0a3.0 3.0 0 1 0 -6.0 0M578.5 231.8a3.0 3.0 0 1 0 6.0 0a3.0 3.0 0 1 0 -6.0 0M580.4 231.5a3.0 3.0 0 1 0 6.0 0a3.0 3.0 0 1 0 -6.0 0M582.3 236.2a3.0 3.0 0 1 0 6.0 0a3.0 3.0 0 1 0 -6.0 0M584.2 237.1a3.0 3.0 0 1 0 6.0 0a3.0 3.0 0 1 0 -6.0 0M586.1 238.3a3.0 3.0 0 1 0 6.0 0a3.0 3.0 0 1 0 -6.0 0M588 238a3.0 3.0 0 1 0 6.0 0a3.0 3.0 0 1 0 -6.0 0M589.9 240.7a3.0 3.0 0 1 0 6.0 0a3.0 3.0 0 1 0 -6.0 0M591.8 238.4a3.0 3.0 0 1 0 6.0 0a3.0 3.0 0 1 0 -6.0 0M593.7 242.5a3.0 3.0 0 1 0 6.0 0a3.0 3.0 0 1 0 -6.0 0M595.6 238.2a3.0 3.0 0 1 0 6.0 0a3.0 3.0 0 1 0 -6.0 0M597.5 240.5a3.0 3.0 0 1 0 6.0 0a3.0 3.0 0 1 0 -6.0 0M599.4 241.8a3.0 3.0 0 1 0 6.0 0a3.0 3.0 0 1 0 -6.0 0M601.3 244.2a3.0 3.0 0 1 0 6.0 0a3.0 3.0 0 1 0 -6.0 0M603.2 246.9a3.0 3.0 0 1 0 6.0 0a3.0 3.0 0 1 0 -6.0 0M605.1 247.5a3.0 3.0 0 1 0 6.0 0a3.0 3.0 0 1 0 -6.0 0M607 246.9a3.0 3.0 0 1 0 6.0 0a3.0 3.0 0 1 0 -6.0 0M608.9 250.9a3.0 3.0 0 1 0 6.0 0a3.0 3.0 0 1 0 -6.0 0M610.8 249.5a3.0 3.0 0 1 0 6.0 0a3.0 3.0 0 1 0 -6.0 0M612.7 249.8a3.0 3.0 0 1 0 6.0 0a3.0 3.0 0 1 0 -6.0 0M614.6 250.5a3.0 3.0 0 1 0 6.0 0a3.0 3.0 0 1 0 -6.0 0M616.5 252.3a3.0 3.0 0 1 0 6.0 0a3.0 3.0 0 1 0 -6.0 0M618.4 253.9a3.0 3.0 0 1 0 6.0 0a3.0 3.0 0 1 0 -6.0 0M620.3 257.8a3.0 3.0 0 1 0 6.0 0a3.0 3.0 0 1 0 -6.0 0M622.2 256a3.0 3.0 0 1 0 6.0 0a3.0 3.0 0 1 0 -6.0 0M624.1 255.5a3.0 3.0 0 1 0 6.0 0a3.0 3.0 0 1 0 -6.0 0M626 257.6a3.0 3.0 0 1 0 6.0 0a3.0 3.0 0 1 0 -6.0 0M627.9 258.4a3.0 3.0 0 1 0 6.0 0a3.0 3.0 0 1 0 -6.0 0M629.8 258.2a3.0 3.0 0 1 0 6.0 0a3.0 3.0 0 1 0 -6.0 0M631.7 258.1a3.0 3.0 0 1 0 6.0 0a3.0 3.0 0 1 0 -6.0 0M633.6 261.3a3.0 3.0 0 1 0 6.0 0a3.0 3.0 0 1 0 -6.0 0M635.5 262a3.0 3.0 0 1 0 6.0 0a3.0 3.0 0 1 0 -6.0 0M637.4 259.5a3.0 3.0 0 1 0 6.0 0a3.0 3.0 0 1 0 -6.0 0M639.3 261a3.0 3.0 0 1 0 6.0 0a3.0 3.0 0 1 0 -6.0 0M641.2 264.1a3.0 3.0 0 1 0 6.0 0a3.0 3.0 0 1 0 -6.0 0M643.1 261.3a3.0 3.0 0 1 0 6.0 0a3.0 3.0 0 1 0 -6.0 0M645 260.5a3.0 3.0 0 1 0 6.0 0a3.0 3.0 0 1 0 -6.0 0M646.9 262.8a3.0 3.0 0 1 0 6.0 0a3.0 3.0 0 1 0 -6.0 0M648.8 261.9a3.0 3.0 0 1 0 6.0 0a3.0 3.0 0 1 0 -6.0 0M650.7 263.1a3.0 3.0 0 1 0 6.0 0a3.0 3.0 0 1 0 -6.0 0M652.6 260.5a3.0 3.0 0 1 0 6.0 0a3.0 3.0 0 1 0 -6.0 0M654.5 263.8a3.0 3.0 0 1 0 6.0 0a3.0 3.0 0 1 0 -6.0 0M656.4 263.1a3.0 3.0 0 1 0 6.0 0a3.0 3.0 0 1 0 -6.0 0M658.3 262.2a3.0 3.0 0 1 0 6.0 0a3.0 3.0 0 1 0 -6.0 0M660.2 262.2a3.0 3.0 0 1 0 6.0 0a3.0 3.0 0 1 0 -6.0 0M662.1 263.6a3.0 3.0 0 1 0 6.0 0a3.0 3.0 0 1 0 -6.0 0M664 262.4a3.0 3.0 0 1 0 6.0 0a3.0 3.0 0 1 0 -6.0 0M665.9 263.9a3.0 3.0 0 1 0 6.0 0a3.0 3.0 0 1 0 -6.0 0M667.8 262.8a3.0 3.0 0 1 0 6.0 0a3.0 3.0 0 1 0 -6.0 0M669.7 263.8a3.0 3.0 0 1 0 6.0 0a3.0 3.0 0 1 0 -6.0 0M671.6 262a3.0 3.0 0 1 0 6.0 0a3.0 3.0 0 1 0 -6.0 0M673.5 263a3.0 3.0 0 1 0 6.0 0a3.0 3.0 0 1 0 -6.0 0M675.4 262.1a3.0 3.0 0 1 0 6.0 0a3.0 3.0 0 1 0 -6.0 0M677.3 263.4a3.0 3.0 0 1 0 6.0 0a3.0 3.0 0 1 0 -6.0 0" fill="#5A9FB2"/>
<line x1="424.8" y1="125.5" x2="681" y2="125.5" stroke="#c8c8c8" stroke-width="2.4" stroke-dasharray="9.2 9.4"/>
<line x1="424.8" y1="196" x2="681" y2="196" stroke="#c8c8c8" stroke-width="2.4" stroke-dasharray="9.2 9.4"/>
<path d="M623.6 22.3L649.8 37.5L649.8 67.8L623.6 82.9L597.4 67.8L597.4 37.5Z" fill="none" stroke="#231f20" stroke-width="1.6" stroke-linejoin="miter"/>
<line x1="642" y1="42.9" x2="654.9" y2="35.6" stroke="#231f20" stroke-width="1.2"/>
<path d="M661 32.2L656.4 38.2L653.4 33Z" fill="#231f20"/>
<text transform="translate(652.31 50.61) scale(1.0234 1)" font-size="21.18" fill="#231f20" stroke="#231f20" stroke-width="0.2"><tspan font-family='"Liberation Sans"' font-weight="bold">q</tspan></text>
<text transform="translate(665.45 44.26) scale(0.9404 1)" font-size="13.39" fill="#231f20" stroke="#231f20" stroke-width="0.1"><tspan font-family='"Liberation Sans"'>*</tspan></text>
<line x1="424.8" y1="202.4" x2="433.3" y2="202.4" stroke="#000" stroke-width="2.5"/>
<line x1="672.5" y1="202.4" x2="681" y2="202.4" stroke="#000" stroke-width="2.5"/>
<line x1="424.8" y1="138.3" x2="433.3" y2="138.3" stroke="#000" stroke-width="2.5"/>
<line x1="672.5" y1="138.3" x2="681" y2="138.3" stroke="#000" stroke-width="2.5"/>
<line x1="424.8" y1="74.3" x2="433.3" y2="74.3" stroke="#000" stroke-width="2.5"/>
<line x1="672.5" y1="74.3" x2="681" y2="74.3" stroke="#000" stroke-width="2.5"/>
<line x1="459" y1="10.2" x2="459" y2="18.7" stroke="#000" stroke-width="2.5"/>
<line x1="459" y1="266.5" x2="459" y2="258" stroke="#000" stroke-width="2.5"/>
<line x1="510.4" y1="10.2" x2="510.4" y2="18.7" stroke="#000" stroke-width="2.5"/>
<line x1="510.4" y1="266.5" x2="510.4" y2="258" stroke="#000" stroke-width="2.5"/>
<line x1="561.7" y1="10.2" x2="561.7" y2="18.7" stroke="#000" stroke-width="2.5"/>
<line x1="561.7" y1="266.5" x2="561.7" y2="258" stroke="#000" stroke-width="2.5"/>
<line x1="613.1" y1="10.2" x2="613.1" y2="18.7" stroke="#000" stroke-width="2.5"/>
<line x1="613.1" y1="266.5" x2="613.1" y2="258" stroke="#000" stroke-width="2.5"/>
<line x1="664.4" y1="10.2" x2="664.4" y2="18.7" stroke="#000" stroke-width="2.5"/>
<line x1="664.4" y1="266.5" x2="664.4" y2="258" stroke="#000" stroke-width="2.5"/>
<rect x="424.8" y="10.2" width="256.2" height="256.3" fill="none" stroke="#000" stroke-width="2.5"/>
<text transform="translate(408.99 272.32) scale(0.9887 1)" font-size="23.30" fill="#231f20" stroke="#231f20" stroke-width="0.20">0</text>
<text transform="translate(383.36 208.25) scale(0.9887 1)" font-size="23.30" fill="#231f20" stroke="#231f20" stroke-width="0.20">200</text>
<text transform="translate(383.36 144.17) scale(0.9887 1)" font-size="23.30" fill="#231f20" stroke="#231f20" stroke-width="0.20">400</text>
<text transform="translate(383.36 80.10) scale(0.9887 1)" font-size="23.30" fill="#231f20" stroke="#231f20" stroke-width="0.20">600</text>
<text transform="translate(383.36 16.02) scale(0.9887 1)" font-size="23.30" fill="#231f20" stroke="#231f20" stroke-width="0.20">800</text>
<text transform="translate(441.50 290.12) scale(0.9887 1)" font-size="23.30" fill="#231f20" stroke="#231f20" stroke-width="0.20">-0.1</text>
<text transform="translate(489.01 290.12) scale(0.9887 1)" font-size="23.30" fill="#231f20" stroke="#231f20" stroke-width="0.20">-0.05</text>
<text transform="translate(555.59 290.12) scale(0.9887 1)" font-size="23.30" fill="#231f20" stroke="#231f20" stroke-width="0.20">0</text>
<text transform="translate(593.81 290.12) scale(0.9887 1)" font-size="23.30" fill="#231f20" stroke="#231f20" stroke-width="0.20">0.05</text>
<text transform="translate(649.10 290.12) scale(0.9887 1)" font-size="23.30" fill="#231f20" stroke="#231f20" stroke-width="0.20">0.1</text>
<text transform="translate(376.36 225.45) rotate(-90) scale(1.1132 1)" font-size="20.92" fill="#231f20" stroke="#231f20" stroke-width="0.2"><tspan font-family='"Liberation Sans"'>Intensity (arb. units)</tspan></text>
<text transform="translate(494.23 317.61) scale(0.9726 1)" font-size="22.65" fill="#231f20" stroke="#231f20" stroke-width="0.2"><tspan font-family='"Liberation Sans"'>(⅓+</tspan><tspan font-family='"Liberation Serif"' font-style="italic">h</tspan><tspan font-family='"Liberation Sans"'>,⅓+</tspan><tspan font-family='"Liberation Serif"' font-style="italic">h</tspan><tspan font-family='"Liberation Sans"'>,6½)</tspan></text>
<text transform="translate(433.34 43.63) scale(1.0349 1)" font-size="20.02" fill="#000" stroke="#000" stroke-width="0"><tspan font-family='"Liberation Sans"'>(b)</tspan></text>
<text transform="translate(642.80 110.30) scale(0.9398 1)" font-size="20.34" fill="#231f20" stroke="#231f20" stroke-width="0.2"><tspan font-family='"Liberation Sans"'>94K</tspan></text>
<text transform="translate(632.24 178.40) scale(0.9213 1)" font-size="20.76" fill="#231f20" stroke="#231f20" stroke-width="0.2"><tspan font-family='"Liberation Sans"'>108K</tspan></text>
<text transform="translate(632.24 248.61) scale(0.9813 1)" font-size="19.49" fill="#231f20" stroke="#231f20" stroke-width="0.2"><tspan font-family='"Liberation Sans"'>110K</tspan></text>
<path d="M424.3 458.1V463.9M422.3 458.1h4.0M422.3 463.9h4.0M426.2 460.2V466.2M424.2 460.2h4.0M424.2 466.2h4.0M428.1 457.6V463.8M426.1 457.6h4.0M426.1 463.8h4.0M430 451.1V457.5M428 451.1h4.0M428 457.5h4.0M431.9 454.8V461.3M429.9 454.8h4.0M429.9 461.3h4.0M433.8 458.8V465.4M431.8 458.8h4.0M431.8 465.4h4.0M435.7 451.2V457.8M433.7 451.2h4.0M433.7 457.8h4.0M437.6 452.7V459.4M435.6 452.7h4.0M435.6 459.4h4.0M439.5 455.5V462.3M437.5 455.5h4.0M437.5 462.3h4.0M441.4 455.7V462.7M439.4 455.7h4.0M439.4 462.7h4.0M443.3 452.6V459.8M441.3 452.6h4.0M441.3 459.8h4.0M445.2 449.1V456.4M443.2 449.1h4.0M443.2 456.4h4.0M447.1 446V453.5M445.1 446h4.0M445.1 453.5h4.0M449 444.2V451.8M447 444.2h4.0M447 451.8h4.0M450.9 443V450.7M448.9 443h4.0M448.9 450.7h4.0M452.8 443.9V451.6M450.8 443.9h4.0M450.8 451.6h4.0M454.7 445.4V453.2M452.7 445.4h4.0M452.7 453.2h4.0M456.6 444.1V452M454.6 444.1h4.0M454.6 452h4.0M458.5 440.1V448M456.5 440.1h4.0M456.5 448h4.0M460.4 439.4V447.4M458.4 439.4h4.0M458.4 447.4h4.0M462.3 442.6V450.7M460.3 442.6h4.0M460.3 450.7h4.0M464.2 444.5V452.6M462.2 444.5h4.0M462.2 452.6h4.0M466.1 436.7V444.8M464.1 436.7h4.0M464.1 444.8h4.0M468 430.6V438.8M466 430.6h4.0M466 438.8h4.0M469.9 445V453.3M467.9 445h4.0M467.9 453.3h4.0M471.8 434.9V443.3M469.8 434.9h4.0M469.8 443.3h4.0M473.7 433.2V441.6M471.7 433.2h4.0M471.7 441.6h4.0M475.6 439.1V447.5M473.6 439.1h4.0M473.6 447.5h4.0M477.5 434.5V443M475.5 434.5h4.0M475.5 443h4.0M479.4 434.7V443.4M477.4 434.7h4.0M477.4 443.4h4.0M481.3 428.6V437.5M479.3 428.6h4.0M479.3 437.5h4.0M483.2 427.2V436.3M481.2 427.2h4.0M481.2 436.3h4.0M485.1 423.9V433M483.1 423.9h4.0M483.1 433h4.0M487 425.8V434.9M485 425.8h4.0M485 434.9h4.0M488.9 426.4V435.6M486.9 426.4h4.0M486.9 435.6h4.0M490.8 425.1V434.2M488.8 425.1h4.0M488.8 434.2h4.0M492.7 426.5V435.6M490.7 426.5h4.0M490.7 435.6h4.0M494.6 426.3V435.4M492.6 426.3h4.0M492.6 435.4h4.0M496.5 426.6V435.7M494.5 426.6h4.0M494.5 435.7h4.0M498.4 426.5V435.5M496.4 426.5h4.0M496.4 435.5h4.0M500.3 426.4V435.5M498.3 426.4h4.0M498.3 435.5h4.0M502.2 430.3V439.4M500.2 430.3h4.0M500.2 439.4h4.0M504.1 428.2V437.4M502.1 428.2h4.0M502.1 437.4h4.0M506 425.4V434.6M504 425.4h4.0M504 434.6h4.0M507.9 427.4V436.6M505.9 427.4h4.0M505.9 436.6h4.0M509.8 425.8V435M507.8 425.8h4.0M507.8 435h4.0M511.7 424.9V434.2M509.7 424.9h4.0M509.7 434.2h4.0M513.6 418.2V427.5M511.6 418.2h4.0M511.6 427.5h4.0M515.5 417.3V426.6M513.5 417.3h4.0M513.5 426.6h4.0M517.4 417.8V427.1M515.4 417.8h4.0M515.4 427.1h4.0M519.3 426.9V436.2M517.3 426.9h4.0M517.3 436.2h4.0M521.2 424.7V434M519.2 424.7h4.0M519.2 434h4.0M523.1 423.1V432.3M521.1 423.1h4.0M521.1 432.3h4.0M525 423.1V432.3M523 423.1h4.0M523 432.3h4.0M526.9 423.4V432.6M524.9 423.4h4.0M524.9 432.6h4.0M528.8 423.6V432.9M526.8 423.6h4.0M526.8 432.9h4.0M530.7 427V436.2M528.7 427h4.0M528.7 436.2h4.0M532.6 428.1V437.3M530.6 428.1h4.0M530.6 437.3h4.0M534.5 429.6V438.7M532.5 429.6h4.0M532.5 438.7h4.0M536.4 424.7V433.9M534.4 424.7h4.0M534.4 433.9h4.0M538.3 426.5V435.7M536.3 426.5h4.0M536.3 435.7h4.0M540.2 428.3V437.5M538.2 428.3h4.0M538.2 437.5h4.0M542.1 425V434.2M540.1 425h4.0M540.1 434.2h4.0M544 423.7V432.9M542 423.7h4.0M542 432.9h4.0M545.9 425.2V434.4M543.9 425.2h4.0M543.9 434.4h4.0M547.8 428.1V437.4M545.8 428.1h4.0M545.8 437.4h4.0M549.7 419.4V428.6M547.7 419.4h4.0M547.7 428.6h4.0M551.6 419.2V428.5M549.6 419.2h4.0M549.6 428.5h4.0M553.5 420.4V429.7M551.5 420.4h4.0M551.5 429.7h4.0M555.4 426.2V435.5M553.4 426.2h4.0M553.4 435.5h4.0M557.3 421.4V430.7M555.3 421.4h4.0M555.3 430.7h4.0M559.2 422.4V431.7M557.2 422.4h4.0M557.2 431.7h4.0M561.1 422.9V432.3M559.1 422.9h4.0M559.1 432.3h4.0M563 422.8V432.2M561 422.8h4.0M561 432.2h4.0M564.9 424.6V434M562.9 424.6h4.0M562.9 434h4.0M566.8 415.5V424.9M564.8 415.5h4.0M564.8 424.9h4.0M568.7 422.3V431.8M566.7 422.3h4.0M566.7 431.8h4.0M570.6 418V427.5M568.6 418h4.0M568.6 427.5h4.0M572.5 417.7V427.3M570.5 417.7h4.0M570.5 427.3h4.0M574.4 427.4V437M572.4 427.4h4.0M572.4 437h4.0M576.3 418.9V428.5M574.3 418.9h4.0M574.3 428.5h4.0M578.2 418.8V428.4M576.2 418.8h4.0M576.2 428.4h4.0M580.1 418.1V427.7M578.1 418.1h4.0M578.1 427.7h4.0M582 422V431.5M580 422h4.0M580 431.5h4.0M583.9 420.3V429.9M581.9 420.3h4.0M581.9 429.9h4.0M585.8 420.1V429.6M583.8 420.1h4.0M583.8 429.6h4.0M587.7 420.7V430.2M585.7 420.7h4.0M585.7 430.2h4.0M589.6 418.1V427.5M587.6 418.1h4.0M587.6 427.5h4.0M591.5 423.2V432.6M589.5 423.2h4.0M589.5 432.6h4.0M593.4 424.6V433.9M591.4 424.6h4.0M591.4 433.9h4.0M595.3 426.1V435.4M593.3 426.1h4.0M593.3 435.4h4.0M597.2 428.5V437.8M595.2 428.5h4.0M595.2 437.8h4.0M599.1 416.5V425.8M597.1 416.5h4.0M597.1 425.8h4.0M601 431.7V440.9M599 431.7h4.0M599 440.9h4.0M602.9 426.4V435.7M600.9 426.4h4.0M600.9 435.7h4.0M604.8 429.1V438.3M602.8 429.1h4.0M602.8 438.3h4.0M606.7 421.5V430.7M604.7 421.5h4.0M604.7 430.7h4.0M608.6 426.8V435.9M606.6 426.8h4.0M606.6 435.9h4.0M610.5 422.4V431.5M608.5 422.4h4.0M608.5 431.5h4.0M612.4 423.5V432.6M610.4 423.5h4.0M610.4 432.6h4.0M614.3 430.9V440M612.3 430.9h4.0M612.3 440h4.0M616.2 422.8V431.8M614.2 422.8h4.0M614.2 431.8h4.0M618.1 427.9V436.9M616.1 427.9h4.0M616.1 436.9h4.0M620 424.9V433.9M618 424.9h4.0M618 433.9h4.0M621.9 432.3V441.3M619.9 432.3h4.0M619.9 441.3h4.0M623.8 428.2V437.1M621.8 428.2h4.0M621.8 437.1h4.0M625.7 428.9V437.9M623.7 428.9h4.0M623.7 437.9h4.0M627.6 426.9V435.8M625.6 426.9h4.0M625.6 435.8h4.0M629.5 429.3V438.2M627.5 429.3h4.0M627.5 438.2h4.0M631.4 431.6V440.4M629.4 431.6h4.0M629.4 440.4h4.0M633.3 430.1V438.9M631.3 430.1h4.0M631.3 438.9h4.0M635.2 431.2V440M633.2 431.2h4.0M633.2 440h4.0M637.1 434.3V443.2M635.1 434.3h4.0M635.1 443.2h4.0M639 429.4V438.2M637 429.4h4.0M637 438.2h4.0M640.9 433.7V442.4M638.9 433.7h4.0M638.9 442.4h4.0M642.8 430.6V439.3M640.8 430.6h4.0M640.8 439.3h4.0M644.7 435.1V443.7M642.7 435.1h4.0M642.7 443.7h4.0M646.6 430V438.6M644.6 430h4.0M644.6 438.6h4.0M648.5 432.1V440.6M646.5 432.1h4.0M646.5 440.6h4.0M650.4 432.5V441M648.4 432.5h4.0M648.4 441h4.0M652.3 431.9V440.4M650.3 431.9h4.0M650.3 440.4h4.0M654.2 436.3V444.8M652.2 436.3h4.0M652.2 444.8h4.0M656.1 435.4V443.9M654.1 435.4h4.0M654.1 443.9h4.0M658 437.6V446M656 437.6h4.0M656 446h4.0M659.9 441.5V449.8M657.9 441.5h4.0M657.9 449.8h4.0M661.8 439V447.2M659.8 439h4.0M659.8 447.2h4.0M663.7 435.2V443.4M661.7 435.2h4.0M661.7 443.4h4.0M665.6 442.5V450.6M663.6 442.5h4.0M663.6 450.6h4.0M667.5 443.1V451.2M665.5 443.1h4.0M665.5 451.2h4.0M669.4 436.1V444.1M667.4 436.1h4.0M667.4 444.1h4.0M671.3 438.9V446.9M669.3 438.9h4.0M669.3 446.9h4.0M673.2 440.8V448.8M671.2 440.8h4.0M671.2 448.8h4.0M675.1 440.6V448.5M673.1 440.6h4.0M673.1 448.5h4.0M677 439.9V447.7M675 439.9h4.0M675 447.7h4.0M678.9 441.4V449.1M676.9 441.4h4.0M676.9 449.1h4.0M680.8 449.8V457.4M678.8 449.8h4.0M678.8 457.4h4.0" stroke="#7E2F8E" stroke-width="1.7" fill="none"/>
<path d="M421.3 461a3.0 3.0 0 1 0 6.0 0a3.0 3.0 0 1 0 -6.0 0M423.2 463.2a3.0 3.0 0 1 0 6.0 0a3.0 3.0 0 1 0 -6.0 0M425.1 460.7a3.0 3.0 0 1 0 6.0 0a3.0 3.0 0 1 0 -6.0 0M427 454.3a3.0 3.0 0 1 0 6.0 0a3.0 3.0 0 1 0 -6.0 0M428.9 458a3.0 3.0 0 1 0 6.0 0a3.0 3.0 0 1 0 -6.0 0M430.8 462.1a3.0 3.0 0 1 0 6.0 0a3.0 3.0 0 1 0 -6.0 0M432.7 454.5a3.0 3.0 0 1 0 6.0 0a3.0 3.0 0 1 0 -6.0 0M434.6 456a3.0 3.0 0 1 0 6.0 0a3.0 3.0 0 1 0 -6.0 0M436.5 458.9a3.0 3.0 0 1 0 6.0 0a3.0 3.0 0 1 0 -6.0 0M438.4 459.2a3.0 3.0 0 1 0 6.0 0a3.0 3.0 0 1 0 -6.0 0M440.3 456.2a3.0 3.0 0 1 0 6.0 0a3.0 3.0 0 1 0 -6.0 0M442.2 452.8a3.0 3.0 0 1 0 6.0 0a3.0 3.0 0 1 0 -6.0 0M444.1 449.7a3.0 3.0 0 1 0 6.0 0a3.0 3.0 0 1 0 -6.0 0M446 448a3.0 3.0 0 1 0 6.0 0a3.0 3.0 0 1 0 -6.0 0M447.9 446.8a3.0 3.0 0 1 0 6.0 0a3.0 3.0 0 1 0 -6.0 0M449.8 447.7a3.0 3.0 0 1 0 6.0 0a3.0 3.0 0 1 0 -6.0 0M451.7 449.3a3.0 3.0 0 1 0 6.0 0a3.0 3.0 0 1 0 -6.0 0M453.6 448.1a3.0 3.0 0 1 0 6.0 0a3.0 3.0 0 1 0 -6.0 0M455.5 444.1a3.0 3.0 0 1 0 6.0 0a3.0 3.0 0 1 0 -6.0 0M457.4 443.4a3.0 3.0 0 1 0 6.0 0a3.0 3.0 0 1 0 -6.0 0M459.3 446.6a3.0 3.0 0 1 0 6.0 0a3.0 3.0 0 1 0 -6.0 0M461.2 448.5a3.0 3.0 0 1 0 6.0 0a3.0 3.0 0 1 0 -6.0 0M463.1 440.8a3.0 3.0 0 1 0 6.0 0a3.0 3.0 0 1 0 -6.0 0M465 434.7a3.0 3.0 0 1 0 6.0 0a3.0 3.0 0 1 0 -6.0 0M466.9 449.2a3.0 3.0 0 1 0 6.0 0a3.0 3.0 0 1 0 -6.0 0M468.8 439.1a3.0 3.0 0 1 0 6.0 0a3.0 3.0 0 1 0 -6.0 0M470.7 437.4a3.0 3.0 0 1 0 6.0 0a3.0 3.0 0 1 0 -6.0 0M472.6 443.3a3.0 3.0 0 1 0 6.0 0a3.0 3.0 0 1 0 -6.0 0M474.5 438.8a3.0 3.0 0 1 0 6.0 0a3.0 3.0 0 1 0 -6.0 0M476.4 439.1a3.0 3.0 0 1 0 6.0 0a3.0 3.0 0 1 0 -6.0 0M478.3 433a3.0 3.0 0 1 0 6.0 0a3.0 3.0 0 1 0 -6.0 0M480.2 431.8a3.0 3.0 0 1 0 6.0 0a3.0 3.0 0 1 0 -6.0 0M482.1 428.5a3.0 3.0 0 1 0 6.0 0a3.0 3.0 0 1 0 -6.0 0M484 430.4a3.0 3.0 0 1 0 6.0 0a3.0 3.0 0 1 0 -6.0 0M485.9 431a3.0 3.0 0 1 0 6.0 0a3.0 3.0 0 1 0 -6.0 0M487.8 429.6a3.0 3.0 0 1 0 6.0 0a3.0 3.0 0 1 0 -6.0 0M489.7 431.1a3.0 3.0 0 1 0 6.0 0a3.0 3.0 0 1 0 -6.0 0M491.6 430.8a3.0 3.0 0 1 0 6.0 0a3.0 3.0 0 1 0 -6.0 0M493.5 431.1a3.0 3.0 0 1 0 6.0 0a3.0 3.0 0 1 0 -6.0 0M495.4 431a3.0 3.0 0 1 0 6.0 0a3.0 3.0 0 1 0 -6.0 0M497.3 430.9a3.0 3.0 0 1 0 6.0 0a3.0 3.0 0 1 0 -6.0 0M499.2 434.8a3.0 3.0 0 1 0 6.0 0a3.0 3.0 0 1 0 -6.0 0M501.1 432.8a3.0 3.0 0 1 0 6.0 0a3.0 3.0 0 1 0 -6.0 0M503 430a3.0 3.0 0 1 0 6.0 0a3.0 3.0 0 1 0 -6.0 0M504.9 432a3.0 3.0 0 1 0 6.0 0a3.0 3.0 0 1 0 -6.0 0M506.8 430.4a3.0 3.0 0 1 0 6.0 0a3.0 3.0 0 1 0 -6.0 0M508.7 429.6a3.0 3.0 0 1 0 6.0 0a3.0 3.0 0 1 0 -6.0 0M510.6 422.8a3.0 3.0 0 1 0 6.0 0a3.0 3.0 0 1 0 -6.0 0M512.5 422a3.0 3.0 0 1 0 6.0 0a3.0 3.0 0 1 0 -6.0 0M514.4 422.5a3.0 3.0 0 1 0 6.0 0a3.0 3.0 0 1 0 -6.0 0M516.3 431.6a3.0 3.0 0 1 0 6.0 0a3.0 3.0 0 1 0 -6.0 0M518.2 429.4a3.0 3.0 0 1 0 6.0 0a3.0 3.0 0 1 0 -6.0 0M520.1 427.7a3.0 3.0 0 1 0 6.0 0a3.0 3.0 0 1 0 -6.0 0M522 427.7a3.0 3.0 0 1 0 6.0 0a3.0 3.0 0 1 0 -6.0 0M523.9 428a3.0 3.0 0 1 0 6.0 0a3.0 3.0 0 1 0 -6.0 0M525.8 428.2a3.0 3.0 0 1 0 6.0 0a3.0 3.0 0 1 0 -6.0 0M527.7 431.6a3.0 3.0 0 1 0 6.0 0a3.0 3.0 0 1 0 -6.0 0M529.6 432.7a3.0 3.0 0 1 0 6.0 0a3.0 3.0 0 1 0 -6.0 0M531.5 434.1a3.0 3.0 0 1 0 6.0 0a3.0 3.0 0 1 0 -6.0 0M533.4 429.3a3.0 3.0 0 1 0 6.0 0a3.0 3.0 0 1 0 -6.0 0M535.3 431.1a3.0 3.0 0 1 0 6.0 0a3.0 3.0 0 1 0 -6.0 0M537.2 432.9a3.0 3.0 0 1 0 6.0 0a3.0 3.0 0 1 0 -6.0 0M539.1 429.6a3.0 3.0 0 1 0 6.0 0a3.0 3.0 0 1 0 -6.0 0M541 428.3a3.0 3.0 0 1 0 6.0 0a3.0 3.0 0 1 0 -6.0 0M542.9 429.8a3.0 3.0 0 1 0 6.0 0a3.0 3.0 0 1 0 -6.0 0M544.8 432.7a3.0 3.0 0 1 0 6.0 0a3.0 3.0 0 1 0 -6.0 0M546.7 424a3.0 3.0 0 1 0 6.0 0a3.0 3.0 0 1 0 -6.0 0M548.6 423.8a3.0 3.0 0 1 0 6.0 0a3.0 3.0 0 1 0 -6.0 0M550.5 425a3.0 3.0 0 1 0 6.0 0a3.0 3.0 0 1 0 -6.0 0M552.4 430.8a3.0 3.0 0 1 0 6.0 0a3.0 3.0 0 1 0 -6.0 0M554.3 426a3.0 3.0 0 1 0 6.0 0a3.0 3.0 0 1 0 -6.0 0M556.2 427a3.0 3.0 0 1 0 6.0 0a3.0 3.0 0 1 0 -6.0 0M558.1 427.6a3.0 3.0 0 1 0 6.0 0a3.0 3.0 0 1 0 -6.0 0M560 427.5a3.0 3.0 0 1 0 6.0 0a3.0 3.0 0 1 0 -6.0 0M561.9 429.3a3.0 3.0 0 1 0 6.0 0a3.0 3.0 0 1 0 -6.0 0M563.8 420.2a3.0 3.0 0 1 0 6.0 0a3.0 3.0 0 1 0 -6.0 0M565.7 427.1a3.0 3.0 0 1 0 6.0 0a3.0 3.0 0 1 0 -6.0 0M567.6 422.7a3.0 3.0 0 1 0 6.0 0a3.0 3.0 0 1 0 -6.0 0M569.5 422.5a3.0 3.0 0 1 0 6.0 0a3.0 3.0 0 1 0 -6.0 0M571.4 432.2a3.0 3.0 0 1 0 6.0 0a3.0 3.0 0 1 0 -6.0 0M573.3 423.7a3.0 3.0 0 1 0 6.0 0a3.0 3.0 0 1 0 -6.0 0M575.2 423.6a3.0 3.0 0 1 0 6.0 0a3.0 3.0 0 1 0 -6.0 0M577.1 422.9a3.0 3.0 0 1 0 6.0 0a3.0 3.0 0 1 0 -6.0 0M579 426.8a3.0 3.0 0 1 0 6.0 0a3.0 3.0 0 1 0 -6.0 0M580.9 425.1a3.0 3.0 0 1 0 6.0 0a3.0 3.0 0 1 0 -6.0 0M582.8 424.9a3.0 3.0 0 1 0 6.0 0a3.0 3.0 0 1 0 -6.0 0M584.7 425.5a3.0 3.0 0 1 0 6.0 0a3.0 3.0 0 1 0 -6.0 0M586.6 422.8a3.0 3.0 0 1 0 6.0 0a3.0 3.0 0 1 0 -6.0 0M588.5 427.9a3.0 3.0 0 1 0 6.0 0a3.0 3.0 0 1 0 -6.0 0M590.4 429.3a3.0 3.0 0 1 0 6.0 0a3.0 3.0 0 1 0 -6.0 0M592.3 430.8a3.0 3.0 0 1 0 6.0 0a3.0 3.0 0 1 0 -6.0 0M594.2 433.2a3.0 3.0 0 1 0 6.0 0a3.0 3.0 0 1 0 -6.0 0M596.1 421.2a3.0 3.0 0 1 0 6.0 0a3.0 3.0 0 1 0 -6.0 0M598 436.3a3.0 3.0 0 1 0 6.0 0a3.0 3.0 0 1 0 -6.0 0M599.9 431.1a3.0 3.0 0 1 0 6.0 0a3.0 3.0 0 1 0 -6.0 0M601.8 433.7a3.0 3.0 0 1 0 6.0 0a3.0 3.0 0 1 0 -6.0 0M603.7 426.1a3.0 3.0 0 1 0 6.0 0a3.0 3.0 0 1 0 -6.0 0M605.6 431.3a3.0 3.0 0 1 0 6.0 0a3.0 3.0 0 1 0 -6.0 0M607.5 426.9a3.0 3.0 0 1 0 6.0 0a3.0 3.0 0 1 0 -6.0 0M609.4 428.1a3.0 3.0 0 1 0 6.0 0a3.0 3.0 0 1 0 -6.0 0M611.3 435.4a3.0 3.0 0 1 0 6.0 0a3.0 3.0 0 1 0 -6.0 0M613.2 427.3a3.0 3.0 0 1 0 6.0 0a3.0 3.0 0 1 0 -6.0 0M615.1 432.4a3.0 3.0 0 1 0 6.0 0a3.0 3.0 0 1 0 -6.0 0M617 429.4a3.0 3.0 0 1 0 6.0 0a3.0 3.0 0 1 0 -6.0 0M618.9 436.8a3.0 3.0 0 1 0 6.0 0a3.0 3.0 0 1 0 -6.0 0M620.8 432.6a3.0 3.0 0 1 0 6.0 0a3.0 3.0 0 1 0 -6.0 0M622.7 433.4a3.0 3.0 0 1 0 6.0 0a3.0 3.0 0 1 0 -6.0 0M624.6 431.4a3.0 3.0 0 1 0 6.0 0a3.0 3.0 0 1 0 -6.0 0M626.5 433.7a3.0 3.0 0 1 0 6.0 0a3.0 3.0 0 1 0 -6.0 0M628.4 436a3.0 3.0 0 1 0 6.0 0a3.0 3.0 0 1 0 -6.0 0M630.3 434.5a3.0 3.0 0 1 0 6.0 0a3.0 3.0 0 1 0 -6.0 0M632.2 435.6a3.0 3.0 0 1 0 6.0 0a3.0 3.0 0 1 0 -6.0 0M634.1 438.7a3.0 3.0 0 1 0 6.0 0a3.0 3.0 0 1 0 -6.0 0M636 433.8a3.0 3.0 0 1 0 6.0 0a3.0 3.0 0 1 0 -6.0 0M637.9 438.1a3.0 3.0 0 1 0 6.0 0a3.0 3.0 0 1 0 -6.0 0M639.8 435a3.0 3.0 0 1 0 6.0 0a3.0 3.0 0 1 0 -6.0 0M641.7 439.4a3.0 3.0 0 1 0 6.0 0a3.0 3.0 0 1 0 -6.0 0M643.6 434.3a3.0 3.0 0 1 0 6.0 0a3.0 3.0 0 1 0 -6.0 0M645.5 436.4a3.0 3.0 0 1 0 6.0 0a3.0 3.0 0 1 0 -6.0 0M647.4 436.8a3.0 3.0 0 1 0 6.0 0a3.0 3.0 0 1 0 -6.0 0M649.3 436.2a3.0 3.0 0 1 0 6.0 0a3.0 3.0 0 1 0 -6.0 0M651.2 440.5a3.0 3.0 0 1 0 6.0 0a3.0 3.0 0 1 0 -6.0 0M653.1 439.6a3.0 3.0 0 1 0 6.0 0a3.0 3.0 0 1 0 -6.0 0M655 441.8a3.0 3.0 0 1 0 6.0 0a3.0 3.0 0 1 0 -6.0 0M656.9 445.6a3.0 3.0 0 1 0 6.0 0a3.0 3.0 0 1 0 -6.0 0M658.8 443.1a3.0 3.0 0 1 0 6.0 0a3.0 3.0 0 1 0 -6.0 0M660.7 439.3a3.0 3.0 0 1 0 6.0 0a3.0 3.0 0 1 0 -6.0 0M662.6 446.6a3.0 3.0 0 1 0 6.0 0a3.0 3.0 0 1 0 -6.0 0M664.5 447.2a3.0 3.0 0 1 0 6.0 0a3.0 3.0 0 1 0 -6.0 0M666.4 440.1a3.0 3.0 0 1 0 6.0 0a3.0 3.0 0 1 0 -6.0 0M668.3 442.9a3.0 3.0 0 1 0 6.0 0a3.0 3.0 0 1 0 -6.0 0M670.2 444.8a3.0 3.0 0 1 0 6.0 0a3.0 3.0 0 1 0 -6.0 0M672.1 444.5a3.0 3.0 0 1 0 6.0 0a3.0 3.0 0 1 0 -6.0 0M674 443.8a3.0 3.0 0 1 0 6.0 0a3.0 3.0 0 1 0 -6.0 0M675.9 445.2a3.0 3.0 0 1 0 6.0 0a3.0 3.0 0 1 0 -6.0 0M677.8 453.6a3.0 3.0 0 1 0 6.0 0a3.0 3.0 0 1 0 -6.0 0" fill="#7E2F8E"/>
<path d="M424.3 514.7V520.9M422.3 514.7h4.0M422.3 520.9h4.0M426.2 512.6V518.8M424.2 512.6h4.0M424.2 518.8h4.0M428.1 511.7V518.1M426.1 511.7h4.0M426.1 518.1h4.0M430 514.5V520.9M428 514.5h4.0M428 520.9h4.0M431.9 513.8V520.3M429.9 513.8h4.0M429.9 520.3h4.0M433.8 509.9V516.5M431.8 509.9h4.0M431.8 516.5h4.0M435.7 510.9V517.4M433.7 510.9h4.0M433.7 517.4h4.0M437.6 510.4V517M435.6 510.4h4.0M435.6 517h4.0M439.5 511V517.7M437.5 511h4.0M437.5 517.7h4.0M441.4 508.6V515.4M439.4 508.6h4.0M439.4 515.4h4.0M443.3 511.6V518.5M441.3 511.6h4.0M441.3 518.5h4.0M445.2 505.2V512.2M443.2 505.2h4.0M443.2 512.2h4.0M447.1 504.9V512M445.1 504.9h4.0M445.1 512h4.0M449 507.7V514.9M447 507.7h4.0M447 514.9h4.0M450.9 507V514.2M448.9 507h4.0M448.9 514.2h4.0M452.8 505V512.2M450.8 505h4.0M450.8 512.2h4.0M454.7 502.2V509.5M452.7 502.2h4.0M452.7 509.5h4.0M456.6 505V512.3M454.6 505h4.0M454.6 512.3h4.0M458.5 501.9V509.4M456.5 501.9h4.0M456.5 509.4h4.0M460.4 498.8V506.4M458.4 498.8h4.0M458.4 506.4h4.0M462.3 497.2V504.9M460.3 497.2h4.0M460.3 504.9h4.0M464.2 493.9V501.6M462.2 493.9h4.0M462.2 501.6h4.0M466.1 498.4V506.2M464.1 498.4h4.0M464.1 506.2h4.0M468 500.3V508.1M466 500.3h4.0M466 508.1h4.0M469.9 496.9V504.8M467.9 496.9h4.0M467.9 504.8h4.0M471.8 497.4V505.4M469.8 497.4h4.0M469.8 505.4h4.0M473.7 491.1V499.2M471.7 491.1h4.0M471.7 499.2h4.0M475.6 490.6V498.9M473.6 490.6h4.0M473.6 498.9h4.0M477.5 496.2V504.5M475.5 496.2h4.0M475.5 504.5h4.0M479.4 491.5V500M477.4 491.5h4.0M477.4 500h4.0M481.3 484.7V493.2M479.3 484.7h4.0M479.3 493.2h4.0M483.2 489.6V498.1M481.2 489.6h4.0M481.2 498.1h4.0M485.1 491.7V500.2M483.1 491.7h4.0M483.1 500.2h4.0M487 487.2V495.7M485 487.2h4.0M485 495.7h4.0M488.9 488.7V497.1M486.9 488.7h4.0M486.9 497.1h4.0M490.8 497.3V505.7M488.8 497.3h4.0M488.8 505.7h4.0M492.7 495.1V503.5M490.7 495.1h4.0M490.7 503.5h4.0M494.6 497.8V506.1M492.6 497.8h4.0M492.6 506.1h4.0M496.5 494.5V502.8M494.5 494.5h4.0M494.5 502.8h4.0M498.4 497V505.3M496.4 497h4.0M496.4 505.3h4.0M500.3 487.1V495.5M498.3 487.1h4.0M498.3 495.5h4.0M502.2 492V500.4M500.2 492h4.0M500.2 500.4h4.0M504.1 492.4V500.8M502.1 492.4h4.0M502.1 500.8h4.0M506 494V502.4M504 494h4.0M504 502.4h4.0M507.9 494.7V503.1M505.9 494.7h4.0M505.9 503.1h4.0M509.8 496V504.4M507.8 496h4.0M507.8 504.4h4.0M511.7 490.6V499.1M509.7 490.6h4.0M509.7 499.1h4.0M513.6 494V502.5M511.6 494h4.0M511.6 502.5h4.0M515.5 490.5V499M513.5 490.5h4.0M513.5 499h4.0M517.4 495.2V503.7M515.4 495.2h4.0M515.4 503.7h4.0M519.3 490.5V499M517.3 490.5h4.0M517.3 499h4.0M521.2 493.3V501.8M519.2 493.3h4.0M519.2 501.8h4.0M523.1 488.1V496.6M521.1 488.1h4.0M521.1 496.6h4.0M525 497.8V506.3M523 497.8h4.0M523 506.3h4.0M526.9 490.5V499M524.9 490.5h4.0M524.9 499h4.0M528.8 489.7V498.2M526.8 489.7h4.0M526.8 498.2h4.0M530.7 496.1V504.6M528.7 496.1h4.0M528.7 504.6h4.0M532.6 494.1V502.6M530.6 494.1h4.0M530.6 502.6h4.0M534.5 495.4V503.9M532.5 495.4h4.0M532.5 503.9h4.0M536.4 483.9V492.4M534.4 483.9h4.0M534.4 492.4h4.0M538.3 489.9V498.4M536.3 489.9h4.0M536.3 498.4h4.0M540.2 493.1V501.6M538.2 493.1h4.0M538.2 501.6h4.0M542.1 493.5V502M540.1 493.5h4.0M540.1 502h4.0M544 496.1V504.6M542 496.1h4.0M542 504.6h4.0M545.9 484.8V493.3M543.9 484.8h4.0M543.9 493.3h4.0M547.8 493.1V501.6M545.8 493.1h4.0M545.8 501.6h4.0M549.7 489.6V498.1M547.7 489.6h4.0M547.7 498.1h4.0M551.6 494.2V502.7M549.6 494.2h4.0M549.6 502.7h4.0M553.5 492.2V500.7M551.5 492.2h4.0M551.5 500.7h4.0M555.4 490V498.5M553.4 490h4.0M553.4 498.5h4.0M557.3 487.6V496.1M555.3 487.6h4.0M555.3 496.1h4.0M559.2 491.1V499.7M557.2 491.1h4.0M557.2 499.7h4.0M561.1 482V490.7M559.1 482h4.0M559.1 490.7h4.0M563 491.2V499.9M561 491.2h4.0M561 499.9h4.0M564.9 482.3V491.1M562.9 482.3h4.0M562.9 491.1h4.0M566.8 493.2V502M564.8 493.2h4.0M564.8 502h4.0M568.7 489.9V498.7M566.7 489.9h4.0M566.7 498.7h4.0M570.6 485.9V494.7M568.6 485.9h4.0M568.6 494.7h4.0M572.5 488.4V497.1M570.5 488.4h4.0M570.5 497.1h4.0M574.4 490.5V499.1M572.4 490.5h4.0M572.4 499.1h4.0M576.3 490.1V498.7M574.3 490.1h4.0M574.3 498.7h4.0M578.2 493.1V501.6M576.2 493.1h4.0M576.2 501.6h4.0M580.1 489.4V497.9M578.1 489.4h4.0M578.1 497.9h4.0M582 494.5V503M580 494.5h4.0M580 503h4.0M583.9 493.5V501.9M581.9 493.5h4.0M581.9 501.9h4.0M585.8 493.9V502.4M583.8 493.9h4.0M583.8 502.4h4.0M587.7 495.7V504.1M585.7 495.7h4.0M585.7 504.1h4.0M589.6 491.1V499.5M587.6 491.1h4.0M587.6 499.5h4.0M591.5 497V505.5M589.5 497h4.0M589.5 505.5h4.0M593.4 490.4V498.8M591.4 490.4h4.0M591.4 498.8h4.0M595.3 493.1V501.5M593.3 493.1h4.0M593.3 501.5h4.0M597.2 497.1V505.5M595.2 497.1h4.0M595.2 505.5h4.0M599.1 492.4V500.8M597.1 492.4h4.0M597.1 500.8h4.0M601 492.7V501M599 492.7h4.0M599 501h4.0M602.9 487.2V495.5M600.9 487.2h4.0M600.9 495.5h4.0M604.8 491.7V500M602.8 491.7h4.0M602.8 500h4.0M606.7 493.2V501.5M604.7 493.2h4.0M604.7 501.5h4.0M608.6 494.8V503.2M606.6 494.8h4.0M606.6 503.2h4.0M610.5 489.1V497.4M608.5 489.1h4.0M608.5 497.4h4.0M612.4 492.2V500.5M610.4 492.2h4.0M610.4 500.5h4.0M614.3 489V497.3M612.3 489h4.0M612.3 497.3h4.0M616.2 492.9V501.2M614.2 492.9h4.0M614.2 501.2h4.0M618.1 499.6V507.9M616.1 499.6h4.0M616.1 507.9h4.0M620 495.4V503.7M618 495.4h4.0M618 503.7h4.0M621.9 496.7V505M619.9 496.7h4.0M619.9 505h4.0M623.8 494.6V502.9M621.8 494.6h4.0M621.8 502.9h4.0M625.7 494.8V503M623.7 494.8h4.0M623.7 503h4.0M627.6 491.4V499.7M625.6 491.4h4.0M625.6 499.7h4.0M629.5 497.8V506M627.5 497.8h4.0M627.5 506h4.0M631.4 491.9V500.2M629.4 491.9h4.0M629.4 500.2h4.0M633.3 489.4V497.6M631.3 489.4h4.0M631.3 497.6h4.0M635.2 495.8V504.1M633.2 495.8h4.0M633.2 504.1h4.0M637.1 494.2V502.4M635.1 494.2h4.0M635.1 502.4h4.0M639 494.9V503M637 494.9h4.0M637 503h4.0M640.9 498.6V506.8M638.9 498.6h4.0M638.9 506.8h4.0M642.8 501.5V509.6M640.8 501.5h4.0M640.8 509.6h4.0M644.7 497.8V505.8M642.7 497.8h4.0M642.7 505.8h4.0M646.6 500.6V508.6M644.6 500.6h4.0M644.6 508.6h4.0M648.5 494.2V502.2M646.5 494.2h4.0M646.5 502.2h4.0M650.4 496.5V504.5M648.4 496.5h4.0M648.4 504.5h4.0M652.3 498.4V506.4M650.3 498.4h4.0M650.3 506.4h4.0M654.2 496.4V504.3M652.2 496.4h4.0M652.2 504.3h4.0M656.1 499.5V507.3M654.1 499.5h4.0M654.1 507.3h4.0M658 500.5V508.3M656 500.5h4.0M656 508.3h4.0M659.9 503.6V511.4M657.9 503.6h4.0M657.9 511.4h4.0M661.8 503.9V511.5M659.8 503.9h4.0M659.8 511.5h4.0M663.7 500.3V507.8M661.7 500.3h4.0M661.7 507.8h4.0M665.6 503V510.4M663.6 503h4.0M663.6 510.4h4.0M667.5 506.9V514.3M665.5 506.9h4.0M665.5 514.3h4.0M669.4 504.5V511.7M667.4 504.5h4.0M667.4 511.7h4.0M671.3 506.7V513.9M669.3 506.7h4.0M669.3 513.9h4.0M673.2 505.7V512.9M671.2 505.7h4.0M671.2 512.9h4.0M675.1 504.3V511.5M673.1 504.3h4.0M673.1 511.5h4.0M677 503.7V510.9M675 503.7h4.0M675 510.9h4.0M678.9 508.8V515.8M676.9 508.8h4.0M676.9 515.8h4.0M680.8 508.6V515.6M678.8 508.6h4.0M678.8 515.6h4.0" stroke="#77AC30" stroke-width="1.7" fill="none"/>
<path d="M421.3 517.8a3.0 3.0 0 1 0 6.0 0a3.0 3.0 0 1 0 -6.0 0M423.2 515.7a3.0 3.0 0 1 0 6.0 0a3.0 3.0 0 1 0 -6.0 0M425.1 514.9a3.0 3.0 0 1 0 6.0 0a3.0 3.0 0 1 0 -6.0 0M427 517.7a3.0 3.0 0 1 0 6.0 0a3.0 3.0 0 1 0 -6.0 0M428.9 517.1a3.0 3.0 0 1 0 6.0 0a3.0 3.0 0 1 0 -6.0 0M430.8 513.2a3.0 3.0 0 1 0 6.0 0a3.0 3.0 0 1 0 -6.0 0M432.7 514.2a3.0 3.0 0 1 0 6.0 0a3.0 3.0 0 1 0 -6.0 0M434.6 513.7a3.0 3.0 0 1 0 6.0 0a3.0 3.0 0 1 0 -6.0 0M436.5 514.4a3.0 3.0 0 1 0 6.0 0a3.0 3.0 0 1 0 -6.0 0M438.4 512a3.0 3.0 0 1 0 6.0 0a3.0 3.0 0 1 0 -6.0 0M440.3 515.1a3.0 3.0 0 1 0 6.0 0a3.0 3.0 0 1 0 -6.0 0M442.2 508.7a3.0 3.0 0 1 0 6.0 0a3.0 3.0 0 1 0 -6.0 0M444.1 508.5a3.0 3.0 0 1 0 6.0 0a3.0 3.0 0 1 0 -6.0 0M446 511.3a3.0 3.0 0 1 0 6.0 0a3.0 3.0 0 1 0 -6.0 0M447.9 510.6a3.0 3.0 0 1 0 6.0 0a3.0 3.0 0 1 0 -6.0 0M449.8 508.6a3.0 3.0 0 1 0 6.0 0a3.0 3.0 0 1 0 -6.0 0M451.7 505.9a3.0 3.0 0 1 0 6.0 0a3.0 3.0 0 1 0 -6.0 0M453.6 508.7a3.0 3.0 0 1 0 6.0 0a3.0 3.0 0 1 0 -6.0 0M455.5 505.7a3.0 3.0 0 1 0 6.0 0a3.0 3.0 0 1 0 -6.0 0M457.4 502.6a3.0 3.0 0 1 0 6.0 0a3.0 3.0 0 1 0 -6.0 0M459.3 501a3.0 3.0 0 1 0 6.0 0a3.0 3.0 0 1 0 -6.0 0M461.2 497.8a3.0 3.0 0 1 0 6.0 0a3.0 3.0 0 1 0 -6.0 0M463.1 502.3a3.0 3.0 0 1 0 6.0 0a3.0 3.0 0 1 0 -6.0 0M465 504.2a3.0 3.0 0 1 0 6.0 0a3.0 3.0 0 1 0 -6.0 0M466.9 500.9a3.0 3.0 0 1 0 6.0 0a3.0 3.0 0 1 0 -6.0 0M468.8 501.4a3.0 3.0 0 1 0 6.0 0a3.0 3.0 0 1 0 -6.0 0M470.7 495.1a3.0 3.0 0 1 0 6.0 0a3.0 3.0 0 1 0 -6.0 0M472.6 494.7a3.0 3.0 0 1 0 6.0 0a3.0 3.0 0 1 0 -6.0 0M474.5 500.3a3.0 3.0 0 1 0 6.0 0a3.0 3.0 0 1 0 -6.0 0M476.4 495.8a3.0 3.0 0 1 0 6.0 0a3.0 3.0 0 1 0 -6.0 0M478.3 489a3.0 3.0 0 1 0 6.0 0a3.0 3.0 0 1 0 -6.0 0M480.2 493.9a3.0 3.0 0 1 0 6.0 0a3.0 3.0 0 1 0 -6.0 0M482.1 495.9a3.0 3.0 0 1 0 6.0 0a3.0 3.0 0 1 0 -6.0 0M484 491.4a3.0 3.0 0 1 0 6.0 0a3.0 3.0 0 1 0 -6.0 0M485.9 492.9a3.0 3.0 0 1 0 6.0 0a3.0 3.0 0 1 0 -6.0 0M487.8 501.5a3.0 3.0 0 1 0 6.0 0a3.0 3.0 0 1 0 -6.0 0M489.7 499.3a3.0 3.0 0 1 0 6.0 0a3.0 3.0 0 1 0 -6.0 0M491.6 502a3.0 3.0 0 1 0 6.0 0a3.0 3.0 0 1 0 -6.0 0M493.5 498.6a3.0 3.0 0 1 0 6.0 0a3.0 3.0 0 1 0 -6.0 0M495.4 501.1a3.0 3.0 0 1 0 6.0 0a3.0 3.0 0 1 0 -6.0 0M497.3 491.3a3.0 3.0 0 1 0 6.0 0a3.0 3.0 0 1 0 -6.0 0M499.2 496.2a3.0 3.0 0 1 0 6.0 0a3.0 3.0 0 1 0 -6.0 0M501.1 496.6a3.0 3.0 0 1 0 6.0 0a3.0 3.0 0 1 0 -6.0 0M503 498.2a3.0 3.0 0 1 0 6.0 0a3.0 3.0 0 1 0 -6.0 0M504.9 498.9a3.0 3.0 0 1 0 6.0 0a3.0 3.0 0 1 0 -6.0 0M506.8 500.2a3.0 3.0 0 1 0 6.0 0a3.0 3.0 0 1 0 -6.0 0M508.7 494.9a3.0 3.0 0 1 0 6.0 0a3.0 3.0 0 1 0 -6.0 0M510.6 498.3a3.0 3.0 0 1 0 6.0 0a3.0 3.0 0 1 0 -6.0 0M512.5 494.7a3.0 3.0 0 1 0 6.0 0a3.0 3.0 0 1 0 -6.0 0M514.4 499.4a3.0 3.0 0 1 0 6.0 0a3.0 3.0 0 1 0 -6.0 0M516.3 494.8a3.0 3.0 0 1 0 6.0 0a3.0 3.0 0 1 0 -6.0 0M518.2 497.6a3.0 3.0 0 1 0 6.0 0a3.0 3.0 0 1 0 -6.0 0M520.1 492.3a3.0 3.0 0 1 0 6.0 0a3.0 3.0 0 1 0 -6.0 0M522 502a3.0 3.0 0 1 0 6.0 0a3.0 3.0 0 1 0 -6.0 0M523.9 494.8a3.0 3.0 0 1 0 6.0 0a3.0 3.0 0 1 0 -6.0 0M525.8 493.9a3.0 3.0 0 1 0 6.0 0a3.0 3.0 0 1 0 -6.0 0M527.7 500.3a3.0 3.0 0 1 0 6.0 0a3.0 3.0 0 1 0 -6.0 0M529.6 498.4a3.0 3.0 0 1 0 6.0 0a3.0 3.0 0 1 0 -6.0 0M531.5 499.7a3.0 3.0 0 1 0 6.0 0a3.0 3.0 0 1 0 -6.0 0M533.4 488.1a3.0 3.0 0 1 0 6.0 0a3.0 3.0 0 1 0 -6.0 0M535.3 494.2a3.0 3.0 0 1 0 6.0 0a3.0 3.0 0 1 0 -6.0 0M537.2 497.3a3.0 3.0 0 1 0 6.0 0a3.0 3.0 0 1 0 -6.0 0M539.1 497.8a3.0 3.0 0 1 0 6.0 0a3.0 3.0 0 1 0 -6.0 0M541 500.4a3.0 3.0 0 1 0 6.0 0a3.0 3.0 0 1 0 -6.0 0M542.9 489a3.0 3.0 0 1 0 6.0 0a3.0 3.0 0 1 0 -6.0 0M544.8 497.4a3.0 3.0 0 1 0 6.0 0a3.0 3.0 0 1 0 -6.0 0M546.7 493.8a3.0 3.0 0 1 0 6.0 0a3.0 3.0 0 1 0 -6.0 0M548.6 498.5a3.0 3.0 0 1 0 6.0 0a3.0 3.0 0 1 0 -6.0 0M550.5 496.4a3.0 3.0 0 1 0 6.0 0a3.0 3.0 0 1 0 -6.0 0M552.4 494.2a3.0 3.0 0 1 0 6.0 0a3.0 3.0 0 1 0 -6.0 0M554.3 491.8a3.0 3.0 0 1 0 6.0 0a3.0 3.0 0 1 0 -6.0 0M556.2 495.4a3.0 3.0 0 1 0 6.0 0a3.0 3.0 0 1 0 -6.0 0M558.1 486.4a3.0 3.0 0 1 0 6.0 0a3.0 3.0 0 1 0 -6.0 0M560 495.6a3.0 3.0 0 1 0 6.0 0a3.0 3.0 0 1 0 -6.0 0M561.9 486.7a3.0 3.0 0 1 0 6.0 0a3.0 3.0 0 1 0 -6.0 0M563.8 497.6a3.0 3.0 0 1 0 6.0 0a3.0 3.0 0 1 0 -6.0 0M565.7 494.3a3.0 3.0 0 1 0 6.0 0a3.0 3.0 0 1 0 -6.0 0M567.6 490.3a3.0 3.0 0 1 0 6.0 0a3.0 3.0 0 1 0 -6.0 0M569.5 492.7a3.0 3.0 0 1 0 6.0 0a3.0 3.0 0 1 0 -6.0 0M571.4 494.8a3.0 3.0 0 1 0 6.0 0a3.0 3.0 0 1 0 -6.0 0M573.3 494.4a3.0 3.0 0 1 0 6.0 0a3.0 3.0 0 1 0 -6.0 0M575.2 497.3a3.0 3.0 0 1 0 6.0 0a3.0 3.0 0 1 0 -6.0 0M577.1 493.7a3.0 3.0 0 1 0 6.0 0a3.0 3.0 0 1 0 -6.0 0M579 498.7a3.0 3.0 0 1 0 6.0 0a3.0 3.0 0 1 0 -6.0 0M580.9 497.7a3.0 3.0 0 1 0 6.0 0a3.0 3.0 0 1 0 -6.0 0M582.8 498.2a3.0 3.0 0 1 0 6.0 0a3.0 3.0 0 1 0 -6.0 0M584.7 499.9a3.0 3.0 0 1 0 6.0 0a3.0 3.0 0 1 0 -6.0 0M586.6 495.3a3.0 3.0 0 1 0 6.0 0a3.0 3.0 0 1 0 -6.0 0M588.5 501.2a3.0 3.0 0 1 0 6.0 0a3.0 3.0 0 1 0 -6.0 0M590.4 494.6a3.0 3.0 0 1 0 6.0 0a3.0 3.0 0 1 0 -6.0 0M592.3 497.3a3.0 3.0 0 1 0 6.0 0a3.0 3.0 0 1 0 -6.0 0M594.2 501.3a3.0 3.0 0 1 0 6.0 0a3.0 3.0 0 1 0 -6.0 0M596.1 496.6a3.0 3.0 0 1 0 6.0 0a3.0 3.0 0 1 0 -6.0 0M598 496.9a3.0 3.0 0 1 0 6.0 0a3.0 3.0 0 1 0 -6.0 0M599.9 491.3a3.0 3.0 0 1 0 6.0 0a3.0 3.0 0 1 0 -6.0 0M601.8 495.9a3.0 3.0 0 1 0 6.0 0a3.0 3.0 0 1 0 -6.0 0M603.7 497.4a3.0 3.0 0 1 0 6.0 0a3.0 3.0 0 1 0 -6.0 0M605.6 499a3.0 3.0 0 1 0 6.0 0a3.0 3.0 0 1 0 -6.0 0M607.5 493.2a3.0 3.0 0 1 0 6.0 0a3.0 3.0 0 1 0 -6.0 0M609.4 496.3a3.0 3.0 0 1 0 6.0 0a3.0 3.0 0 1 0 -6.0 0M611.3 493.1a3.0 3.0 0 1 0 6.0 0a3.0 3.0 0 1 0 -6.0 0M613.2 497a3.0 3.0 0 1 0 6.0 0a3.0 3.0 0 1 0 -6.0 0M615.1 503.7a3.0 3.0 0 1 0 6.0 0a3.0 3.0 0 1 0 -6.0 0M617 499.5a3.0 3.0 0 1 0 6.0 0a3.0 3.0 0 1 0 -6.0 0M618.9 500.8a3.0 3.0 0 1 0 6.0 0a3.0 3.0 0 1 0 -6.0 0M620.8 498.8a3.0 3.0 0 1 0 6.0 0a3.0 3.0 0 1 0 -6.0 0M622.7 498.9a3.0 3.0 0 1 0 6.0 0a3.0 3.0 0 1 0 -6.0 0M624.6 495.5a3.0 3.0 0 1 0 6.0 0a3.0 3.0 0 1 0 -6.0 0M626.5 501.9a3.0 3.0 0 1 0 6.0 0a3.0 3.0 0 1 0 -6.0 0M628.4 496.1a3.0 3.0 0 1 0 6.0 0a3.0 3.0 0 1 0 -6.0 0M630.3 493.5a3.0 3.0 0 1 0 6.0 0a3.0 3.0 0 1 0 -6.0 0M632.2 499.9a3.0 3.0 0 1 0 6.0 0a3.0 3.0 0 1 0 -6.0 0M634.1 498.3a3.0 3.0 0 1 0 6.0 0a3.0 3.0 0 1 0 -6.0 0M636 499a3.0 3.0 0 1 0 6.0 0a3.0 3.0 0 1 0 -6.0 0M637.9 502.7a3.0 3.0 0 1 0 6.0 0a3.0 3.0 0 1 0 -6.0 0M639.8 505.6a3.0 3.0 0 1 0 6.0 0a3.0 3.0 0 1 0 -6.0 0M641.7 501.8a3.0 3.0 0 1 0 6.0 0a3.0 3.0 0 1 0 -6.0 0M643.6 504.6a3.0 3.0 0 1 0 6.0 0a3.0 3.0 0 1 0 -6.0 0M645.5 498.2a3.0 3.0 0 1 0 6.0 0a3.0 3.0 0 1 0 -6.0 0M647.4 500.5a3.0 3.0 0 1 0 6.0 0a3.0 3.0 0 1 0 -6.0 0M649.3 502.4a3.0 3.0 0 1 0 6.0 0a3.0 3.0 0 1 0 -6.0 0M651.2 500.3a3.0 3.0 0 1 0 6.0 0a3.0 3.0 0 1 0 -6.0 0M653.1 503.4a3.0 3.0 0 1 0 6.0 0a3.0 3.0 0 1 0 -6.0 0M655 504.4a3.0 3.0 0 1 0 6.0 0a3.0 3.0 0 1 0 -6.0 0M656.9 507.5a3.0 3.0 0 1 0 6.0 0a3.0 3.0 0 1 0 -6.0 0M658.8 507.7a3.0 3.0 0 1 0 6.0 0a3.0 3.0 0 1 0 -6.0 0M660.7 504.1a3.0 3.0 0 1 0 6.0 0a3.0 3.0 0 1 0 -6.0 0M662.6 506.7a3.0 3.0 0 1 0 6.0 0a3.0 3.0 0 1 0 -6.0 0M664.5 510.6a3.0 3.0 0 1 0 6.0 0a3.0 3.0 0 1 0 -6.0 0M666.4 508.1a3.0 3.0 0 1 0 6.0 0a3.0 3.0 0 1 0 -6.0 0M668.3 510.3a3.0 3.0 0 1 0 6.0 0a3.0 3.0 0 1 0 -6.0 0M670.2 509.3a3.0 3.0 0 1 0 6.0 0a3.0 3.0 0 1 0 -6.0 0M672.1 507.9a3.0 3.0 0 1 0 6.0 0a3.0 3.0 0 1 0 -6.0 0M674 507.3a3.0 3.0 0 1 0 6.0 0a3.0 3.0 0 1 0 -6.0 0M675.9 512.3a3.0 3.0 0 1 0 6.0 0a3.0 3.0 0 1 0 -6.0 0M677.8 512.1a3.0 3.0 0 1 0 6.0 0a3.0 3.0 0 1 0 -6.0 0" fill="#77AC30"/>
<path d="M424.3 578.9V584.6M422.3 578.9h4.0M422.3 584.6h4.0M426.2 573.8V579.5M424.2 573.8h4.0M424.2 579.5h4.0M428.1 579.1V585M426.1 579.1h4.0M426.1 585h4.0M430 574.3V580.3M428 574.3h4.0M428 580.3h4.0M431.9 568.9V575M429.9 568.9h4.0M429.9 575h4.0M433.8 574.6V580.9M431.8 574.6h4.0M431.8 580.9h4.0M435.7 572.3V578.5M433.7 572.3h4.0M433.7 578.5h4.0M437.6 573V579.3M435.6 573h4.0M435.6 579.3h4.0M439.5 576.1V582.5M437.5 576.1h4.0M437.5 582.5h4.0M441.4 569.4V575.9M439.4 569.4h4.0M439.4 575.9h4.0M443.3 569.9V576.6M441.3 569.9h4.0M441.3 576.6h4.0M445.2 569.9V576.7M443.2 569.9h4.0M443.2 576.7h4.0M447.1 562.2V569.1M445.1 562.2h4.0M445.1 569.1h4.0M449 567.4V574.3M447 567.4h4.0M447 574.3h4.0M450.9 565.2V572.1M448.9 565.2h4.0M448.9 572.1h4.0M452.8 563.4V570.4M450.8 563.4h4.0M450.8 570.4h4.0M454.7 568.9V576.1M452.7 568.9h4.0M452.7 576.1h4.0M456.6 561.1V568.6M454.6 561.1h4.0M454.6 568.6h4.0M458.5 560.5V568.2M456.5 560.5h4.0M456.5 568.2h4.0M460.4 559.8V567.7M458.4 559.8h4.0M458.4 567.7h4.0M462.3 557.1V565M460.3 557.1h4.0M460.3 565h4.0M464.2 558.8V566.8M462.2 558.8h4.0M462.2 566.8h4.0M466.1 551.9V559.8M464.1 551.9h4.0M464.1 559.8h4.0M468 562.4V570.5M466 562.4h4.0M466 570.5h4.0M469.9 551.8V559.9M467.9 551.8h4.0M467.9 559.9h4.0M471.8 554.7V562.9M469.8 554.7h4.0M469.8 562.9h4.0M473.7 556.4V564.7M471.7 556.4h4.0M471.7 564.7h4.0M475.6 550.3V558.5M473.6 550.3h4.0M473.6 558.5h4.0M477.5 550.5V558.8M475.5 550.5h4.0M475.5 558.8h4.0M479.4 551.7V560M477.4 551.7h4.0M477.4 560h4.0M481.3 553V561.3M479.3 553h4.0M479.3 561.3h4.0M483.2 553.7V562M481.2 553.7h4.0M481.2 562h4.0M485.1 552.9V561.2M483.1 552.9h4.0M483.1 561.2h4.0M487 550.2V558.5M485 550.2h4.0M485 558.5h4.0M488.9 547.5V555.9M486.9 547.5h4.0M486.9 555.9h4.0M490.8 547.9V556.3M488.8 547.9h4.0M488.8 556.3h4.0M492.7 553.8V562.3M490.7 553.8h4.0M490.7 562.3h4.0M494.6 549.8V558.2M492.6 549.8h4.0M492.6 558.2h4.0M496.5 549.6V558.1M494.5 549.6h4.0M494.5 558.1h4.0M498.4 553.8V562.3M496.4 553.8h4.0M496.4 562.3h4.0M500.3 550.1V558.5M498.3 550.1h4.0M498.3 558.5h4.0M502.2 551.4V559.8M500.2 551.4h4.0M500.2 559.8h4.0M504.1 555.9V564.3M502.1 555.9h4.0M502.1 564.3h4.0M506 548.2V556.7M504 548.2h4.0M504 556.7h4.0M507.9 555.5V564M505.9 555.5h4.0M505.9 564h4.0M509.8 551.6V560M507.8 551.6h4.0M507.8 560h4.0M511.7 544.8V553.3M509.7 544.8h4.0M509.7 553.3h4.0M513.6 552.5V560.9M511.6 552.5h4.0M511.6 560.9h4.0M515.5 550.5V558.9M513.5 550.5h4.0M513.5 558.9h4.0M517.4 550V558.4M515.4 550h4.0M515.4 558.4h4.0M519.3 549.5V557.9M517.3 549.5h4.0M517.3 557.9h4.0M521.2 551.8V560.3M519.2 551.8h4.0M519.2 560.3h4.0M523.1 551.6V560.1M521.1 551.6h4.0M521.1 560.1h4.0M525 546.3V554.8M523 546.3h4.0M523 554.8h4.0M526.9 547.6V556.2M524.9 547.6h4.0M524.9 556.2h4.0M528.8 549.5V558.1M526.8 549.5h4.0M526.8 558.1h4.0M530.7 550.2V558.8M528.7 550.2h4.0M528.7 558.8h4.0M532.6 547.9V556.5M530.6 547.9h4.0M530.6 556.5h4.0M534.5 550V558.6M532.5 550h4.0M532.5 558.6h4.0M536.4 546.7V555.3M534.4 546.7h4.0M534.4 555.3h4.0M538.3 547.3V555.9M536.3 547.3h4.0M536.3 555.9h4.0M540.2 546.9V555.5M538.2 546.9h4.0M538.2 555.5h4.0M542.1 550.9V559.5M540.1 550.9h4.0M540.1 559.5h4.0M544 546.7V555.3M542 546.7h4.0M542 555.3h4.0M545.9 555.4V564M543.9 555.4h4.0M543.9 564h4.0M547.8 547.5V556M545.8 547.5h4.0M545.8 556h4.0M549.7 549.1V557.6M547.7 549.1h4.0M547.7 557.6h4.0M551.6 554.5V562.9M549.6 554.5h4.0M549.6 562.9h4.0M553.5 547.2V555.6M551.5 547.2h4.0M551.5 555.6h4.0M555.4 543V551.4M553.4 543h4.0M553.4 551.4h4.0M557.3 554.2V562.6M555.3 554.2h4.0M555.3 562.6h4.0M559.2 548.4V556.8M557.2 548.4h4.0M557.2 556.8h4.0M561.1 546.6V555.1M559.1 546.6h4.0M559.1 555.1h4.0M563 553V561.4M561 553h4.0M561 561.4h4.0M564.9 555.3V563.7M562.9 555.3h4.0M562.9 563.7h4.0M566.8 553.5V562M564.8 553.5h4.0M564.8 562h4.0M568.7 548.3V556.8M566.7 548.3h4.0M566.7 556.8h4.0M570.6 545.7V554.2M568.6 545.7h4.0M568.6 554.2h4.0M572.5 542.3V550.7M570.5 542.3h4.0M570.5 550.7h4.0M574.4 554.7V563.1M572.4 554.7h4.0M572.4 563.1h4.0M576.3 548.2V556.7M574.3 548.2h4.0M574.3 556.7h4.0M578.2 551.9V560.4M576.2 551.9h4.0M576.2 560.4h4.0M580.1 551.2V559.7M578.1 551.2h4.0M578.1 559.7h4.0M582 551.6V560M580 551.6h4.0M580 560h4.0M583.9 551.4V559.8M581.9 551.4h4.0M581.9 559.8h4.0M585.8 551.4V559.7M583.8 551.4h4.0M583.8 559.7h4.0M587.7 550.7V559M585.7 550.7h4.0M585.7 559h4.0M589.6 554.4V562.7M587.6 554.4h4.0M587.6 562.7h4.0M591.5 552V560.3M589.5 552h4.0M589.5 560.3h4.0M593.4 553.2V561.4M591.4 553.2h4.0M591.4 561.4h4.0M595.3 550.5V558.8M593.3 550.5h4.0M593.3 558.8h4.0M597.2 544.2V552.5M595.2 544.2h4.0M595.2 552.5h4.0M599.1 552.5V560.8M597.1 552.5h4.0M597.1 560.8h4.0M601 553.8V562M599 553.8h4.0M599 562h4.0M602.9 552.2V560.5M600.9 552.2h4.0M600.9 560.5h4.0M604.8 551.1V559.3M602.8 551.1h4.0M602.8 559.3h4.0M606.7 554.4V562.7M604.7 554.4h4.0M604.7 562.7h4.0M608.6 553.9V562.1M606.6 553.9h4.0M606.6 562.1h4.0M610.5 553.9V562.2M608.5 553.9h4.0M608.5 562.2h4.0M612.4 553.6V561.8M610.4 553.6h4.0M610.4 561.8h4.0M614.3 551.5V559.7M612.3 551.5h4.0M612.3 559.7h4.0M616.2 553.2V561.4M614.2 553.2h4.0M614.2 561.4h4.0M618.1 551.2V559.5M616.1 551.2h4.0M616.1 559.5h4.0M620 553.6V561.8M618 553.6h4.0M618 561.8h4.0M621.9 553.4V561.7M619.9 553.4h4.0M619.9 561.7h4.0M623.8 553.2V561.5M621.8 553.2h4.0M621.8 561.5h4.0M625.7 551.9V560.2M623.7 551.9h4.0M623.7 560.2h4.0M627.6 547.4V555.7M625.6 547.4h4.0M625.6 555.7h4.0M629.5 553.7V562M627.5 553.7h4.0M627.5 562h4.0M631.4 554.8V563M629.4 554.8h4.0M629.4 563h4.0M633.3 552.7V561M631.3 552.7h4.0M631.3 561h4.0M635.2 551.7V560M633.2 551.7h4.0M633.2 560h4.0M637.1 553.8V562M635.1 553.8h4.0M635.1 562h4.0M639 553.3V561.4M637 553.3h4.0M637 561.4h4.0M640.9 554.7V562.9M638.9 554.7h4.0M638.9 562.9h4.0M642.8 551.2V559.3M640.8 551.2h4.0M640.8 559.3h4.0M644.7 557.8V565.8M642.7 557.8h4.0M642.7 565.8h4.0M646.6 553.4V561.4M644.6 553.4h4.0M644.6 561.4h4.0M648.5 554.3V562.2M646.5 554.3h4.0M646.5 562.2h4.0M650.4 554.6V562.4M648.4 554.6h4.0M648.4 562.4h4.0M652.3 555.2V563M650.3 555.2h4.0M650.3 563h4.0M654.2 561.3V569.1M652.2 561.3h4.0M652.2 569.1h4.0M656.1 553.7V561.5M654.1 553.7h4.0M654.1 561.5h4.0M658 558.1V565.8M656 558.1h4.0M656 565.8h4.0M659.9 561.3V568.9M657.9 561.3h4.0M657.9 568.9h4.0M661.8 564.2V571.7M659.8 564.2h4.0M659.8 571.7h4.0M663.7 564V571.4M661.7 564h4.0M661.7 571.4h4.0M665.6 561.1V568.4M663.6 561.1h4.0M663.6 568.4h4.0M667.5 561.4V568.6M665.5 561.4h4.0M665.5 568.6h4.0M669.4 565.7V572.8M667.4 565.7h4.0M667.4 572.8h4.0M671.3 560.3V567.5M669.3 560.3h4.0M669.3 567.5h4.0M673.2 570.6V577.8M671.2 570.6h4.0M671.2 577.8h4.0M675.1 564.8V571.9M673.1 564.8h4.0M673.1 571.9h4.0M677 562.7V569.7M675 562.7h4.0M675 569.7h4.0M678.9 571.1V578M676.9 571.1h4.0M676.9 578h4.0M680.8 566.8V573.6M678.8 566.8h4.0M678.8 573.6h4.0" stroke="#5A9FB2" stroke-width="1.7" fill="none"/>
<path d="M421.3 581.8a3.0 3.0 0 1 0 6.0 0a3.0 3.0 0 1 0 -6.0 0M423.2 576.7a3.0 3.0 0 1 0 6.0 0a3.0 3.0 0 1 0 -6.0 0M425.1 582.1a3.0 3.0 0 1 0 6.0 0a3.0 3.0 0 1 0 -6.0 0M427 577.3a3.0 3.0 0 1 0 6.0 0a3.0 3.0 0 1 0 -6.0 0M428.9 572a3.0 3.0 0 1 0 6.0 0a3.0 3.0 0 1 0 -6.0 0M430.8 577.8a3.0 3.0 0 1 0 6.0 0a3.0 3.0 0 1 0 -6.0 0M432.7 575.4a3.0 3.0 0 1 0 6.0 0a3.0 3.0 0 1 0 -6.0 0M434.6 576.1a3.0 3.0 0 1 0 6.0 0a3.0 3.0 0 1 0 -6.0 0M436.5 579.3a3.0 3.0 0 1 0 6.0 0a3.0 3.0 0 1 0 -6.0 0M438.4 572.7a3.0 3.0 0 1 0 6.0 0a3.0 3.0 0 1 0 -6.0 0M440.3 573.2a3.0 3.0 0 1 0 6.0 0a3.0 3.0 0 1 0 -6.0 0M442.2 573.3a3.0 3.0 0 1 0 6.0 0a3.0 3.0 0 1 0 -6.0 0M444.1 565.7a3.0 3.0 0 1 0 6.0 0a3.0 3.0 0 1 0 -6.0 0M446 570.8a3.0 3.0 0 1 0 6.0 0a3.0 3.0 0 1 0 -6.0 0M447.9 568.6a3.0 3.0 0 1 0 6.0 0a3.0 3.0 0 1 0 -6.0 0M449.8 566.9a3.0 3.0 0 1 0 6.0 0a3.0 3.0 0 1 0 -6.0 0M451.7 572.5a3.0 3.0 0 1 0 6.0 0a3.0 3.0 0 1 0 -6.0 0M453.6 564.8a3.0 3.0 0 1 0 6.0 0a3.0 3.0 0 1 0 -6.0 0M455.5 564.4a3.0 3.0 0 1 0 6.0 0a3.0 3.0 0 1 0 -6.0 0M457.4 563.7a3.0 3.0 0 1 0 6.0 0a3.0 3.0 0 1 0 -6.0 0M459.3 561.1a3.0 3.0 0 1 0 6.0 0a3.0 3.0 0 1 0 -6.0 0M461.2 562.8a3.0 3.0 0 1 0 6.0 0a3.0 3.0 0 1 0 -6.0 0M463.1 555.8a3.0 3.0 0 1 0 6.0 0a3.0 3.0 0 1 0 -6.0 0M465 566.5a3.0 3.0 0 1 0 6.0 0a3.0 3.0 0 1 0 -6.0 0M466.9 555.8a3.0 3.0 0 1 0 6.0 0a3.0 3.0 0 1 0 -6.0 0M468.8 558.8a3.0 3.0 0 1 0 6.0 0a3.0 3.0 0 1 0 -6.0 0M470.7 560.5a3.0 3.0 0 1 0 6.0 0a3.0 3.0 0 1 0 -6.0 0M472.6 554.4a3.0 3.0 0 1 0 6.0 0a3.0 3.0 0 1 0 -6.0 0M474.5 554.6a3.0 3.0 0 1 0 6.0 0a3.0 3.0 0 1 0 -6.0 0M476.4 555.8a3.0 3.0 0 1 0 6.0 0a3.0 3.0 0 1 0 -6.0 0M478.3 557.2a3.0 3.0 0 1 0 6.0 0a3.0 3.0 0 1 0 -6.0 0M480.2 557.8a3.0 3.0 0 1 0 6.0 0a3.0 3.0 0 1 0 -6.0 0M482.1 557a3.0 3.0 0 1 0 6.0 0a3.0 3.0 0 1 0 -6.0 0M484 554.4a3.0 3.0 0 1 0 6.0 0a3.0 3.0 0 1 0 -6.0 0M485.9 551.7a3.0 3.0 0 1 0 6.0 0a3.0 3.0 0 1 0 -6.0 0M487.8 552.1a3.0 3.0 0 1 0 6.0 0a3.0 3.0 0 1 0 -6.0 0M489.7 558a3.0 3.0 0 1 0 6.0 0a3.0 3.0 0 1 0 -6.0 0M491.6 554a3.0 3.0 0 1 0 6.0 0a3.0 3.0 0 1 0 -6.0 0M493.5 553.8a3.0 3.0 0 1 0 6.0 0a3.0 3.0 0 1 0 -6.0 0M495.4 558a3.0 3.0 0 1 0 6.0 0a3.0 3.0 0 1 0 -6.0 0M497.3 554.3a3.0 3.0 0 1 0 6.0 0a3.0 3.0 0 1 0 -6.0 0M499.2 555.6a3.0 3.0 0 1 0 6.0 0a3.0 3.0 0 1 0 -6.0 0M501.1 560.1a3.0 3.0 0 1 0 6.0 0a3.0 3.0 0 1 0 -6.0 0M503 552.5a3.0 3.0 0 1 0 6.0 0a3.0 3.0 0 1 0 -6.0 0M504.9 559.7a3.0 3.0 0 1 0 6.0 0a3.0 3.0 0 1 0 -6.0 0M506.8 555.8a3.0 3.0 0 1 0 6.0 0a3.0 3.0 0 1 0 -6.0 0M508.7 549a3.0 3.0 0 1 0 6.0 0a3.0 3.0 0 1 0 -6.0 0M510.6 556.7a3.0 3.0 0 1 0 6.0 0a3.0 3.0 0 1 0 -6.0 0M512.5 554.7a3.0 3.0 0 1 0 6.0 0a3.0 3.0 0 1 0 -6.0 0M514.4 554.2a3.0 3.0 0 1 0 6.0 0a3.0 3.0 0 1 0 -6.0 0M516.3 553.7a3.0 3.0 0 1 0 6.0 0a3.0 3.0 0 1 0 -6.0 0M518.2 556.1a3.0 3.0 0 1 0 6.0 0a3.0 3.0 0 1 0 -6.0 0M520.1 555.9a3.0 3.0 0 1 0 6.0 0a3.0 3.0 0 1 0 -6.0 0M522 550.6a3.0 3.0 0 1 0 6.0 0a3.0 3.0 0 1 0 -6.0 0M523.9 551.9a3.0 3.0 0 1 0 6.0 0a3.0 3.0 0 1 0 -6.0 0M525.8 553.8a3.0 3.0 0 1 0 6.0 0a3.0 3.0 0 1 0 -6.0 0M527.7 554.5a3.0 3.0 0 1 0 6.0 0a3.0 3.0 0 1 0 -6.0 0M529.6 552.2a3.0 3.0 0 1 0 6.0 0a3.0 3.0 0 1 0 -6.0 0M531.5 554.3a3.0 3.0 0 1 0 6.0 0a3.0 3.0 0 1 0 -6.0 0M533.4 551a3.0 3.0 0 1 0 6.0 0a3.0 3.0 0 1 0 -6.0 0M535.3 551.6a3.0 3.0 0 1 0 6.0 0a3.0 3.0 0 1 0 -6.0 0M537.2 551.2a3.0 3.0 0 1 0 6.0 0a3.0 3.0 0 1 0 -6.0 0M539.1 555.2a3.0 3.0 0 1 0 6.0 0a3.0 3.0 0 1 0 -6.0 0M541 551a3.0 3.0 0 1 0 6.0 0a3.0 3.0 0 1 0 -6.0 0M542.9 559.7a3.0 3.0 0 1 0 6.0 0a3.0 3.0 0 1 0 -6.0 0M544.8 551.7a3.0 3.0 0 1 0 6.0 0a3.0 3.0 0 1 0 -6.0 0M546.7 553.4a3.0 3.0 0 1 0 6.0 0a3.0 3.0 0 1 0 -6.0 0M548.6 558.7a3.0 3.0 0 1 0 6.0 0a3.0 3.0 0 1 0 -6.0 0M550.5 551.4a3.0 3.0 0 1 0 6.0 0a3.0 3.0 0 1 0 -6.0 0M552.4 547.2a3.0 3.0 0 1 0 6.0 0a3.0 3.0 0 1 0 -6.0 0M554.3 558.4a3.0 3.0 0 1 0 6.0 0a3.0 3.0 0 1 0 -6.0 0M556.2 552.6a3.0 3.0 0 1 0 6.0 0a3.0 3.0 0 1 0 -6.0 0M558.1 550.9a3.0 3.0 0 1 0 6.0 0a3.0 3.0 0 1 0 -6.0 0M560 557.2a3.0 3.0 0 1 0 6.0 0a3.0 3.0 0 1 0 -6.0 0M561.9 559.5a3.0 3.0 0 1 0 6.0 0a3.0 3.0 0 1 0 -6.0 0M563.8 557.8a3.0 3.0 0 1 0 6.0 0a3.0 3.0 0 1 0 -6.0 0M565.7 552.6a3.0 3.0 0 1 0 6.0 0a3.0 3.0 0 1 0 -6.0 0M567.6 549.9a3.0 3.0 0 1 0 6.0 0a3.0 3.0 0 1 0 -6.0 0M569.5 546.5a3.0 3.0 0 1 0 6.0 0a3.0 3.0 0 1 0 -6.0 0M571.4 558.9a3.0 3.0 0 1 0 6.0 0a3.0 3.0 0 1 0 -6.0 0M573.3 552.5a3.0 3.0 0 1 0 6.0 0a3.0 3.0 0 1 0 -6.0 0M575.2 556.1a3.0 3.0 0 1 0 6.0 0a3.0 3.0 0 1 0 -6.0 0M577.1 555.5a3.0 3.0 0 1 0 6.0 0a3.0 3.0 0 1 0 -6.0 0M579 555.8a3.0 3.0 0 1 0 6.0 0a3.0 3.0 0 1 0 -6.0 0M580.9 555.6a3.0 3.0 0 1 0 6.0 0a3.0 3.0 0 1 0 -6.0 0M582.8 555.5a3.0 3.0 0 1 0 6.0 0a3.0 3.0 0 1 0 -6.0 0M584.7 554.9a3.0 3.0 0 1 0 6.0 0a3.0 3.0 0 1 0 -6.0 0M586.6 558.5a3.0 3.0 0 1 0 6.0 0a3.0 3.0 0 1 0 -6.0 0M588.5 556.1a3.0 3.0 0 1 0 6.0 0a3.0 3.0 0 1 0 -6.0 0M590.4 557.3a3.0 3.0 0 1 0 6.0 0a3.0 3.0 0 1 0 -6.0 0M592.3 554.7a3.0 3.0 0 1 0 6.0 0a3.0 3.0 0 1 0 -6.0 0M594.2 548.3a3.0 3.0 0 1 0 6.0 0a3.0 3.0 0 1 0 -6.0 0M596.1 556.6a3.0 3.0 0 1 0 6.0 0a3.0 3.0 0 1 0 -6.0 0M598 557.9a3.0 3.0 0 1 0 6.0 0a3.0 3.0 0 1 0 -6.0 0M599.9 556.4a3.0 3.0 0 1 0 6.0 0a3.0 3.0 0 1 0 -6.0 0M601.8 555.2a3.0 3.0 0 1 0 6.0 0a3.0 3.0 0 1 0 -6.0 0M603.7 558.6a3.0 3.0 0 1 0 6.0 0a3.0 3.0 0 1 0 -6.0 0M605.6 558a3.0 3.0 0 1 0 6.0 0a3.0 3.0 0 1 0 -6.0 0M607.5 558a3.0 3.0 0 1 0 6.0 0a3.0 3.0 0 1 0 -6.0 0M609.4 557.7a3.0 3.0 0 1 0 6.0 0a3.0 3.0 0 1 0 -6.0 0M611.3 555.6a3.0 3.0 0 1 0 6.0 0a3.0 3.0 0 1 0 -6.0 0M613.2 557.3a3.0 3.0 0 1 0 6.0 0a3.0 3.0 0 1 0 -6.0 0M615.1 555.3a3.0 3.0 0 1 0 6.0 0a3.0 3.0 0 1 0 -6.0 0M617 557.7a3.0 3.0 0 1 0 6.0 0a3.0 3.0 0 1 0 -6.0 0M618.9 557.6a3.0 3.0 0 1 0 6.0 0a3.0 3.0 0 1 0 -6.0 0M620.8 557.3a3.0 3.0 0 1 0 6.0 0a3.0 3.0 0 1 0 -6.0 0M622.7 556.1a3.0 3.0 0 1 0 6.0 0a3.0 3.0 0 1 0 -6.0 0M624.6 551.6a3.0 3.0 0 1 0 6.0 0a3.0 3.0 0 1 0 -6.0 0M626.5 557.9a3.0 3.0 0 1 0 6.0 0a3.0 3.0 0 1 0 -6.0 0M628.4 558.9a3.0 3.0 0 1 0 6.0 0a3.0 3.0 0 1 0 -6.0 0M630.3 556.8a3.0 3.0 0 1 0 6.0 0a3.0 3.0 0 1 0 -6.0 0M632.2 555.8a3.0 3.0 0 1 0 6.0 0a3.0 3.0 0 1 0 -6.0 0M634.1 557.9a3.0 3.0 0 1 0 6.0 0a3.0 3.0 0 1 0 -6.0 0M636 557.3a3.0 3.0 0 1 0 6.0 0a3.0 3.0 0 1 0 -6.0 0M637.9 558.8a3.0 3.0 0 1 0 6.0 0a3.0 3.0 0 1 0 -6.0 0M639.8 555.3a3.0 3.0 0 1 0 6.0 0a3.0 3.0 0 1 0 -6.0 0M641.7 561.8a3.0 3.0 0 1 0 6.0 0a3.0 3.0 0 1 0 -6.0 0M643.6 557.4a3.0 3.0 0 1 0 6.0 0a3.0 3.0 0 1 0 -6.0 0M645.5 558.3a3.0 3.0 0 1 0 6.0 0a3.0 3.0 0 1 0 -6.0 0M647.4 558.5a3.0 3.0 0 1 0 6.0 0a3.0 3.0 0 1 0 -6.0 0M649.3 559.1a3.0 3.0 0 1 0 6.0 0a3.0 3.0 0 1 0 -6.0 0M651.2 565.2a3.0 3.0 0 1 0 6.0 0a3.0 3.0 0 1 0 -6.0 0M653.1 557.6a3.0 3.0 0 1 0 6.0 0a3.0 3.0 0 1 0 -6.0 0M655 561.9a3.0 3.0 0 1 0 6.0 0a3.0 3.0 0 1 0 -6.0 0M656.9 565.1a3.0 3.0 0 1 0 6.0 0a3.0 3.0 0 1 0 -6.0 0M658.8 568a3.0 3.0 0 1 0 6.0 0a3.0 3.0 0 1 0 -6.0 0M660.7 567.7a3.0 3.0 0 1 0 6.0 0a3.0 3.0 0 1 0 -6.0 0M662.6 564.8a3.0 3.0 0 1 0 6.0 0a3.0 3.0 0 1 0 -6.0 0M664.5 565a3.0 3.0 0 1 0 6.0 0a3.0 3.0 0 1 0 -6.0 0M666.4 569.2a3.0 3.0 0 1 0 6.0 0a3.0 3.0 0 1 0 -6.0 0M668.3 563.9a3.0 3.0 0 1 0 6.0 0a3.0 3.0 0 1 0 -6.0 0M670.2 574.2a3.0 3.0 0 1 0 6.0 0a3.0 3.0 0 1 0 -6.0 0M672.1 568.3a3.0 3.0 0 1 0 6.0 0a3.0 3.0 0 1 0 -6.0 0M674 566.2a3.0 3.0 0 1 0 6.0 0a3.0 3.0 0 1 0 -6.0 0M675.9 574.5a3.0 3.0 0 1 0 6.0 0a3.0 3.0 0 1 0 -6.0 0M677.8 570.2a3.0 3.0 0 1 0 6.0 0a3.0 3.0 0 1 0 -6.0 0" fill="#5A9FB2"/>
<line x1="425.3" y1="479.1" x2="681" y2="479.1" stroke="#c8c8c8" stroke-width="2.4" stroke-dasharray="9.2 9.4"/>
<line x1="425.3" y1="536.7" x2="681" y2="536.7" stroke="#c8c8c8" stroke-width="2.4" stroke-dasharray="9.2 9.4"/>
<path d="M623.6 352.5L650.4 368L650.4 399L623.6 414.5L596.8 399L596.8 368Z" fill="none" stroke="#231f20" stroke-width="1.6" stroke-linejoin="miter"/>
<line x1="645.5" y1="358.7" x2="653.1" y2="371.7" stroke="#231f20" stroke-width="1.2"/>
<path d="M656.6 377.7L650.5 373.2L655.7 370.1Z" fill="#231f20"/>
<text transform="translate(652.31 365.33) scale(1.0299 1)" font-size="21.04" fill="#231f20" stroke="#231f20" stroke-width="0.2"><tspan font-family='"Liberation Sans"' font-weight="bold">q</tspan></text>
<text transform="translate(664.74 359.44) scale(0.9052 1)" font-size="14.53" fill="#231f20" stroke="#231f20" stroke-width="0.1"><tspan font-family='"Liberation Sans"'>*</tspan></text>
<line x1="425.3" y1="530.3" x2="433.8" y2="530.3" stroke="#000" stroke-width="2.5"/>
<line x1="672.5" y1="530.3" x2="681" y2="530.3" stroke="#000" stroke-width="2.5"/>
<line x1="425.3" y1="466.4" x2="433.8" y2="466.4" stroke="#000" stroke-width="2.5"/>
<line x1="672.5" y1="466.4" x2="681" y2="466.4" stroke="#000" stroke-width="2.5"/>
<line x1="425.3" y1="402.4" x2="433.8" y2="402.4" stroke="#000" stroke-width="2.5"/>
<line x1="672.5" y1="402.4" x2="681" y2="402.4" stroke="#000" stroke-width="2.5"/>
<line x1="459.4" y1="338.5" x2="459.4" y2="347" stroke="#000" stroke-width="2.5"/>
<line x1="459.4" y1="594.2" x2="459.4" y2="585.7" stroke="#000" stroke-width="2.5"/>
<line x1="510.8" y1="338.5" x2="510.8" y2="347" stroke="#000" stroke-width="2.5"/>
<line x1="510.8" y1="594.2" x2="510.8" y2="585.7" stroke="#000" stroke-width="2.5"/>
<line x1="562.1" y1="338.5" x2="562.1" y2="347" stroke="#000" stroke-width="2.5"/>
<line x1="562.1" y1="594.2" x2="562.1" y2="585.7" stroke="#000" stroke-width="2.5"/>
<line x1="613.5" y1="338.5" x2="613.5" y2="347" stroke="#000" stroke-width="2.5"/>
<line x1="613.5" y1="594.2" x2="613.5" y2="585.7" stroke="#000" stroke-width="2.5"/>
<line x1="664.8" y1="338.5" x2="664.8" y2="347" stroke="#000" stroke-width="2.5"/>
<line x1="664.8" y1="594.2" x2="664.8" y2="585.7" stroke="#000" stroke-width="2.5"/>
<rect x="425.3" y="338.5" width="255.7" height="255.7" fill="none" stroke="#000" stroke-width="2.5"/>
<text transform="translate(408.99 600.02) scale(0.9887 1)" font-size="23.30" fill="#231f20" stroke="#231f20" stroke-width="0.20">0</text>
<text transform="translate(383.36 536.10) scale(0.9887 1)" font-size="23.30" fill="#231f20" stroke="#231f20" stroke-width="0.20">200</text>
<text transform="translate(383.36 472.17) scale(0.9887 1)" font-size="23.30" fill="#231f20" stroke="#231f20" stroke-width="0.20">400</text>
<text transform="translate(383.36 408.25) scale(0.9887 1)" font-size="23.30" fill="#231f20" stroke="#231f20" stroke-width="0.20">600</text>
<text transform="translate(383.36 344.32) scale(0.9887 1)" font-size="23.30" fill="#231f20" stroke="#231f20" stroke-width="0.20">800</text>
<text transform="translate(443.40 618.02) scale(0.9887 1)" font-size="23.30" fill="#231f20" stroke="#231f20" stroke-width="0.20">-0.1</text>
<text transform="translate(490.91 618.02) scale(0.9887 1)" font-size="23.30" fill="#231f20" stroke="#231f20" stroke-width="0.20">-0.05</text>
<text transform="translate(557.49 618.02) scale(0.9887 1)" font-size="23.30" fill="#231f20" stroke="#231f20" stroke-width="0.20">0</text>
<text transform="translate(595.71 618.02) scale(0.9887 1)" font-size="23.30" fill="#231f20" stroke="#231f20" stroke-width="0.20">0.05</text>
<text transform="translate(651.00 618.02) scale(0.9887 1)" font-size="23.30" fill="#231f20" stroke="#231f20" stroke-width="0.20">0.1</text>
<text transform="translate(376.36 553.75) rotate(-90) scale(1.1132 1)" font-size="20.92" fill="#231f20" stroke="#231f20" stroke-width="0.2"><tspan font-family='"Liberation Sans"'>Intensity (arb. units)</tspan></text>
<text transform="translate(497.57 644.92) scale(0.9681 1)" font-size="22.11" fill="#231f20" stroke="#231f20" stroke-width="0.2"><tspan font-family='"Liberation Sans"'>(⅓+</tspan><tspan font-family='"Liberation Serif"' font-style="italic">h</tspan><tspan font-family='"Liberation Sans"'>,⅓-</tspan><tspan font-family='"Liberation Serif"' font-style="italic">h</tspan><tspan font-family='"Liberation Sans"'>,6½)</tspan></text>
<text transform="translate(433.40 372.13) scale(0.9852 1)" font-size="20.02" fill="#000" stroke="#000" stroke-width="0.1"><tspan font-family='"Liberation Sans"'>(c)</tspan></text>
<text transform="translate(643.30 421.51) scale(0.9686 1)" font-size="19.92" fill="#231f20" stroke="#231f20" stroke-width="0.2"><tspan font-family='"Liberation Sans"'>94K</tspan></text>
<text transform="translate(633.67 482.51) scale(0.9448 1)" font-size="19.92" fill="#231f20" stroke="#231f20" stroke-width="0.2"><tspan font-family='"Liberation Sans"'>108K</tspan></text>
<text transform="translate(633.67 540.41) scale(0.9448 1)" font-size="19.92" fill="#231f20" stroke="#231f20" stroke-width="0.2"><tspan font-family='"Liberation Sans"'>110K</tspan></text>
<path d="M85 923.6V930.6M82.5 923.6h5M82.5 930.6h5M89.9 924.3V931.3M87.4 924.3h5M87.4 931.3h5M94.9 926.1V933.1M92.4 926.1h5M92.4 933.1h5M101.1 927.3V934.3M98.6 927.3h5M98.6 934.3h5M107.3 924.3V931.3M104.8 924.3h5M104.8 931.3h5M112.3 916.4V924.4M109.8 916.4h5M109.8 924.4h5M116.7 915.6V923.8M114.2 915.6h5M114.2 923.8h5M120.5 923.6V930.6M118 923.6h5M118 930.6h5M125.2 913.7V922.1M122.7 913.7h5M122.7 922.1h5M129.6 904.8V914.6M127.1 904.8h5M127.1 914.6h5M133.4 906.2V915.8M130.9 906.2h5M130.9 915.8h5M138.3 907.5V916.9M135.8 907.5h5M135.8 916.9h5M143.3 908.4V917.6M140.8 908.4h5M140.8 917.6h5M145.8 885.1V898.1M143.3 885.1h5M143.3 898.1h5M150.7 890.6V902.6M148.2 890.6h5M148.2 902.6h5M155.2 865.2V881.2M152.7 865.2h5M152.7 881.2h5M159.4 870.6V885.8M156.9 870.6h5M156.9 885.8h5M163.9 862.6V879M161.4 862.6h5M161.4 879h5M167.4 837.5V857.9M164.9 837.5h5M164.9 857.9h5M171.3 838.3V858.5M168.8 838.3h5M168.8 858.5h5M176.8 831.3V852.7M174.3 831.3h5M174.3 852.7h5M180.5 795.7V822.7M178 795.7h5M178 822.7h5M185.5 786.3V814.7M183 786.3h5M183 814.7h5M189.2 753.2V786.8M186.7 753.2h5M186.7 786.8h5M192.9 727.1V764.7M190.4 727.1h5M190.4 764.7h5M197.9 724.3V762.5M195.4 724.3h5M195.4 762.5h5M202.9 723V761.4M200.4 723h5M200.4 761.4h5M206.6 714.9V754.5M204.1 714.9h5M204.1 754.5h5M210.3 711.8V751.8M207.8 711.8h5M207.8 751.8h5M214.5 728.3V765.7M212 728.3h5M212 765.7h5M219.3 775.2V805.4M216.8 775.2h5M216.8 805.4h5M223.6 742.6V777.8M221.1 742.6h5M221.1 777.8h5M227.7 781.7V810.9M225.2 781.7h5M225.2 810.9h5M232.5 783V812M230 783h5M230 812h5M236.1 821V844M233.6 821h5M233.6 844h5M240.5 811.8V836.2M238 811.8h5M238 836.2h5M244.6 827.5V849.5M242.1 827.5h5M242.1 849.5h5M249.4 841.9V861.5M246.9 841.9h5M246.9 861.5h5M253.7 857V874.4M251.2 857h5M251.2 874.4h5M257.8 886.3V899.1M255.3 886.3h5M255.3 899.1h5M262.1 883.7V896.9M259.6 883.7h5M259.6 896.9h5M267.4 902V912.2M264.9 902h5M264.9 912.2h5M269.8 900.7V911.1M267.3 900.7h5M267.3 911.1h5M275.9 911.2V920M273.4 911.2h5M273.4 920h5M280.7 909.9V918.9M278.2 909.9h5M278.2 918.9h5M286.7 911.2V920M284.2 911.2h5M284.2 920h5M292.7 921.6V928.8M290.2 921.6h5M290.2 928.8h5M298.7 922.9V929.9M296.2 922.9h5M296.2 929.9h5M304.8 924.1V931.1M302.3 924.1h5M302.3 931.1h5M312 927.7V934.7M309.5 927.7h5M309.5 934.7h5M319.2 929.6V936.6M316.7 929.6h5M316.7 936.6h5M325.2 930.1V937.1M322.7 930.1h5M322.7 937.1h5M331.3 928.9V935.9M328.8 928.9h5M328.8 935.9h5M338.5 929.6V936.6M336 929.6h5M336 936.6h5" stroke="#EDB120" stroke-width="2.0" fill="none"/>
<path d="M81.6 927.1a3.4 3.4 0 1 0 6.8 0a3.4 3.4 0 1 0 -6.8 0M86.5 927.8a3.4 3.4 0 1 0 6.8 0a3.4 3.4 0 1 0 -6.8 0M91.5 929.6a3.4 3.4 0 1 0 6.8 0a3.4 3.4 0 1 0 -6.8 0M97.7 930.8a3.4 3.4 0 1 0 6.8 0a3.4 3.4 0 1 0 -6.8 0M103.9 927.8a3.4 3.4 0 1 0 6.8 0a3.4 3.4 0 1 0 -6.8 0M108.9 920.4a3.4 3.4 0 1 0 6.8 0a3.4 3.4 0 1 0 -6.8 0M113.3 919.7a3.4 3.4 0 1 0 6.8 0a3.4 3.4 0 1 0 -6.8 0M117.1 927.1a3.4 3.4 0 1 0 6.8 0a3.4 3.4 0 1 0 -6.8 0M121.8 917.9a3.4 3.4 0 1 0 6.8 0a3.4 3.4 0 1 0 -6.8 0M126.2 909.7a3.4 3.4 0 1 0 6.8 0a3.4 3.4 0 1 0 -6.8 0M130 911a3.4 3.4 0 1 0 6.8 0a3.4 3.4 0 1 0 -6.8 0M134.9 912.2a3.4 3.4 0 1 0 6.8 0a3.4 3.4 0 1 0 -6.8 0M139.9 913a3.4 3.4 0 1 0 6.8 0a3.4 3.4 0 1 0 -6.8 0M142.4 891.6a3.4 3.4 0 1 0 6.8 0a3.4 3.4 0 1 0 -6.8 0M147.3 896.6a3.4 3.4 0 1 0 6.8 0a3.4 3.4 0 1 0 -6.8 0M151.8 873.2a3.4 3.4 0 1 0 6.8 0a3.4 3.4 0 1 0 -6.8 0M156 878.2a3.4 3.4 0 1 0 6.8 0a3.4 3.4 0 1 0 -6.8 0M160.5 870.8a3.4 3.4 0 1 0 6.8 0a3.4 3.4 0 1 0 -6.8 0M164 847.7a3.4 3.4 0 1 0 6.8 0a3.4 3.4 0 1 0 -6.8 0M167.9 848.4a3.4 3.4 0 1 0 6.8 0a3.4 3.4 0 1 0 -6.8 0M173.4 842a3.4 3.4 0 1 0 6.8 0a3.4 3.4 0 1 0 -6.8 0M177.1 809.2a3.4 3.4 0 1 0 6.8 0a3.4 3.4 0 1 0 -6.8 0M182.1 800.5a3.4 3.4 0 1 0 6.8 0a3.4 3.4 0 1 0 -6.8 0M185.8 770a3.4 3.4 0 1 0 6.8 0a3.4 3.4 0 1 0 -6.8 0M189.5 745.9a3.4 3.4 0 1 0 6.8 0a3.4 3.4 0 1 0 -6.8 0M194.5 743.4a3.4 3.4 0 1 0 6.8 0a3.4 3.4 0 1 0 -6.8 0M199.5 742.2a3.4 3.4 0 1 0 6.8 0a3.4 3.4 0 1 0 -6.8 0M203.2 734.7a3.4 3.4 0 1 0 6.8 0a3.4 3.4 0 1 0 -6.8 0M206.9 731.8a3.4 3.4 0 1 0 6.8 0a3.4 3.4 0 1 0 -6.8 0M211.1 747a3.4 3.4 0 1 0 6.8 0a3.4 3.4 0 1 0 -6.8 0M215.9 790.3a3.4 3.4 0 1 0 6.8 0a3.4 3.4 0 1 0 -6.8 0M220.2 760.2a3.4 3.4 0 1 0 6.8 0a3.4 3.4 0 1 0 -6.8 0M224.3 796.3a3.4 3.4 0 1 0 6.8 0a3.4 3.4 0 1 0 -6.8 0M229.1 797.5a3.4 3.4 0 1 0 6.8 0a3.4 3.4 0 1 0 -6.8 0M232.7 832.5a3.4 3.4 0 1 0 6.8 0a3.4 3.4 0 1 0 -6.8 0M237.1 824a3.4 3.4 0 1 0 6.8 0a3.4 3.4 0 1 0 -6.8 0M241.2 838.5a3.4 3.4 0 1 0 6.8 0a3.4 3.4 0 1 0 -6.8 0M246 851.7a3.4 3.4 0 1 0 6.8 0a3.4 3.4 0 1 0 -6.8 0M250.3 865.7a3.4 3.4 0 1 0 6.8 0a3.4 3.4 0 1 0 -6.8 0M254.4 892.7a3.4 3.4 0 1 0 6.8 0a3.4 3.4 0 1 0 -6.8 0M258.7 890.3a3.4 3.4 0 1 0 6.8 0a3.4 3.4 0 1 0 -6.8 0M264 907.1a3.4 3.4 0 1 0 6.8 0a3.4 3.4 0 1 0 -6.8 0M266.4 905.9a3.4 3.4 0 1 0 6.8 0a3.4 3.4 0 1 0 -6.8 0M272.5 915.6a3.4 3.4 0 1 0 6.8 0a3.4 3.4 0 1 0 -6.8 0M277.3 914.4a3.4 3.4 0 1 0 6.8 0a3.4 3.4 0 1 0 -6.8 0M283.3 915.6a3.4 3.4 0 1 0 6.8 0a3.4 3.4 0 1 0 -6.8 0M289.3 925.2a3.4 3.4 0 1 0 6.8 0a3.4 3.4 0 1 0 -6.8 0M295.3 926.4a3.4 3.4 0 1 0 6.8 0a3.4 3.4 0 1 0 -6.8 0M301.4 927.6a3.4 3.4 0 1 0 6.8 0a3.4 3.4 0 1 0 -6.8 0M308.6 931.2a3.4 3.4 0 1 0 6.8 0a3.4 3.4 0 1 0 -6.8 0M315.8 933.1a3.4 3.4 0 1 0 6.8 0a3.4 3.4 0 1 0 -6.8 0M321.8 933.6a3.4 3.4 0 1 0 6.8 0a3.4 3.4 0 1 0 -6.8 0M327.9 932.4a3.4 3.4 0 1 0 6.8 0a3.4 3.4 0 1 0 -6.8 0M335.1 933.1a3.4 3.4 0 1 0 6.8 0a3.4 3.4 0 1 0 -6.8 0" fill="#EDB120"/>
<path d="M167.4 822.1V845.9M164.9 822.1h5M164.9 845.9h5M173.1 850.5V869.7M170.6 850.5h5M170.6 869.7h5M178 849.1V868.5M175.5 849.1h5M175.5 868.5h5M180.5 833.5V855.5M178 833.5h5M178 855.5h5M185.5 877.5V892.3M183 877.5h5M183 892.3h5M189.2 884.3V897.9M186.7 884.3h5M186.7 897.9h5M194.2 887V900.2M191.7 887h5M191.7 900.2h5M197.9 877.5V892.3M195.4 877.5h5M195.4 892.3h5M201.9 868.9V885.1M199.4 868.9h5M199.4 885.1h5M207.2 891.2V903.8M204.7 891.2h5M204.7 903.8h5M210.8 893.9V905.9M208.3 893.9h5M208.3 905.9h5M215.7 901.7V912.5M213.2 901.7h5M213.2 912.5h5M219.3 901.7V912.5M216.8 901.7h5M216.8 912.5h5M223.6 883.4V897.2M221.1 883.4h5M221.1 897.2h5M227.7 892.6V904.8M225.2 892.6h5M225.2 904.8h5M232.5 880.8V895M230 880.8h5M230 895h5M236.1 879.5V893.9M233.6 879.5h5M233.6 893.9h5M240.5 876.8V891.6M238 876.8h5M238 891.6h5M244.6 858.5V876.3M242.1 858.5h5M242.1 876.3h5M249.4 874.1V889.5M246.9 874.1h5M246.9 889.5h5M253.5 771.5V811.5M251 771.5h5M251 811.5h5" stroke="#D95319" stroke-width="2.0" fill="none"/>
<path d="M164.3 830.9h6.2v6.2h-6.2zM170 857h6.2v6.2h-6.2zM174.9 855.7h6.2v6.2h-6.2zM177.4 841.4h6.2v6.2h-6.2zM182.4 881.8h6.2v6.2h-6.2zM186.1 888h6.2v6.2h-6.2zM191.1 890.5h6.2v6.2h-6.2zM194.8 881.8h6.2v6.2h-6.2zM198.8 873.9h6.2v6.2h-6.2zM204.1 894.4h6.2v6.2h-6.2zM207.7 896.8h6.2v6.2h-6.2zM212.6 904h6.2v6.2h-6.2zM216.2 904h6.2v6.2h-6.2zM220.5 887.2h6.2v6.2h-6.2zM224.6 895.6h6.2v6.2h-6.2zM229.4 884.8h6.2v6.2h-6.2zM233 883.6h6.2v6.2h-6.2zM237.4 881.1h6.2v6.2h-6.2zM241.5 864.3h6.2v6.2h-6.2zM246.3 878.7h6.2v6.2h-6.2zM250.4 788.4h6.2v6.2h-6.2z" fill="#D95319"/>
<line x1="82.7" y1="873.4" x2="91.7" y2="873.4" stroke="#000" stroke-width="2.5"/>
<line x1="330.2" y1="873.4" x2="339.2" y2="873.4" stroke="#000" stroke-width="2.5"/>
<line x1="82.7" y1="809.3" x2="91.7" y2="809.3" stroke="#000" stroke-width="2.5"/>
<line x1="330.2" y1="809.3" x2="339.2" y2="809.3" stroke="#000" stroke-width="2.5"/>
<line x1="82.7" y1="745.2" x2="91.7" y2="745.2" stroke="#000" stroke-width="2.5"/>
<line x1="330.2" y1="745.2" x2="339.2" y2="745.2" stroke="#000" stroke-width="2.5"/>
<line x1="167.9" y1="681.2" x2="167.9" y2="689.9" stroke="#000" stroke-width="2.5"/>
<line x1="167.9" y1="937.4" x2="167.9" y2="928.7" stroke="#000" stroke-width="2.5"/>
<line x1="253.4" y1="681.2" x2="253.4" y2="689.9" stroke="#000" stroke-width="2.5"/>
<line x1="253.4" y1="937.4" x2="253.4" y2="928.7" stroke="#000" stroke-width="2.5"/>
<rect x="82.7" y="681.2" width="256.5" height="256.2" fill="none" stroke="#000" stroke-width="2.5"/>
<text transform="translate(66.09 943.22) scale(0.9887 1)" font-size="23.30" fill="#231f20" stroke="#231f20" stroke-width="0.20">0</text>
<text transform="translate(53.27 879.17) scale(0.9887 1)" font-size="23.30" fill="#231f20" stroke="#231f20" stroke-width="0.20">50</text>
<text transform="translate(40.46 815.12) scale(0.9887 1)" font-size="23.30" fill="#231f20" stroke="#231f20" stroke-width="0.20">100</text>
<text transform="translate(40.46 751.07) scale(0.9887 1)" font-size="23.30" fill="#231f20" stroke="#231f20" stroke-width="0.20">150</text>
<text transform="translate(40.46 687.02) scale(0.9887 1)" font-size="23.30" fill="#231f20" stroke="#231f20" stroke-width="0.20">200</text>
<text transform="translate(70.11 961.12) scale(0.9887 1)" font-size="23.30" fill="#231f20" stroke="#231f20" stroke-width="0.20">0.2</text>
<text transform="translate(155.77 961.12) scale(0.9887 1)" font-size="23.30" fill="#231f20" stroke="#231f20" stroke-width="0.20">0.4</text>
<text transform="translate(241.04 961.12) scale(0.9887 1)" font-size="23.30" fill="#231f20" stroke="#231f20" stroke-width="0.20">0.6</text>
<text transform="translate(326.74 961.12) scale(0.9887 1)" font-size="23.30" fill="#231f20" stroke="#231f20" stroke-width="0.20">0.8</text>
<text transform="translate(31.49 909.46) rotate(-90) scale(1.0120 1)" font-size="23.17" fill="#231f20" stroke="#231f20" stroke-width="0.2"><tspan font-family='"Liberation Sans"'>Intensity (arb. units)</tspan></text>
<text transform="translate(163.36 989.38) scale(1.0083 1)" font-size="21.36" fill="#231f20" stroke="#231f20" stroke-width="0.2"><tspan font-family='"Liberation Sans"'>(⅓,⅓,6+</tspan><tspan font-family='"Liberation Serif"' font-style="italic">l</tspan><tspan font-family='"Liberation Sans"'>)</tspan></text>
<text transform="translate(98.04 707.73) scale(1.0349 1)" font-size="20.02" fill="#000" stroke="#000" stroke-width="0"><tspan font-family='"Liberation Sans"'>(d)</tspan></text>
<path d="M262 700.1h6.8v6.8h-6.8z" fill="#D95319"/>
<path d="M262 729.7a3.4 3.4 0 1 0 6.8 0a3.4 3.4 0 1 0 -6.8 0" fill="#EDB120"/>
<text transform="translate(277.20 709.60) scale(0.9298 1)" font-size="20.62" fill="#231f20" stroke="#231f20" stroke-width="0.2"><tspan font-family='"Liberation Sans"'>90K</tspan></text>
<text transform="translate(277.65 735.70) scale(0.9211 1)" font-size="20.62" fill="#231f20" stroke="#231f20" stroke-width="0.2"><tspan font-family='"Liberation Sans"'>106K</tspan></text>
<line x1="445.9" y1="680.5" x2="445.9" y2="935.8" stroke="#c8c8c8" stroke-width="2.2" stroke-dasharray="9.2 9.3" stroke-dashoffset="14.5"/>
<path d="M449.9 874.3L450.4 874.3L451 874.4L451.7 874.4L452.5 874.4L453.3 874.5L454.2 874.5L455.2 874.5L456.1 874.6L457.1 874.6L458 874.6L458.9 874.6L459.8 874.6L460.6 874.7L461.5 874.7L462.4 874.7L463.4 874.7L464.4 874.7L465.5 874.6L466.7 874.5L468 874.3L469.4 874.1L471 873.8L472.7 873.5L474.5 873.1L476.3 872.7L478.1 872.3L480 871.9L481.9 871.5L483.7 871L485.5 870.6L487.2 870.2L488.9 869.8L490.6 869.5L492.2 869.1L493.9 868.7L495.6 868.3L497.3 867.8L499.1 867.3L501.1 866.7L503.1 866L505.3 865.2L507.7 864.2L510.2 863.2L512.7 862.1L515.4 861L518 859.8L520.5 858.7L523 857.5L525.4 856.4L527.6 855.4L529.6 854.5L531.3 853.7L532.8 853L534.3 852.3L535.7 851.6L537.2 850.8L538.8 849.9L540.6 848.9L542.7 847.8L545.1 846.4L547.9 844.8L551 843L554.3 841L557.9 838.9L561.6 836.7L565.3 834.4L569.1 832.1L572.9 829.8L576.6 827.5L580.2 825.3L583.7 823.1L587.2 820.8L590.7 818.6L594.2 816.3L597.7 814L601.2 811.7L604.7 809.4L608.2 807.1L611.7 804.8L615.2 802.6L618.8 800.3L622.6 797.9L626.5 795.4L630.4 793L634.3 790.5L638.1 788.2L641.6 786L644.8 784L647.7 782.2L650.2 780.7L652.2 779.5L653.9 778.6L655.2 777.8L656.2 777.3L657 776.9L657.7 776.6L658.2 776.4L658.6 776.2L659.1 776L659.5 775.8" stroke="#FF8080" stroke-width="5.0" fill="none" stroke-linejoin="round" stroke-linecap="round"/>
<path d="M439.7 926.7L440.2 926.3L440.8 925.8L441.6 925.2L442.5 924.6L443.3 923.9L444 923.3L444.6 922.7L445.3 922.2L445.9 921.6L446.5 921L447 920.3L447.5 919.5L447.9 918.6L448.4 917.6L448.7 916.5L449.1 915.4L449.3 914.2L449.6 913L449.8 911.7L449.9 910.4L450 909L450.1 907.6L450.2 906.2L450.3 905L450.4 903.8L450.5 902.6L450.6 901.5L450.8 900.4L451.2 899.5L451.8 898.8L452.7 898.3L453.9 898.1L455.3 898L456.8 897.9L458.4 897.9L460 897.8L461.9 897.6L464 897.4L466.3 897.2L468.4 897.1L470.2 896.9L471.5 896.8" stroke="#8080FF" stroke-width="5.0" fill="none" stroke-linejoin="round" stroke-linecap="round"/>
<path d="M437 925.1a3.0 3.0 0 1 0 6.0 0a3.0 3.0 0 1 0 -6.0 0M441.2 920.9a3.0 3.0 0 1 0 6.0 0a3.0 3.0 0 1 0 -6.0 0M449.1 897.2a3.0 3.0 0 1 0 6.0 0a3.0 3.0 0 1 0 -6.0 0M464.8 893.3a3.0 3.0 0 1 0 6.0 0a3.0 3.0 0 1 0 -6.0 0M468.8 895.9a3.0 3.0 0 1 0 6.0 0a3.0 3.0 0 1 0 -6.0 0" fill="#0072BD"/>
<path d="M436.7 926.7a3.0 3.0 0 1 0 6.0 0a3.0 3.0 0 1 0 -6.0 0M440.9 922.5a3.0 3.0 0 1 0 6.0 0a3.0 3.0 0 1 0 -6.0 0M448.8 898.8a3.0 3.0 0 1 0 6.0 0a3.0 3.0 0 1 0 -6.0 0M464.5 894.9a3.0 3.0 0 1 0 6.0 0a3.0 3.0 0 1 0 -6.0 0M468.5 897.5a3.0 3.0 0 1 0 6.0 0a3.0 3.0 0 1 0 -6.0 0" fill="#0044DD"/>
<path d="M451.8 863V874.1M449.3 863h5M449.3 874.1h5M467.9 869.8V878.4M465.4 869.8h5M465.4 878.4h5M470.9 870.7V879.2M468.4 870.7h5M468.4 879.2h5M475.2 877.5V886M472.7 877.5h5M472.7 886h5M479.4 869.8V878.4M476.9 869.8h5M476.9 878.4h5M483.1 866V874.5M480.6 866h5M480.6 874.5h5M503.2 849.4V873.3M500.7 849.4h5M500.7 873.3h5M542.4 818.8V859.6M539.9 818.8h5M539.9 859.6h5M660.6 690.3V864.7M658.1 690.3h5M658.1 864.7h5" stroke="#D95319" stroke-width="2.0" fill="none"/>
<path d="M448.4 865.2h6.8v6.8h-6.8zM464.5 870.7h6.8v6.8h-6.8zM467.5 871.6h6.8v6.8h-6.8zM471.8 878.4h6.8v6.8h-6.8zM476 870.7h6.8v6.8h-6.8zM479.7 866.9h6.8v6.8h-6.8zM499.8 857.9h6.8v6.8h-6.8zM539 835.8h6.8v6.8h-6.8zM657.2 774.1h6.8v6.8h-6.8z" fill="#D95319"/>
<line x1="424.4" y1="893.2" x2="432.9" y2="893.2" stroke="#000" stroke-width="2.5"/>
<line x1="671.8" y1="893.2" x2="680.3" y2="893.2" stroke="#000" stroke-width="2.5"/>
<line x1="424.4" y1="850.7" x2="432.9" y2="850.7" stroke="#000" stroke-width="2.5"/>
<line x1="671.8" y1="850.7" x2="680.3" y2="850.7" stroke="#000" stroke-width="2.5"/>
<line x1="424.4" y1="808.1" x2="432.9" y2="808.1" stroke="#000" stroke-width="2.5"/>
<line x1="671.8" y1="808.1" x2="680.3" y2="808.1" stroke="#000" stroke-width="2.5"/>
<line x1="424.4" y1="765.6" x2="432.9" y2="765.6" stroke="#000" stroke-width="2.5"/>
<line x1="671.8" y1="765.6" x2="680.3" y2="765.6" stroke="#000" stroke-width="2.5"/>
<line x1="424.4" y1="723" x2="432.9" y2="723" stroke="#000" stroke-width="2.5"/>
<line x1="671.8" y1="723" x2="680.3" y2="723" stroke="#000" stroke-width="2.5"/>
<line x1="463.8" y1="680.5" x2="463.8" y2="689.2" stroke="#000" stroke-width="2.5"/>
<line x1="463.8" y1="935.8" x2="463.8" y2="927.1" stroke="#000" stroke-width="2.5"/>
<line x1="562.3" y1="680.5" x2="562.3" y2="689.2" stroke="#000" stroke-width="2.5"/>
<line x1="562.3" y1="935.8" x2="562.3" y2="927.1" stroke="#000" stroke-width="2.5"/>
<line x1="660.8" y1="680.5" x2="660.8" y2="689.2" stroke="#000" stroke-width="2.5"/>
<line x1="660.8" y1="935.8" x2="660.8" y2="927.1" stroke="#000" stroke-width="2.5"/>
<rect x="424.4" y="680.5" width="255.9" height="255.3" fill="none" stroke="#000" stroke-width="2.5"/>
<text transform="translate(408.29 941.62) scale(0.9887 1)" font-size="23.30" fill="#231f20" stroke="#231f20" stroke-width="0.20">0</text>
<text transform="translate(389.29 899.07) scale(0.9887 1)" font-size="23.30" fill="#231f20" stroke="#231f20" stroke-width="0.20">0.1</text>
<text transform="translate(389.33 856.52) scale(0.9887 1)" font-size="23.30" fill="#231f20" stroke="#231f20" stroke-width="0.20">0.2</text>
<text transform="translate(389.18 813.97) scale(0.9887 1)" font-size="23.30" fill="#231f20" stroke="#231f20" stroke-width="0.20">0.3</text>
<text transform="translate(388.84 771.42) scale(0.9887 1)" font-size="23.30" fill="#231f20" stroke="#231f20" stroke-width="0.20">0.4</text>
<text transform="translate(389.14 728.87) scale(0.9887 1)" font-size="23.30" fill="#231f20" stroke="#231f20" stroke-width="0.20">0.5</text>
<text transform="translate(389.18 686.32) scale(0.9887 1)" font-size="23.30" fill="#231f20" stroke="#231f20" stroke-width="0.20">0.6</text>
<text transform="translate(445.35 961.42) scale(0.9887 1)" font-size="23.30" fill="#231f20" stroke="#231f20" stroke-width="0.20">100</text>
<text transform="translate(544.65 961.42) scale(0.9887 1)" font-size="23.30" fill="#231f20" stroke="#231f20" stroke-width="0.20">150</text>
<text transform="translate(641.85 961.42) scale(0.9887 1)" font-size="23.30" fill="#231f20" stroke="#231f20" stroke-width="0.20">200</text>
<text transform="translate(380.49 862.38) rotate(-90) scale(0.9932 1)" font-size="21.79" fill="#231f20" stroke="#231f20" stroke-width="0.2"><tspan font-family='"Liberation Sans"'>FWHM (r.l.u.)</tspan></text>
<text transform="translate(478.59 988.98) scale(1.0341 1)" font-size="21.78" fill="#231f20" stroke="#231f20" stroke-width="0.2"><tspan font-family='"Liberation Sans"'>Temperature (K)</tspan></text>
<text transform="translate(433.07 707.36) scale(1.0411 1)" font-size="19.37" fill="#000" stroke="#000" stroke-width="0"><tspan font-family='"Liberation Sans"'>(e)</tspan></text>
<text transform="translate(447.01 783.70) scale(0.9313 1)" font-size="23.55" fill="#231f20" stroke="#231f20" stroke-width="0.2"><tspan font-family='"Liberation Sans"'>T</tspan></text>
<text transform="translate(460.04 791.96) scale(0.9254 1)" font-size="13.98" fill="#231f20" stroke="#231f20" stroke-width="0.2"><tspan font-family='"Liberation Sans"'>CDW</tspan></text>
<path d="M515.7 704.3a2.9 2.9 0 1 0 5.8 0a2.9 2.9 0 1 0 -5.8 0" fill="#0072BD"/>
<path d="M515.7 736.1h5.8v5.8h-5.8z" fill="#D95319"/>
<text transform="translate(525.57 711.51) scale(1.0362 1)" font-size="19.61" fill="#231f20" stroke="#231f20" stroke-width="0.2"><tspan font-family='"Liberation Sans"' font-weight="bold">Q</tspan><tspan font-family='"Liberation Sans"'>=(0,0,6)+</tspan><tspan font-family='"Liberation Sans"' font-weight="bold">q</tspan><tspan font-family='"Liberation Sans"' font-size="10.8" dy="5.9">S</tspan></text>
<text transform="translate(525.56 747.32) scale(1.0998 1)" font-size="18.69" fill="#231f20" stroke="#231f20" stroke-width="0.2"><tspan font-family='"Liberation Sans"' font-weight="bold">Q</tspan><tspan font-family='"Liberation Sans"'>=(0,0,6)+</tspan><tspan font-family='"Liberation Sans"' font-weight="bold">q</tspan><tspan font-family='"Liberation Sans"' font-size="11.6" dy="-9.3">*</tspan></text>
</svg>
</body></html>
